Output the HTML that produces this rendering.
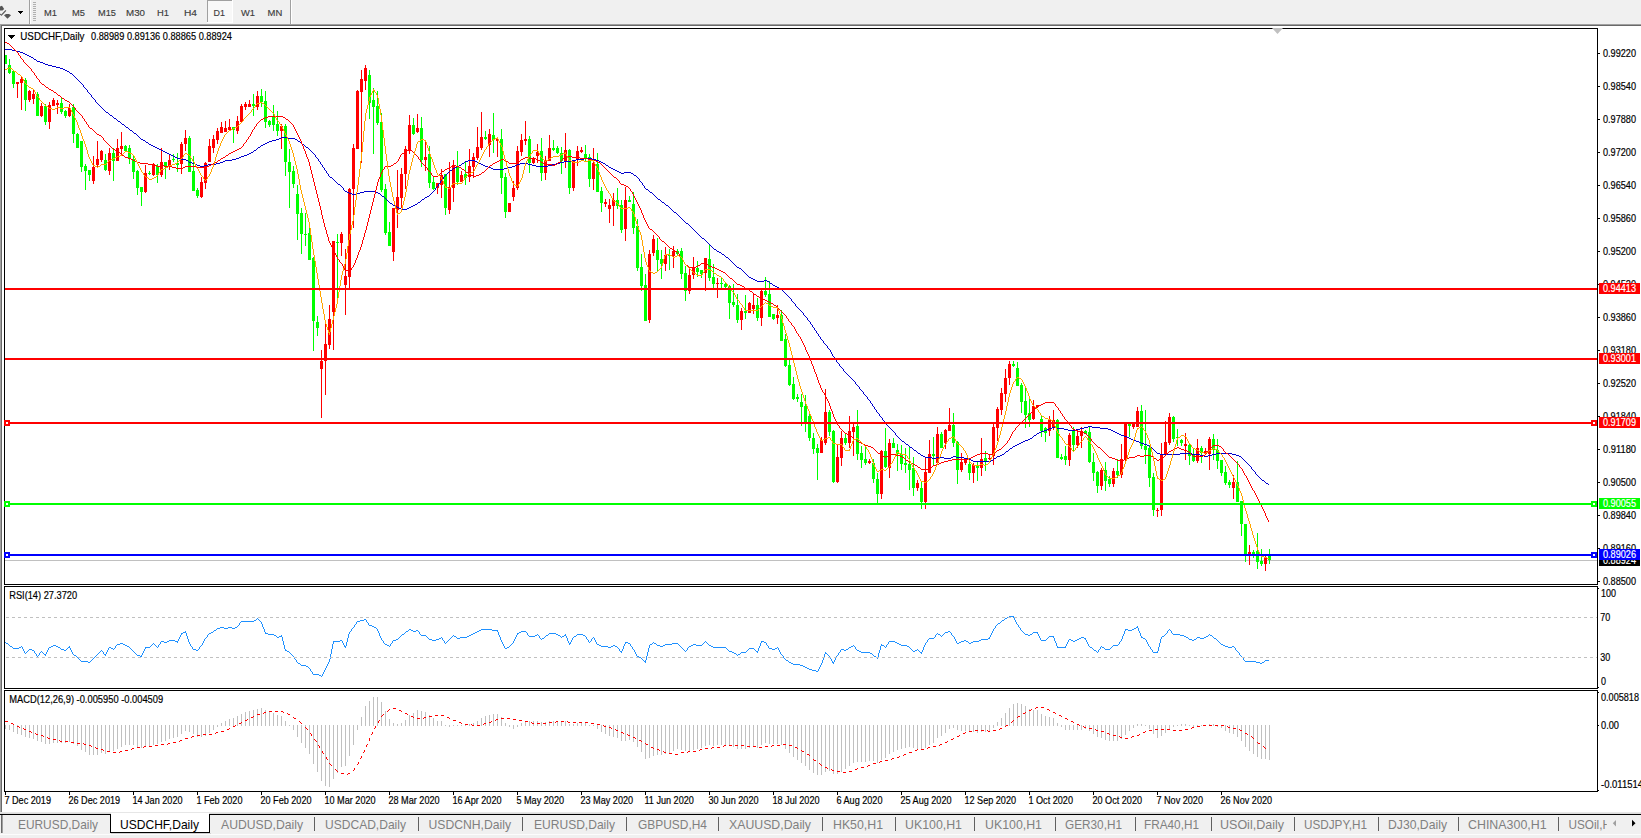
<!DOCTYPE html>
<html><head><meta charset="utf-8"><title>USDCHF,Daily</title>
<style>
html,body{margin:0;padding:0;background:#fff;}
body{width:1641px;height:838px;overflow:hidden;position:relative;font-family:"Liberation Sans", Arial, sans-serif;}
#chart{position:absolute;left:0;top:0;width:1641px;height:838px;}
svg text{font-family:"Liberation Sans", Arial, sans-serif;}
</style></head><body>
<svg id="chart" width="1641" height="838" viewBox="0 0 1641 838" shape-rendering="crispEdges">
<rect x="0" y="0" width="1641" height="838" fill="#ffffff"/>
<rect x="0" y="0" width="1641" height="24" fill="#f0f0f0"/>
<rect x="0" y="24" width="1641" height="1" fill="#a0a0a0"/>
<rect x="0" y="25" width="1641" height="1" fill="#696969"/>
<rect x="0" y="25" width="1" height="788" fill="#a0a0a0"/>
<rect x="1" y="26" width="1" height="787" fill="#696969"/>
<g id="toolbar">
<path d="M0 6.5 L2 5.8 L4.2 9 L2.5 10.6 L0 10.6 Z" fill="#555" shape-rendering="auto"/>
<path d="M5.9 10.3 L1.2 15.4" stroke="#555" stroke-width="1.2" fill="none" shape-rendering="auto"/>
<path d="M0 13.6 L1.2 15.4" stroke="#555" stroke-width="1" fill="none" shape-rendering="auto"/>
<path d="M4 15.3 L6 14 L9 14 L11 15.3 L7.5 18.8 Z" fill="#555" shape-rendering="auto"/>
<rect x="18" y="11" width="5" height="1" fill="#000"/>
<rect x="19" y="12" width="3" height="1" fill="#000"/>
<rect x="20" y="13" width="1" height="1" fill="#000"/>
<rect x="29" y="0" width="1" height="24" fill="#a0a0a0"/>
<rect x="30" y="0" width="1" height="24" fill="#ffffff"/>
<rect x="33" y="2" width="3" height="1" fill="#b0b0b0"/>
<rect x="33" y="4" width="3" height="1" fill="#b0b0b0"/>
<rect x="33" y="6" width="3" height="1" fill="#b0b0b0"/>
<rect x="33" y="8" width="3" height="1" fill="#b0b0b0"/>
<rect x="33" y="10" width="3" height="1" fill="#b0b0b0"/>
<rect x="33" y="12" width="3" height="1" fill="#b0b0b0"/>
<rect x="33" y="14" width="3" height="1" fill="#b0b0b0"/>
<rect x="33" y="16" width="3" height="1" fill="#b0b0b0"/>
<rect x="33" y="18" width="3" height="1" fill="#b0b0b0"/>
<rect x="33" y="20" width="3" height="1" fill="#b0b0b0"/>
<rect x="207" y="0" width="25" height="22" fill="#f8f8f8"/>
<rect x="207" y="0" width="1" height="22" fill="#a0a0a0"/>
<rect x="207" y="0" width="25" height="1" fill="#a0a0a0"/>
<rect x="232" y="0" width="1" height="23" fill="#ffffff"/>
<rect x="207" y="22" width="26" height="1" fill="#ffffff"/>
<text x="44" y="16" font-size="9.8" fill="#3c3c3c" stroke="#3c3c3c" stroke-width="0.15" textLength="13" lengthAdjust="spacingAndGlyphs" shape-rendering="auto">M1</text>
<text x="72" y="16" font-size="9.8" fill="#3c3c3c" stroke="#3c3c3c" stroke-width="0.15" textLength="13" lengthAdjust="spacingAndGlyphs" shape-rendering="auto">M5</text>
<text x="98" y="16" font-size="9.8" fill="#3c3c3c" stroke="#3c3c3c" stroke-width="0.15" textLength="18" lengthAdjust="spacingAndGlyphs" shape-rendering="auto">M15</text>
<text x="126" y="16" font-size="9.8" fill="#3c3c3c" stroke="#3c3c3c" stroke-width="0.15" textLength="19" lengthAdjust="spacingAndGlyphs" shape-rendering="auto">M30</text>
<text x="157" y="16" font-size="9.8" fill="#3c3c3c" stroke="#3c3c3c" stroke-width="0.15" textLength="12" lengthAdjust="spacingAndGlyphs" shape-rendering="auto">H1</text>
<text x="184" y="16" font-size="9.8" fill="#3c3c3c" stroke="#3c3c3c" stroke-width="0.15" textLength="13" lengthAdjust="spacingAndGlyphs" shape-rendering="auto">H4</text>
<text x="213.6" y="16" font-size="9.8" fill="#3c3c3c" stroke="#3c3c3c" stroke-width="0.15" textLength="11.4" lengthAdjust="spacingAndGlyphs" shape-rendering="auto">D1</text>
<text x="241" y="16" font-size="9.8" fill="#3c3c3c" stroke="#3c3c3c" stroke-width="0.15" textLength="14" lengthAdjust="spacingAndGlyphs" shape-rendering="auto">W1</text>
<text x="267.6" y="16" font-size="9.8" fill="#3c3c3c" stroke="#3c3c3c" stroke-width="0.15" textLength="14.7" lengthAdjust="spacingAndGlyphs" shape-rendering="auto">MN</text>
<rect x="290" y="0" width="1" height="24" fill="#a0a0a0"/>
<rect x="291" y="0" width="1" height="24" fill="#ffffff"/>
</g>
<rect x="4" y="28" width="1594" height="1" fill="#000"/>
<rect x="4" y="584" width="1594" height="1" fill="#000"/>
<rect x="4" y="28" width="1" height="557" fill="#000"/>
<rect x="1597" y="28" width="1" height="557" fill="#000"/>
<rect x="4" y="586" width="1594" height="1" fill="#000"/>
<rect x="4" y="688" width="1594" height="1" fill="#000"/>
<rect x="4" y="586" width="1" height="103" fill="#000"/>
<rect x="1597" y="586" width="1" height="103" fill="#000"/>
<rect x="4" y="690" width="1594" height="1" fill="#000"/>
<rect x="4" y="791" width="1594" height="1" fill="#000"/>
<rect x="4" y="690" width="1" height="102" fill="#000"/>
<rect x="1597" y="690" width="1" height="102" fill="#000"/>
<rect x="1598" y="53" width="2" height="1" fill="#000"/>
<text x="1603" y="57" font-size="10.2" fill="#000" textLength="33" lengthAdjust="spacingAndGlyphs" stroke="#000" stroke-width="0.18" text-anchor="start" shape-rendering="auto">0.99220</text>
<rect x="1598" y="86" width="2" height="1" fill="#000"/>
<text x="1603" y="90" font-size="10.2" fill="#000" textLength="33" lengthAdjust="spacingAndGlyphs" stroke="#000" stroke-width="0.18" text-anchor="start" shape-rendering="auto">0.98540</text>
<rect x="1598" y="119" width="2" height="1" fill="#000"/>
<text x="1603" y="123" font-size="10.2" fill="#000" textLength="33" lengthAdjust="spacingAndGlyphs" stroke="#000" stroke-width="0.18" text-anchor="start" shape-rendering="auto">0.97880</text>
<rect x="1598" y="152" width="2" height="1" fill="#000"/>
<text x="1603" y="156" font-size="10.2" fill="#000" textLength="33" lengthAdjust="spacingAndGlyphs" stroke="#000" stroke-width="0.18" text-anchor="start" shape-rendering="auto">0.97200</text>
<rect x="1598" y="185" width="2" height="1" fill="#000"/>
<text x="1603" y="189" font-size="10.2" fill="#000" textLength="33" lengthAdjust="spacingAndGlyphs" stroke="#000" stroke-width="0.18" text-anchor="start" shape-rendering="auto">0.96540</text>
<rect x="1598" y="218" width="2" height="1" fill="#000"/>
<text x="1603" y="222" font-size="10.2" fill="#000" textLength="33" lengthAdjust="spacingAndGlyphs" stroke="#000" stroke-width="0.18" text-anchor="start" shape-rendering="auto">0.95860</text>
<rect x="1598" y="251" width="2" height="1" fill="#000"/>
<text x="1603" y="255" font-size="10.2" fill="#000" textLength="33" lengthAdjust="spacingAndGlyphs" stroke="#000" stroke-width="0.18" text-anchor="start" shape-rendering="auto">0.95200</text>
<rect x="1598" y="284" width="2" height="1" fill="#000"/>
<text x="1603" y="288" font-size="10.2" fill="#000" textLength="33" lengthAdjust="spacingAndGlyphs" stroke="#000" stroke-width="0.18" text-anchor="start" shape-rendering="auto">0.94520</text>
<rect x="1598" y="317" width="2" height="1" fill="#000"/>
<text x="1603" y="321" font-size="10.2" fill="#000" textLength="33" lengthAdjust="spacingAndGlyphs" stroke="#000" stroke-width="0.18" text-anchor="start" shape-rendering="auto">0.93860</text>
<rect x="1598" y="350" width="2" height="1" fill="#000"/>
<text x="1603" y="354" font-size="10.2" fill="#000" textLength="33" lengthAdjust="spacingAndGlyphs" stroke="#000" stroke-width="0.18" text-anchor="start" shape-rendering="auto">0.93180</text>
<rect x="1598" y="383" width="2" height="1" fill="#000"/>
<text x="1603" y="387" font-size="10.2" fill="#000" textLength="33" lengthAdjust="spacingAndGlyphs" stroke="#000" stroke-width="0.18" text-anchor="start" shape-rendering="auto">0.92520</text>
<rect x="1598" y="416" width="2" height="1" fill="#000"/>
<text x="1603" y="420" font-size="10.2" fill="#000" textLength="33" lengthAdjust="spacingAndGlyphs" stroke="#000" stroke-width="0.18" text-anchor="start" shape-rendering="auto">0.91840</text>
<rect x="1598" y="449" width="2" height="1" fill="#000"/>
<text x="1603" y="453" font-size="10.2" fill="#000" textLength="33" lengthAdjust="spacingAndGlyphs" stroke="#000" stroke-width="0.18" text-anchor="start" shape-rendering="auto">0.91180</text>
<rect x="1598" y="482" width="2" height="1" fill="#000"/>
<text x="1603" y="486" font-size="10.2" fill="#000" textLength="33" lengthAdjust="spacingAndGlyphs" stroke="#000" stroke-width="0.18" text-anchor="start" shape-rendering="auto">0.90500</text>
<rect x="1598" y="515" width="2" height="1" fill="#000"/>
<text x="1603" y="519" font-size="10.2" fill="#000" textLength="33" lengthAdjust="spacingAndGlyphs" stroke="#000" stroke-width="0.18" text-anchor="start" shape-rendering="auto">0.89840</text>
<rect x="1598" y="548" width="2" height="1" fill="#000"/>
<text x="1603" y="552" font-size="10.2" fill="#000" textLength="33" lengthAdjust="spacingAndGlyphs" stroke="#000" stroke-width="0.18" text-anchor="start" shape-rendering="auto">0.89160</text>
<rect x="1598" y="581" width="2" height="1" fill="#000"/>
<text x="1603" y="585" font-size="10.2" fill="#000" textLength="33" lengthAdjust="spacingAndGlyphs" stroke="#000" stroke-width="0.18" text-anchor="start" shape-rendering="auto">0.88500</text>
<rect x="5" y="560" width="1592" height="1" fill="#c0c0c0"/>
<g id="candles">
<rect x="5" y="55" width="1" height="9" fill="#00ff00"/>
<rect x="5" y="55" width="2" height="9" fill="#00ff00"/>
<rect x="9" y="59" width="1" height="15" fill="#00ff00"/>
<rect x="8" y="65" width="3" height="8" fill="#00ff00"/>
<rect x="13" y="71" width="1" height="17" fill="#00ff00"/>
<rect x="12" y="71" width="3" height="13" fill="#00ff00"/>
<rect x="17" y="82" width="1" height="16" fill="#ff0000"/>
<rect x="16" y="82" width="3" height="2" fill="#ff0000"/>
<rect x="21" y="77" width="1" height="33" fill="#ff0000"/>
<rect x="20" y="79" width="3" height="4" fill="#ff0000"/>
<rect x="25" y="78" width="1" height="33" fill="#00ff00"/>
<rect x="24" y="80" width="3" height="20" fill="#00ff00"/>
<rect x="29" y="90" width="1" height="12" fill="#ff0000"/>
<rect x="28" y="91" width="3" height="9" fill="#ff0000"/>
<rect x="33" y="90" width="1" height="14" fill="#ff0000"/>
<rect x="32" y="94" width="3" height="5" fill="#ff0000"/>
<rect x="37" y="92" width="1" height="24" fill="#00ff00"/>
<rect x="36" y="94" width="3" height="22" fill="#00ff00"/>
<rect x="41" y="103" width="1" height="14" fill="#ff0000"/>
<rect x="40" y="106" width="3" height="10" fill="#ff0000"/>
<rect x="45" y="104" width="1" height="21" fill="#00ff00"/>
<rect x="44" y="106" width="3" height="16" fill="#00ff00"/>
<rect x="49" y="102" width="1" height="27" fill="#ff0000"/>
<rect x="48" y="105" width="3" height="17" fill="#ff0000"/>
<rect x="53" y="98" width="1" height="8" fill="#ff0000"/>
<rect x="52" y="100" width="3" height="6" fill="#ff0000"/>
<rect x="57" y="100" width="1" height="14" fill="#ff0000"/>
<rect x="56" y="103" width="3" height="2" fill="#ff0000"/>
<rect x="61" y="98" width="1" height="16" fill="#00ff00"/>
<rect x="60" y="103" width="3" height="9" fill="#00ff00"/>
<rect x="65" y="110" width="1" height="8" fill="#00ff00"/>
<rect x="64" y="111" width="3" height="5" fill="#00ff00"/>
<rect x="69" y="104" width="1" height="13" fill="#ff0000"/>
<rect x="68" y="108" width="3" height="8" fill="#ff0000"/>
<rect x="73" y="104" width="1" height="39" fill="#00ff00"/>
<rect x="72" y="107" width="3" height="27" fill="#00ff00"/>
<rect x="77" y="133" width="1" height="15" fill="#00ff00"/>
<rect x="76" y="134" width="3" height="14" fill="#00ff00"/>
<rect x="81" y="141" width="1" height="31" fill="#00ff00"/>
<rect x="80" y="141" width="3" height="26" fill="#00ff00"/>
<rect x="85" y="164" width="1" height="26" fill="#00ff00"/>
<rect x="84" y="166" width="3" height="5" fill="#00ff00"/>
<rect x="89" y="170" width="1" height="11" fill="#00ff00"/>
<rect x="88" y="170" width="3" height="5" fill="#00ff00"/>
<rect x="93" y="156" width="1" height="28" fill="#ff0000"/>
<rect x="92" y="167" width="3" height="14" fill="#ff0000"/>
<rect x="97" y="141" width="1" height="27" fill="#ff0000"/>
<rect x="96" y="159" width="3" height="6" fill="#ff0000"/>
<rect x="101" y="150" width="1" height="12" fill="#ff0000"/>
<rect x="100" y="151" width="3" height="9" fill="#ff0000"/>
<rect x="105" y="154" width="1" height="17" fill="#00ff00"/>
<rect x="104" y="160" width="3" height="10" fill="#00ff00"/>
<rect x="109" y="148" width="1" height="27" fill="#ff0000"/>
<rect x="108" y="153" width="3" height="18" fill="#ff0000"/>
<rect x="113" y="148" width="1" height="33" fill="#00ff00"/>
<rect x="112" y="153" width="3" height="8" fill="#00ff00"/>
<rect x="117" y="139" width="1" height="22" fill="#ff0000"/>
<rect x="116" y="148" width="3" height="13" fill="#ff0000"/>
<rect x="121" y="132" width="1" height="22" fill="#ff0000"/>
<rect x="120" y="146" width="3" height="3" fill="#ff0000"/>
<rect x="125" y="145" width="1" height="6" fill="#00ff00"/>
<rect x="124" y="146" width="3" height="5" fill="#00ff00"/>
<rect x="129" y="145" width="1" height="19" fill="#00ff00"/>
<rect x="128" y="148" width="3" height="11" fill="#00ff00"/>
<rect x="133" y="155" width="1" height="24" fill="#00ff00"/>
<rect x="132" y="159" width="3" height="13" fill="#00ff00"/>
<rect x="137" y="170" width="1" height="25" fill="#00ff00"/>
<rect x="136" y="171" width="3" height="17" fill="#00ff00"/>
<rect x="141" y="187" width="1" height="19" fill="#00ff00"/>
<rect x="140" y="187" width="3" height="5" fill="#00ff00"/>
<rect x="145" y="165" width="1" height="28" fill="#ff0000"/>
<rect x="144" y="173" width="3" height="19" fill="#ff0000"/>
<rect x="149" y="171" width="1" height="4" fill="#00ff00"/>
<rect x="148" y="173" width="3" height="1" fill="#00ff00"/>
<rect x="153" y="163" width="1" height="13" fill="#ff0000"/>
<rect x="152" y="164" width="3" height="11" fill="#ff0000"/>
<rect x="157" y="164" width="1" height="19" fill="#00ff00"/>
<rect x="156" y="166" width="3" height="9" fill="#00ff00"/>
<rect x="161" y="148" width="1" height="29" fill="#ff0000"/>
<rect x="160" y="162" width="3" height="13" fill="#ff0000"/>
<rect x="165" y="162" width="1" height="17" fill="#00ff00"/>
<rect x="164" y="162" width="3" height="4" fill="#00ff00"/>
<rect x="169" y="155" width="1" height="15" fill="#ff0000"/>
<rect x="168" y="160" width="3" height="7" fill="#ff0000"/>
<rect x="173" y="154" width="1" height="8" fill="#00ff00"/>
<rect x="172" y="159" width="3" height="1" fill="#00ff00"/>
<rect x="177" y="153" width="1" height="19" fill="#00ff00"/>
<rect x="176" y="163" width="3" height="2" fill="#00ff00"/>
<rect x="181" y="142" width="1" height="32" fill="#ff0000"/>
<rect x="180" y="144" width="3" height="20" fill="#ff0000"/>
<rect x="185" y="130" width="1" height="21" fill="#ff0000"/>
<rect x="184" y="138" width="3" height="6" fill="#ff0000"/>
<rect x="189" y="136" width="1" height="36" fill="#00ff00"/>
<rect x="188" y="138" width="3" height="34" fill="#00ff00"/>
<rect x="193" y="156" width="1" height="35" fill="#00ff00"/>
<rect x="192" y="171" width="3" height="20" fill="#00ff00"/>
<rect x="197" y="188" width="1" height="10" fill="#00ff00"/>
<rect x="196" y="190" width="3" height="6" fill="#00ff00"/>
<rect x="201" y="177" width="1" height="21" fill="#ff0000"/>
<rect x="200" y="182" width="3" height="15" fill="#ff0000"/>
<rect x="205" y="162" width="1" height="27" fill="#ff0000"/>
<rect x="204" y="163" width="3" height="20" fill="#ff0000"/>
<rect x="209" y="139" width="1" height="23" fill="#ff0000"/>
<rect x="208" y="146" width="3" height="16" fill="#ff0000"/>
<rect x="213" y="135" width="1" height="18" fill="#ff0000"/>
<rect x="212" y="139" width="3" height="9" fill="#ff0000"/>
<rect x="217" y="128" width="1" height="16" fill="#ff0000"/>
<rect x="216" y="131" width="3" height="9" fill="#ff0000"/>
<rect x="221" y="122" width="1" height="11" fill="#ff0000"/>
<rect x="220" y="127" width="3" height="6" fill="#ff0000"/>
<rect x="225" y="121" width="1" height="11" fill="#ff0000"/>
<rect x="224" y="128" width="3" height="4" fill="#ff0000"/>
<rect x="229" y="119" width="1" height="11" fill="#ff0000"/>
<rect x="228" y="127" width="3" height="3" fill="#ff0000"/>
<rect x="233" y="127" width="1" height="16" fill="#00ff00"/>
<rect x="232" y="127" width="3" height="3" fill="#00ff00"/>
<rect x="237" y="116" width="1" height="18" fill="#ff0000"/>
<rect x="236" y="121" width="3" height="10" fill="#ff0000"/>
<rect x="241" y="104" width="1" height="18" fill="#ff0000"/>
<rect x="240" y="106" width="3" height="16" fill="#ff0000"/>
<rect x="245" y="102" width="1" height="8" fill="#ff0000"/>
<rect x="244" y="104" width="3" height="3" fill="#ff0000"/>
<rect x="249" y="100" width="1" height="7" fill="#ff0000"/>
<rect x="248" y="104" width="3" height="3" fill="#ff0000"/>
<rect x="253" y="94" width="1" height="22" fill="#00ff00"/>
<rect x="252" y="104" width="3" height="2" fill="#00ff00"/>
<rect x="257" y="91" width="1" height="19" fill="#ff0000"/>
<rect x="256" y="96" width="3" height="11" fill="#ff0000"/>
<rect x="261" y="89" width="1" height="18" fill="#00ff00"/>
<rect x="260" y="96" width="3" height="6" fill="#00ff00"/>
<rect x="265" y="91" width="1" height="37" fill="#00ff00"/>
<rect x="264" y="101" width="3" height="21" fill="#00ff00"/>
<rect x="269" y="120" width="1" height="7" fill="#00ff00"/>
<rect x="268" y="121" width="3" height="4" fill="#00ff00"/>
<rect x="273" y="105" width="1" height="26" fill="#00ff00"/>
<rect x="272" y="116" width="3" height="9" fill="#00ff00"/>
<rect x="277" y="111" width="1" height="25" fill="#00ff00"/>
<rect x="276" y="124" width="3" height="7" fill="#00ff00"/>
<rect x="281" y="124" width="1" height="25" fill="#ff0000"/>
<rect x="280" y="126" width="3" height="5" fill="#ff0000"/>
<rect x="285" y="124" width="1" height="52" fill="#00ff00"/>
<rect x="284" y="126" width="3" height="36" fill="#00ff00"/>
<rect x="289" y="149" width="1" height="59" fill="#00ff00"/>
<rect x="288" y="162" width="3" height="10" fill="#00ff00"/>
<rect x="293" y="166" width="1" height="22" fill="#00ff00"/>
<rect x="292" y="171" width="3" height="13" fill="#00ff00"/>
<rect x="297" y="185" width="1" height="55" fill="#00ff00"/>
<rect x="296" y="194" width="3" height="20" fill="#00ff00"/>
<rect x="301" y="208" width="1" height="46" fill="#00ff00"/>
<rect x="300" y="213" width="3" height="21" fill="#00ff00"/>
<rect x="305" y="213" width="1" height="33" fill="#00ff00"/>
<rect x="304" y="234" width="3" height="1" fill="#00ff00"/>
<rect x="309" y="222" width="1" height="38" fill="#00ff00"/>
<rect x="308" y="233" width="3" height="27" fill="#00ff00"/>
<rect x="313" y="257" width="1" height="94" fill="#00ff00"/>
<rect x="312" y="258" width="3" height="63" fill="#00ff00"/>
<rect x="317" y="316" width="1" height="20" fill="#00ff00"/>
<rect x="316" y="322" width="3" height="6" fill="#00ff00"/>
<rect x="321" y="350" width="1" height="68" fill="#ff0000"/>
<rect x="320" y="361" width="3" height="8" fill="#ff0000"/>
<rect x="325" y="324" width="1" height="71" fill="#ff0000"/>
<rect x="324" y="344" width="3" height="17" fill="#ff0000"/>
<rect x="329" y="305" width="1" height="44" fill="#ff0000"/>
<rect x="328" y="319" width="3" height="26" fill="#ff0000"/>
<rect x="333" y="241" width="1" height="109" fill="#ff0000"/>
<rect x="332" y="241" width="3" height="71" fill="#ff0000"/>
<rect x="337" y="234" width="1" height="65" fill="#00ff00"/>
<rect x="336" y="242" width="3" height="1" fill="#00ff00"/>
<rect x="341" y="232" width="1" height="24" fill="#ff0000"/>
<rect x="340" y="234" width="3" height="9" fill="#ff0000"/>
<rect x="345" y="249" width="1" height="66" fill="#ff0000"/>
<rect x="344" y="276" width="3" height="9" fill="#ff0000"/>
<rect x="349" y="188" width="1" height="100" fill="#ff0000"/>
<rect x="348" y="189" width="3" height="88" fill="#ff0000"/>
<rect x="353" y="144" width="1" height="84" fill="#ff0000"/>
<rect x="352" y="148" width="3" height="41" fill="#ff0000"/>
<rect x="357" y="90" width="1" height="59" fill="#ff0000"/>
<rect x="356" y="91" width="3" height="58" fill="#ff0000"/>
<rect x="361" y="70" width="1" height="93" fill="#ff0000"/>
<rect x="360" y="79" width="3" height="13" fill="#ff0000"/>
<rect x="365" y="65" width="1" height="25" fill="#ff0000"/>
<rect x="364" y="68" width="3" height="13" fill="#ff0000"/>
<rect x="369" y="70" width="1" height="49" fill="#00ff00"/>
<rect x="368" y="75" width="3" height="28" fill="#00ff00"/>
<rect x="373" y="88" width="1" height="66" fill="#00ff00"/>
<rect x="372" y="100" width="3" height="7" fill="#00ff00"/>
<rect x="377" y="91" width="1" height="34" fill="#00ff00"/>
<rect x="376" y="106" width="3" height="17" fill="#00ff00"/>
<rect x="381" y="113" width="1" height="79" fill="#00ff00"/>
<rect x="380" y="122" width="3" height="68" fill="#00ff00"/>
<rect x="385" y="184" width="1" height="51" fill="#00ff00"/>
<rect x="384" y="189" width="3" height="44" fill="#00ff00"/>
<rect x="389" y="222" width="1" height="24" fill="#00ff00"/>
<rect x="388" y="232" width="3" height="14" fill="#00ff00"/>
<rect x="393" y="208" width="1" height="53" fill="#ff0000"/>
<rect x="392" y="208" width="3" height="44" fill="#ff0000"/>
<rect x="397" y="170" width="1" height="58" fill="#ff0000"/>
<rect x="396" y="197" width="3" height="13" fill="#ff0000"/>
<rect x="401" y="168" width="1" height="40" fill="#ff0000"/>
<rect x="400" y="174" width="3" height="24" fill="#ff0000"/>
<rect x="405" y="146" width="1" height="43" fill="#ff0000"/>
<rect x="404" y="149" width="3" height="25" fill="#ff0000"/>
<rect x="409" y="115" width="1" height="39" fill="#ff0000"/>
<rect x="408" y="125" width="3" height="25" fill="#ff0000"/>
<rect x="413" y="118" width="1" height="17" fill="#00ff00"/>
<rect x="412" y="125" width="3" height="9" fill="#00ff00"/>
<rect x="417" y="114" width="1" height="19" fill="#ff0000"/>
<rect x="416" y="128" width="3" height="4" fill="#ff0000"/>
<rect x="421" y="117" width="1" height="50" fill="#00ff00"/>
<rect x="420" y="128" width="3" height="32" fill="#00ff00"/>
<rect x="425" y="142" width="1" height="29" fill="#ff0000"/>
<rect x="424" y="157" width="3" height="3" fill="#ff0000"/>
<rect x="429" y="146" width="1" height="42" fill="#00ff00"/>
<rect x="428" y="154" width="3" height="29" fill="#00ff00"/>
<rect x="433" y="177" width="1" height="13" fill="#00ff00"/>
<rect x="432" y="182" width="3" height="7" fill="#00ff00"/>
<rect x="437" y="183" width="1" height="11" fill="#ff0000"/>
<rect x="436" y="183" width="3" height="5" fill="#ff0000"/>
<rect x="441" y="169" width="1" height="29" fill="#ff0000"/>
<rect x="440" y="175" width="3" height="10" fill="#ff0000"/>
<rect x="445" y="174" width="1" height="41" fill="#00ff00"/>
<rect x="444" y="174" width="3" height="34" fill="#00ff00"/>
<rect x="449" y="162" width="1" height="52" fill="#ff0000"/>
<rect x="448" y="187" width="3" height="23" fill="#ff0000"/>
<rect x="453" y="160" width="1" height="42" fill="#ff0000"/>
<rect x="452" y="165" width="3" height="23" fill="#ff0000"/>
<rect x="457" y="151" width="1" height="34" fill="#00ff00"/>
<rect x="456" y="166" width="3" height="16" fill="#00ff00"/>
<rect x="461" y="171" width="1" height="11" fill="#ff0000"/>
<rect x="460" y="175" width="3" height="7" fill="#ff0000"/>
<rect x="465" y="162" width="1" height="23" fill="#00ff00"/>
<rect x="464" y="174" width="3" height="4" fill="#00ff00"/>
<rect x="469" y="149" width="1" height="33" fill="#ff0000"/>
<rect x="468" y="166" width="3" height="11" fill="#ff0000"/>
<rect x="473" y="153" width="1" height="25" fill="#ff0000"/>
<rect x="472" y="157" width="3" height="10" fill="#ff0000"/>
<rect x="477" y="127" width="1" height="33" fill="#ff0000"/>
<rect x="476" y="147" width="3" height="11" fill="#ff0000"/>
<rect x="481" y="112" width="1" height="38" fill="#ff0000"/>
<rect x="480" y="137" width="3" height="11" fill="#ff0000"/>
<rect x="485" y="131" width="1" height="9" fill="#00ff00"/>
<rect x="484" y="137" width="3" height="2" fill="#00ff00"/>
<rect x="489" y="129" width="1" height="28" fill="#ff0000"/>
<rect x="488" y="134" width="3" height="11" fill="#ff0000"/>
<rect x="493" y="113" width="1" height="40" fill="#00ff00"/>
<rect x="492" y="135" width="3" height="5" fill="#00ff00"/>
<rect x="497" y="137" width="1" height="20" fill="#ff0000"/>
<rect x="496" y="139" width="3" height="2" fill="#ff0000"/>
<rect x="501" y="129" width="1" height="65" fill="#00ff00"/>
<rect x="500" y="139" width="3" height="39" fill="#00ff00"/>
<rect x="505" y="173" width="1" height="45" fill="#00ff00"/>
<rect x="504" y="177" width="3" height="35" fill="#00ff00"/>
<rect x="509" y="203" width="1" height="9" fill="#ff0000"/>
<rect x="508" y="203" width="3" height="9" fill="#ff0000"/>
<rect x="513" y="181" width="1" height="20" fill="#ff0000"/>
<rect x="512" y="188" width="3" height="9" fill="#ff0000"/>
<rect x="517" y="146" width="1" height="44" fill="#ff0000"/>
<rect x="516" y="151" width="3" height="37" fill="#ff0000"/>
<rect x="521" y="134" width="1" height="22" fill="#ff0000"/>
<rect x="520" y="140" width="3" height="12" fill="#ff0000"/>
<rect x="525" y="121" width="1" height="24" fill="#ff0000"/>
<rect x="524" y="139" width="3" height="2" fill="#ff0000"/>
<rect x="529" y="136" width="1" height="37" fill="#00ff00"/>
<rect x="528" y="139" width="3" height="24" fill="#00ff00"/>
<rect x="533" y="157" width="1" height="7" fill="#ff0000"/>
<rect x="532" y="159" width="3" height="4" fill="#ff0000"/>
<rect x="537" y="144" width="1" height="19" fill="#ff0000"/>
<rect x="536" y="152" width="3" height="4" fill="#ff0000"/>
<rect x="541" y="138" width="1" height="43" fill="#00ff00"/>
<rect x="540" y="151" width="3" height="22" fill="#00ff00"/>
<rect x="545" y="156" width="1" height="24" fill="#ff0000"/>
<rect x="544" y="161" width="3" height="12" fill="#ff0000"/>
<rect x="549" y="135" width="1" height="26" fill="#ff0000"/>
<rect x="548" y="148" width="3" height="13" fill="#ff0000"/>
<rect x="553" y="140" width="1" height="11" fill="#00ff00"/>
<rect x="552" y="148" width="3" height="2" fill="#00ff00"/>
<rect x="557" y="146" width="1" height="8" fill="#00ff00"/>
<rect x="556" y="148" width="3" height="5" fill="#00ff00"/>
<rect x="561" y="147" width="1" height="27" fill="#00ff00"/>
<rect x="560" y="153" width="3" height="8" fill="#00ff00"/>
<rect x="565" y="133" width="1" height="35" fill="#ff0000"/>
<rect x="564" y="150" width="3" height="11" fill="#ff0000"/>
<rect x="569" y="149" width="1" height="45" fill="#00ff00"/>
<rect x="568" y="150" width="3" height="38" fill="#00ff00"/>
<rect x="573" y="160" width="1" height="31" fill="#ff0000"/>
<rect x="572" y="161" width="3" height="27" fill="#ff0000"/>
<rect x="577" y="146" width="1" height="20" fill="#ff0000"/>
<rect x="576" y="151" width="3" height="9" fill="#ff0000"/>
<rect x="581" y="147" width="1" height="6" fill="#ff0000"/>
<rect x="580" y="150" width="3" height="2" fill="#ff0000"/>
<rect x="585" y="145" width="1" height="16" fill="#00ff00"/>
<rect x="584" y="154" width="3" height="5" fill="#00ff00"/>
<rect x="589" y="154" width="1" height="33" fill="#00ff00"/>
<rect x="588" y="157" width="3" height="22" fill="#00ff00"/>
<rect x="593" y="148" width="1" height="42" fill="#ff0000"/>
<rect x="592" y="163" width="3" height="16" fill="#ff0000"/>
<rect x="597" y="153" width="1" height="39" fill="#00ff00"/>
<rect x="596" y="164" width="3" height="28" fill="#00ff00"/>
<rect x="601" y="187" width="1" height="25" fill="#00ff00"/>
<rect x="600" y="191" width="3" height="12" fill="#00ff00"/>
<rect x="605" y="199" width="1" height="8" fill="#ff0000"/>
<rect x="604" y="202" width="3" height="2" fill="#ff0000"/>
<rect x="609" y="199" width="1" height="24" fill="#ff0000"/>
<rect x="608" y="205" width="3" height="4" fill="#ff0000"/>
<rect x="613" y="193" width="1" height="33" fill="#ff0000"/>
<rect x="612" y="200" width="3" height="6" fill="#ff0000"/>
<rect x="617" y="188" width="1" height="21" fill="#00ff00"/>
<rect x="616" y="200" width="3" height="6" fill="#00ff00"/>
<rect x="621" y="200" width="1" height="33" fill="#00ff00"/>
<rect x="620" y="205" width="3" height="25" fill="#00ff00"/>
<rect x="625" y="187" width="1" height="54" fill="#ff0000"/>
<rect x="624" y="200" width="3" height="29" fill="#ff0000"/>
<rect x="629" y="196" width="1" height="6" fill="#00ff00"/>
<rect x="628" y="200" width="3" height="2" fill="#00ff00"/>
<rect x="633" y="192" width="1" height="42" fill="#00ff00"/>
<rect x="632" y="204" width="3" height="24" fill="#00ff00"/>
<rect x="637" y="219" width="1" height="52" fill="#00ff00"/>
<rect x="636" y="226" width="3" height="42" fill="#00ff00"/>
<rect x="641" y="254" width="1" height="37" fill="#00ff00"/>
<rect x="640" y="267" width="3" height="19" fill="#00ff00"/>
<rect x="645" y="274" width="1" height="47" fill="#00ff00"/>
<rect x="644" y="285" width="3" height="36" fill="#00ff00"/>
<rect x="649" y="250" width="1" height="73" fill="#ff0000"/>
<rect x="648" y="254" width="3" height="66" fill="#ff0000"/>
<rect x="653" y="235" width="1" height="21" fill="#ff0000"/>
<rect x="652" y="239" width="3" height="14" fill="#ff0000"/>
<rect x="657" y="238" width="1" height="33" fill="#00ff00"/>
<rect x="656" y="250" width="3" height="10" fill="#00ff00"/>
<rect x="661" y="250" width="1" height="29" fill="#00ff00"/>
<rect x="660" y="259" width="3" height="5" fill="#00ff00"/>
<rect x="665" y="247" width="1" height="24" fill="#ff0000"/>
<rect x="664" y="255" width="3" height="9" fill="#ff0000"/>
<rect x="669" y="249" width="1" height="21" fill="#00ff00"/>
<rect x="668" y="255" width="3" height="1" fill="#00ff00"/>
<rect x="673" y="246" width="1" height="22" fill="#ff0000"/>
<rect x="672" y="251" width="3" height="5" fill="#ff0000"/>
<rect x="677" y="249" width="1" height="6" fill="#00ff00"/>
<rect x="676" y="251" width="3" height="3" fill="#00ff00"/>
<rect x="681" y="248" width="1" height="31" fill="#00ff00"/>
<rect x="680" y="251" width="3" height="23" fill="#00ff00"/>
<rect x="685" y="266" width="1" height="35" fill="#00ff00"/>
<rect x="684" y="273" width="3" height="18" fill="#00ff00"/>
<rect x="689" y="269" width="1" height="25" fill="#ff0000"/>
<rect x="688" y="275" width="3" height="16" fill="#ff0000"/>
<rect x="693" y="257" width="1" height="22" fill="#ff0000"/>
<rect x="692" y="267" width="3" height="8" fill="#ff0000"/>
<rect x="697" y="261" width="1" height="16" fill="#00ff00"/>
<rect x="696" y="268" width="3" height="4" fill="#00ff00"/>
<rect x="701" y="270" width="1" height="8" fill="#00ff00"/>
<rect x="700" y="270" width="3" height="4" fill="#00ff00"/>
<rect x="705" y="258" width="1" height="33" fill="#ff0000"/>
<rect x="704" y="258" width="3" height="15" fill="#ff0000"/>
<rect x="709" y="245" width="1" height="36" fill="#00ff00"/>
<rect x="708" y="259" width="3" height="19" fill="#00ff00"/>
<rect x="713" y="264" width="1" height="24" fill="#00ff00"/>
<rect x="712" y="277" width="3" height="7" fill="#00ff00"/>
<rect x="717" y="278" width="1" height="20" fill="#ff0000"/>
<rect x="716" y="283" width="3" height="1" fill="#ff0000"/>
<rect x="721" y="277" width="1" height="11" fill="#00ff00"/>
<rect x="720" y="283" width="3" height="1" fill="#00ff00"/>
<rect x="725" y="282" width="1" height="6" fill="#00ff00"/>
<rect x="724" y="284" width="3" height="3" fill="#00ff00"/>
<rect x="729" y="285" width="1" height="34" fill="#00ff00"/>
<rect x="728" y="286" width="3" height="17" fill="#00ff00"/>
<rect x="733" y="284" width="1" height="23" fill="#00ff00"/>
<rect x="732" y="302" width="3" height="3" fill="#00ff00"/>
<rect x="737" y="294" width="1" height="29" fill="#00ff00"/>
<rect x="736" y="305" width="3" height="15" fill="#00ff00"/>
<rect x="741" y="308" width="1" height="22" fill="#ff0000"/>
<rect x="740" y="311" width="3" height="9" fill="#ff0000"/>
<rect x="745" y="295" width="1" height="24" fill="#00ff00"/>
<rect x="744" y="311" width="3" height="2" fill="#00ff00"/>
<rect x="749" y="302" width="1" height="11" fill="#ff0000"/>
<rect x="748" y="303" width="3" height="10" fill="#ff0000"/>
<rect x="753" y="293" width="1" height="21" fill="#ff0000"/>
<rect x="752" y="305" width="3" height="4" fill="#ff0000"/>
<rect x="757" y="298" width="1" height="23" fill="#00ff00"/>
<rect x="756" y="305" width="3" height="13" fill="#00ff00"/>
<rect x="761" y="290" width="1" height="36" fill="#ff0000"/>
<rect x="760" y="291" width="3" height="27" fill="#ff0000"/>
<rect x="765" y="277" width="1" height="20" fill="#00ff00"/>
<rect x="764" y="291" width="3" height="4" fill="#00ff00"/>
<rect x="769" y="281" width="1" height="36" fill="#00ff00"/>
<rect x="768" y="294" width="3" height="23" fill="#00ff00"/>
<rect x="773" y="314" width="1" height="6" fill="#00ff00"/>
<rect x="772" y="314" width="3" height="5" fill="#00ff00"/>
<rect x="777" y="305" width="1" height="19" fill="#ff0000"/>
<rect x="776" y="315" width="3" height="3" fill="#ff0000"/>
<rect x="781" y="310" width="1" height="31" fill="#00ff00"/>
<rect x="780" y="315" width="3" height="26" fill="#00ff00"/>
<rect x="785" y="334" width="1" height="33" fill="#00ff00"/>
<rect x="784" y="339" width="3" height="27" fill="#00ff00"/>
<rect x="789" y="359" width="1" height="27" fill="#00ff00"/>
<rect x="788" y="365" width="3" height="20" fill="#00ff00"/>
<rect x="793" y="377" width="1" height="23" fill="#00ff00"/>
<rect x="792" y="384" width="3" height="15" fill="#00ff00"/>
<rect x="797" y="394" width="1" height="8" fill="#00ff00"/>
<rect x="796" y="397" width="3" height="2" fill="#00ff00"/>
<rect x="801" y="394" width="1" height="32" fill="#00ff00"/>
<rect x="800" y="402" width="3" height="5" fill="#00ff00"/>
<rect x="805" y="395" width="1" height="37" fill="#00ff00"/>
<rect x="804" y="406" width="3" height="18" fill="#00ff00"/>
<rect x="809" y="414" width="1" height="27" fill="#00ff00"/>
<rect x="808" y="416" width="3" height="22" fill="#00ff00"/>
<rect x="813" y="433" width="1" height="21" fill="#00ff00"/>
<rect x="812" y="438" width="3" height="11" fill="#00ff00"/>
<rect x="817" y="444" width="1" height="36" fill="#00ff00"/>
<rect x="816" y="448" width="3" height="5" fill="#00ff00"/>
<rect x="821" y="437" width="1" height="16" fill="#ff0000"/>
<rect x="820" y="440" width="3" height="13" fill="#ff0000"/>
<rect x="825" y="389" width="1" height="56" fill="#ff0000"/>
<rect x="824" y="412" width="3" height="31" fill="#ff0000"/>
<rect x="829" y="410" width="1" height="26" fill="#00ff00"/>
<rect x="828" y="412" width="3" height="20" fill="#00ff00"/>
<rect x="833" y="430" width="1" height="53" fill="#00ff00"/>
<rect x="832" y="431" width="3" height="51" fill="#00ff00"/>
<rect x="837" y="444" width="1" height="39" fill="#ff0000"/>
<rect x="836" y="457" width="3" height="25" fill="#ff0000"/>
<rect x="841" y="431" width="1" height="35" fill="#ff0000"/>
<rect x="840" y="438" width="3" height="20" fill="#ff0000"/>
<rect x="845" y="434" width="1" height="11" fill="#00ff00"/>
<rect x="844" y="438" width="3" height="5" fill="#00ff00"/>
<rect x="849" y="416" width="1" height="32" fill="#ff0000"/>
<rect x="848" y="431" width="3" height="12" fill="#ff0000"/>
<rect x="853" y="424" width="1" height="32" fill="#ff0000"/>
<rect x="852" y="427" width="3" height="5" fill="#ff0000"/>
<rect x="857" y="410" width="1" height="50" fill="#00ff00"/>
<rect x="856" y="426" width="3" height="28" fill="#00ff00"/>
<rect x="861" y="446" width="1" height="22" fill="#00ff00"/>
<rect x="860" y="453" width="3" height="7" fill="#00ff00"/>
<rect x="865" y="447" width="1" height="18" fill="#00ff00"/>
<rect x="864" y="459" width="3" height="4" fill="#00ff00"/>
<rect x="869" y="459" width="1" height="5" fill="#ff0000"/>
<rect x="868" y="461" width="3" height="2" fill="#ff0000"/>
<rect x="873" y="459" width="1" height="24" fill="#00ff00"/>
<rect x="872" y="463" width="3" height="16" fill="#00ff00"/>
<rect x="877" y="473" width="1" height="30" fill="#00ff00"/>
<rect x="876" y="479" width="3" height="15" fill="#00ff00"/>
<rect x="881" y="450" width="1" height="49" fill="#ff0000"/>
<rect x="880" y="451" width="3" height="43" fill="#ff0000"/>
<rect x="885" y="428" width="1" height="40" fill="#00ff00"/>
<rect x="884" y="451" width="3" height="16" fill="#00ff00"/>
<rect x="889" y="439" width="1" height="39" fill="#ff0000"/>
<rect x="888" y="443" width="3" height="25" fill="#ff0000"/>
<rect x="893" y="438" width="1" height="10" fill="#00ff00"/>
<rect x="892" y="443" width="3" height="5" fill="#00ff00"/>
<rect x="897" y="444" width="1" height="27" fill="#00ff00"/>
<rect x="896" y="450" width="3" height="4" fill="#00ff00"/>
<rect x="901" y="445" width="1" height="25" fill="#00ff00"/>
<rect x="900" y="454" width="3" height="10" fill="#00ff00"/>
<rect x="905" y="448" width="1" height="25" fill="#00ff00"/>
<rect x="904" y="463" width="3" height="2" fill="#00ff00"/>
<rect x="909" y="447" width="1" height="43" fill="#00ff00"/>
<rect x="908" y="464" width="3" height="6" fill="#00ff00"/>
<rect x="913" y="457" width="1" height="39" fill="#00ff00"/>
<rect x="912" y="468" width="3" height="20" fill="#00ff00"/>
<rect x="917" y="480" width="1" height="11" fill="#ff0000"/>
<rect x="916" y="483" width="3" height="5" fill="#ff0000"/>
<rect x="921" y="482" width="1" height="27" fill="#00ff00"/>
<rect x="920" y="488" width="3" height="14" fill="#00ff00"/>
<rect x="925" y="458" width="1" height="51" fill="#ff0000"/>
<rect x="924" y="472" width="3" height="30" fill="#ff0000"/>
<rect x="929" y="440" width="1" height="33" fill="#ff0000"/>
<rect x="928" y="454" width="3" height="19" fill="#ff0000"/>
<rect x="933" y="437" width="1" height="28" fill="#00ff00"/>
<rect x="932" y="454" width="3" height="2" fill="#00ff00"/>
<rect x="937" y="427" width="1" height="36" fill="#ff0000"/>
<rect x="936" y="434" width="3" height="29" fill="#ff0000"/>
<rect x="941" y="432" width="1" height="16" fill="#00ff00"/>
<rect x="940" y="434" width="3" height="14" fill="#00ff00"/>
<rect x="945" y="429" width="1" height="20" fill="#ff0000"/>
<rect x="944" y="430" width="3" height="13" fill="#ff0000"/>
<rect x="949" y="408" width="1" height="23" fill="#ff0000"/>
<rect x="948" y="425" width="3" height="6" fill="#ff0000"/>
<rect x="953" y="413" width="1" height="34" fill="#00ff00"/>
<rect x="952" y="425" width="3" height="18" fill="#00ff00"/>
<rect x="957" y="441" width="1" height="43" fill="#00ff00"/>
<rect x="956" y="442" width="3" height="28" fill="#00ff00"/>
<rect x="961" y="453" width="1" height="19" fill="#ff0000"/>
<rect x="960" y="462" width="3" height="8" fill="#ff0000"/>
<rect x="965" y="458" width="1" height="7" fill="#ff0000"/>
<rect x="964" y="459" width="3" height="4" fill="#ff0000"/>
<rect x="969" y="462" width="1" height="18" fill="#00ff00"/>
<rect x="968" y="464" width="3" height="9" fill="#00ff00"/>
<rect x="973" y="463" width="1" height="20" fill="#ff0000"/>
<rect x="972" y="465" width="3" height="8" fill="#ff0000"/>
<rect x="977" y="462" width="1" height="19" fill="#00ff00"/>
<rect x="976" y="466" width="3" height="2" fill="#00ff00"/>
<rect x="981" y="438" width="1" height="38" fill="#ff0000"/>
<rect x="980" y="459" width="3" height="9" fill="#ff0000"/>
<rect x="985" y="451" width="1" height="20" fill="#00ff00"/>
<rect x="984" y="458" width="3" height="3" fill="#00ff00"/>
<rect x="989" y="455" width="1" height="5" fill="#ff0000"/>
<rect x="988" y="458" width="3" height="1" fill="#ff0000"/>
<rect x="993" y="424" width="1" height="41" fill="#ff0000"/>
<rect x="992" y="427" width="3" height="29" fill="#ff0000"/>
<rect x="997" y="407" width="1" height="34" fill="#ff0000"/>
<rect x="996" y="409" width="3" height="19" fill="#ff0000"/>
<rect x="1001" y="388" width="1" height="27" fill="#ff0000"/>
<rect x="1000" y="393" width="3" height="17" fill="#ff0000"/>
<rect x="1005" y="369" width="1" height="33" fill="#ff0000"/>
<rect x="1004" y="378" width="3" height="16" fill="#ff0000"/>
<rect x="1009" y="361" width="1" height="24" fill="#ff0000"/>
<rect x="1008" y="364" width="3" height="14" fill="#ff0000"/>
<rect x="1013" y="361" width="1" height="6" fill="#00ff00"/>
<rect x="1012" y="364" width="3" height="2" fill="#00ff00"/>
<rect x="1017" y="362" width="1" height="24" fill="#00ff00"/>
<rect x="1016" y="368" width="3" height="18" fill="#00ff00"/>
<rect x="1021" y="383" width="1" height="30" fill="#00ff00"/>
<rect x="1020" y="385" width="3" height="17" fill="#00ff00"/>
<rect x="1025" y="388" width="1" height="40" fill="#00ff00"/>
<rect x="1024" y="401" width="3" height="14" fill="#00ff00"/>
<rect x="1029" y="399" width="1" height="28" fill="#00ff00"/>
<rect x="1028" y="413" width="3" height="7" fill="#00ff00"/>
<rect x="1033" y="400" width="1" height="20" fill="#ff0000"/>
<rect x="1032" y="406" width="3" height="13" fill="#ff0000"/>
<rect x="1037" y="405" width="1" height="3" fill="#ff0000"/>
<rect x="1036" y="405" width="3" height="2" fill="#ff0000"/>
<rect x="1041" y="415" width="1" height="22" fill="#00ff00"/>
<rect x="1040" y="419" width="3" height="12" fill="#00ff00"/>
<rect x="1045" y="427" width="1" height="15" fill="#00ff00"/>
<rect x="1044" y="428" width="3" height="5" fill="#00ff00"/>
<rect x="1049" y="416" width="1" height="20" fill="#ff0000"/>
<rect x="1048" y="420" width="3" height="11" fill="#ff0000"/>
<rect x="1053" y="410" width="1" height="20" fill="#ff0000"/>
<rect x="1052" y="420" width="3" height="7" fill="#ff0000"/>
<rect x="1057" y="419" width="1" height="39" fill="#00ff00"/>
<rect x="1056" y="420" width="3" height="38" fill="#00ff00"/>
<rect x="1061" y="454" width="1" height="6" fill="#00ff00"/>
<rect x="1060" y="457" width="3" height="2" fill="#00ff00"/>
<rect x="1065" y="446" width="1" height="19" fill="#00ff00"/>
<rect x="1064" y="456" width="3" height="4" fill="#00ff00"/>
<rect x="1069" y="433" width="1" height="33" fill="#ff0000"/>
<rect x="1068" y="435" width="3" height="25" fill="#ff0000"/>
<rect x="1073" y="427" width="1" height="24" fill="#00ff00"/>
<rect x="1072" y="431" width="3" height="14" fill="#00ff00"/>
<rect x="1077" y="430" width="1" height="18" fill="#ff0000"/>
<rect x="1076" y="436" width="3" height="9" fill="#ff0000"/>
<rect x="1081" y="427" width="1" height="21" fill="#ff0000"/>
<rect x="1080" y="431" width="3" height="5" fill="#ff0000"/>
<rect x="1085" y="430" width="1" height="4" fill="#00ff00"/>
<rect x="1084" y="431" width="3" height="3" fill="#00ff00"/>
<rect x="1089" y="426" width="1" height="37" fill="#00ff00"/>
<rect x="1088" y="432" width="3" height="30" fill="#00ff00"/>
<rect x="1093" y="453" width="1" height="28" fill="#00ff00"/>
<rect x="1092" y="462" width="3" height="11" fill="#00ff00"/>
<rect x="1097" y="471" width="1" height="22" fill="#00ff00"/>
<rect x="1096" y="472" width="3" height="14" fill="#00ff00"/>
<rect x="1101" y="468" width="1" height="22" fill="#ff0000"/>
<rect x="1100" y="470" width="3" height="16" fill="#ff0000"/>
<rect x="1105" y="462" width="1" height="29" fill="#00ff00"/>
<rect x="1104" y="470" width="3" height="11" fill="#00ff00"/>
<rect x="1109" y="476" width="1" height="11" fill="#00ff00"/>
<rect x="1108" y="479" width="3" height="5" fill="#00ff00"/>
<rect x="1113" y="468" width="1" height="19" fill="#ff0000"/>
<rect x="1112" y="471" width="3" height="13" fill="#ff0000"/>
<rect x="1117" y="459" width="1" height="19" fill="#00ff00"/>
<rect x="1116" y="471" width="3" height="4" fill="#00ff00"/>
<rect x="1121" y="444" width="1" height="34" fill="#ff0000"/>
<rect x="1120" y="459" width="3" height="16" fill="#ff0000"/>
<rect x="1125" y="423" width="1" height="38" fill="#ff0000"/>
<rect x="1124" y="423" width="3" height="37" fill="#ff0000"/>
<rect x="1129" y="423" width="1" height="14" fill="#00ff00"/>
<rect x="1128" y="424" width="3" height="2" fill="#00ff00"/>
<rect x="1133" y="423" width="1" height="6" fill="#ff0000"/>
<rect x="1132" y="424" width="3" height="3" fill="#ff0000"/>
<rect x="1137" y="407" width="1" height="20" fill="#ff0000"/>
<rect x="1136" y="411" width="3" height="16" fill="#ff0000"/>
<rect x="1141" y="405" width="1" height="44" fill="#00ff00"/>
<rect x="1140" y="411" width="3" height="35" fill="#00ff00"/>
<rect x="1145" y="410" width="1" height="54" fill="#00ff00"/>
<rect x="1144" y="446" width="3" height="4" fill="#00ff00"/>
<rect x="1149" y="445" width="1" height="42" fill="#00ff00"/>
<rect x="1148" y="448" width="3" height="30" fill="#00ff00"/>
<rect x="1153" y="473" width="1" height="43" fill="#00ff00"/>
<rect x="1152" y="477" width="3" height="33" fill="#00ff00"/>
<rect x="1157" y="508" width="1" height="9" fill="#ff0000"/>
<rect x="1156" y="510" width="3" height="1" fill="#ff0000"/>
<rect x="1161" y="443" width="1" height="73" fill="#ff0000"/>
<rect x="1160" y="454" width="3" height="56" fill="#ff0000"/>
<rect x="1165" y="421" width="1" height="33" fill="#ff0000"/>
<rect x="1164" y="442" width="3" height="12" fill="#ff0000"/>
<rect x="1169" y="413" width="1" height="32" fill="#ff0000"/>
<rect x="1168" y="417" width="3" height="26" fill="#ff0000"/>
<rect x="1173" y="416" width="1" height="26" fill="#00ff00"/>
<rect x="1172" y="417" width="3" height="22" fill="#00ff00"/>
<rect x="1177" y="429" width="1" height="17" fill="#00ff00"/>
<rect x="1176" y="437" width="3" height="1" fill="#00ff00"/>
<rect x="1181" y="439" width="1" height="7" fill="#00ff00"/>
<rect x="1180" y="440" width="3" height="3" fill="#00ff00"/>
<rect x="1185" y="433" width="1" height="27" fill="#ff0000"/>
<rect x="1184" y="444" width="3" height="2" fill="#ff0000"/>
<rect x="1189" y="444" width="1" height="21" fill="#00ff00"/>
<rect x="1188" y="445" width="3" height="11" fill="#00ff00"/>
<rect x="1193" y="448" width="1" height="14" fill="#00ff00"/>
<rect x="1192" y="455" width="3" height="6" fill="#00ff00"/>
<rect x="1197" y="439" width="1" height="24" fill="#ff0000"/>
<rect x="1196" y="448" width="3" height="13" fill="#ff0000"/>
<rect x="1201" y="446" width="1" height="17" fill="#00ff00"/>
<rect x="1200" y="448" width="3" height="5" fill="#00ff00"/>
<rect x="1205" y="448" width="1" height="6" fill="#ff0000"/>
<rect x="1204" y="451" width="3" height="2" fill="#ff0000"/>
<rect x="1209" y="437" width="1" height="33" fill="#ff0000"/>
<rect x="1208" y="439" width="3" height="15" fill="#ff0000"/>
<rect x="1213" y="434" width="1" height="26" fill="#00ff00"/>
<rect x="1212" y="439" width="3" height="11" fill="#00ff00"/>
<rect x="1217" y="439" width="1" height="30" fill="#00ff00"/>
<rect x="1216" y="450" width="3" height="11" fill="#00ff00"/>
<rect x="1221" y="460" width="1" height="16" fill="#00ff00"/>
<rect x="1220" y="460" width="3" height="13" fill="#00ff00"/>
<rect x="1225" y="466" width="1" height="19" fill="#00ff00"/>
<rect x="1224" y="472" width="3" height="11" fill="#00ff00"/>
<rect x="1229" y="480" width="1" height="8" fill="#00ff00"/>
<rect x="1228" y="482" width="3" height="3" fill="#00ff00"/>
<rect x="1233" y="475" width="1" height="24" fill="#ff0000"/>
<rect x="1232" y="482" width="3" height="6" fill="#ff0000"/>
<rect x="1237" y="461" width="1" height="41" fill="#00ff00"/>
<rect x="1236" y="482" width="3" height="20" fill="#00ff00"/>
<rect x="1241" y="501" width="1" height="35" fill="#00ff00"/>
<rect x="1240" y="501" width="3" height="23" fill="#00ff00"/>
<rect x="1245" y="524" width="1" height="38" fill="#00ff00"/>
<rect x="1244" y="524" width="3" height="30" fill="#00ff00"/>
<rect x="1249" y="545" width="1" height="20" fill="#ff0000"/>
<rect x="1248" y="552" width="3" height="2" fill="#ff0000"/>
<rect x="1253" y="550" width="1" height="8" fill="#00ff00"/>
<rect x="1252" y="552" width="3" height="2" fill="#00ff00"/>
<rect x="1257" y="533" width="1" height="36" fill="#00ff00"/>
<rect x="1256" y="551" width="3" height="11" fill="#00ff00"/>
<rect x="1261" y="549" width="1" height="17" fill="#00ff00"/>
<rect x="1260" y="561" width="3" height="3" fill="#00ff00"/>
<rect x="1265" y="556" width="1" height="15" fill="#ff0000"/>
<rect x="1264" y="558" width="3" height="6" fill="#ff0000"/>
<rect x="1269" y="549" width="1" height="15" fill="#00ff00"/>
<rect x="1268" y="556" width="3" height="4" fill="#00ff00"/>
</g>
<g id="ma" shape-rendering="crispEdges">
<path d="M5 49h7v1h-7zM12 50h4v1h-4zM16 51h4v1h-4zM20 52h3v1h-3zM23 53h2v1h-2zM25 54h2v1h-2zM27 55h2v1h-2zM29 56h2v1h-2zM31 57h2v1h-2zM33 58h1v1h-1zM34 59h2v1h-2zM36 60h1v1h-1zM37 61h3v1h-3zM40 62h3v1h-3zM43 63h2v1h-2zM45 64h3v1h-3zM48 65h4v1h-4zM52 66h4v1h-4zM56 67h4v1h-4zM60 68h3v1h-3zM63 69h2v1h-2zM65 70h2v1h-2zM67 71h2v1h-2zM69 72h1v1h-1zM70 73h2v1h-2zM72 74h1v1h-1zM73 75h1v1h-1zM74 76h1v1h-1zM75 77h1v1h-1zM76 78h1v1h-1zM77 79h1v1h-1zM78 80h1v1h-1zM79 81h1v1h-1zM80 82h1v1h-1zM81 83h1v1h-1zM82 84h1v1h-1zM83 85h1v2h-1zM84 87h1v1h-1zM85 88h1v1h-1zM86 89h1v1h-1zM87 90h1v2h-1zM88 92h1v1h-1zM89 93h1v1h-1zM90 94h1v1h-1zM91 95h1v2h-1zM92 97h1v1h-1zM93 98h1v1h-1zM94 99h1v1h-1zM95 100h1v2h-1zM96 102h1v1h-1zM97 103h1v1h-1zM98 104h1v1h-1zM99 105h1v1h-1zM100 106h1v1h-1zM101 107h1v1h-1zM102 108h1v1h-1zM103 109h1v1h-1zM104 110h1v1h-1zM105 111h1v1h-1zM106 112h2v1h-2zM108 113h1v1h-1zM109 114h1v1h-1zM110 115h2v1h-2zM112 116h1v1h-1zM113 117h1v1h-1zM114 118h2v1h-2zM116 119h1v1h-1zM117 120h1v1h-1zM118 121h2v1h-2zM120 122h1v1h-1zM121 123h1v1h-1zM122 124h2v1h-2zM124 125h1v1h-1zM125 126h1v1h-1zM126 127h2v1h-2zM128 128h1v1h-1zM129 129h1v1h-1zM130 130h2v1h-2zM132 131h1v1h-1zM133 132h1v1h-1zM134 133h2v1h-2zM136 134h1v1h-1zM137 135h1v1h-1zM138 136h1v1h-1zM139 137h1v1h-1zM140 138h1v1h-1zM141 139h2v1h-2zM143 140h2v1h-2zM145 141h1v1h-1zM146 142h2v1h-2zM148 143h1v1h-1zM149 144h2v1h-2zM151 145h2v1h-2zM153 146h2v1h-2zM155 147h2v1h-2zM157 148h2v1h-2zM159 149h2v1h-2zM161 150h2v1h-2zM163 151h2v1h-2zM165 152h2v1h-2zM167 153h2v1h-2zM169 154h2v1h-2zM171 155h2v1h-2zM173 156h2v1h-2zM175 157h2v1h-2zM177 158h3v1h-3zM180 159h6v1h-6zM186 160h2v1h-2zM188 161h1v1h-1zM189 162h3v1h-3zM192 163h3v1h-3zM195 164h2v1h-2zM197 165h3v1h-3zM200 166h4v1h-4zM204 165h4v1h-4zM208 164h8v1h-8zM216 163h4v1h-4zM220 162h3v1h-3zM223 161h2v1h-2zM225 160h7v1h-7zM232 159h4v1h-4zM236 158h3v1h-3zM239 157h2v1h-2zM241 156h3v1h-3zM244 155h3v1h-3zM247 154h2v1h-2zM249 153h2v1h-2zM251 152h2v1h-2zM253 151h1v1h-1zM254 150h2v1h-2zM256 149h1v1h-1zM257 148h1v1h-1zM258 147h2v1h-2zM260 146h1v1h-1zM261 145h2v1h-2zM263 144h2v1h-2zM265 143h2v1h-2zM267 142h2v1h-2zM269 141h3v1h-3zM272 140h4v1h-4zM276 139h3v1h-3zM279 138h2v1h-2zM281 137h7v1h-7zM288 138h7v1h-7zM295 139h2v1h-2zM297 140h1v1h-1zM298 141h2v1h-2zM300 142h1v1h-1zM301 143h1v1h-1zM302 144h2v1h-2zM304 145h1v1h-1zM305 146h1v1h-1zM306 147h2v1h-2zM308 148h1v1h-1zM309 149h1v1h-1zM310 150h1v1h-1zM311 151h1v1h-1zM312 152h1v1h-1zM313 153h1v1h-1zM314 154h1v1h-1zM315 155h1v2h-1zM316 157h1v1h-1zM317 158h1v1h-1zM318 159h1v2h-1zM319 161h1v1h-1zM320 162h1v2h-1zM321 164h1v1h-1zM322 165h1v2h-1zM323 167h1v1h-1zM324 168h1v2h-1zM325 170h1v1h-1zM326 171h1v2h-1zM327 173h1v1h-1zM328 174h1v2h-1zM329 176h1v1h-1zM330 177h2v1h-2zM332 178h1v1h-1zM333 179h1v1h-1zM334 180h1v1h-1zM335 181h1v1h-1zM336 182h1v1h-1zM337 183h1v1h-1zM338 184h2v1h-2zM340 185h1v1h-1zM341 186h1v1h-1zM342 187h1v1h-1zM343 188h1v2h-1zM344 190h1v1h-1zM345 191h2v1h-2zM347 192h2v1h-2zM349 193h3v1h-3zM352 194h4v1h-4zM356 193h4v1h-4zM360 192h4v1h-4zM364 191h12v1h-12zM376 192h2v1h-2zM378 193h2v1h-2zM380 194h1v1h-1zM381 195h1v1h-1zM382 196h2v1h-2zM384 197h1v1h-1zM385 198h1v1h-1zM386 199h1v1h-1zM387 200h1v1h-1zM388 201h1v1h-1zM389 202h1v1h-1zM390 203h2v1h-2zM392 204h1v1h-1zM393 205h2v1h-2zM395 206h2v1h-2zM397 207h2v1h-2zM399 208h2v1h-2zM401 209h6v1h-6zM407 208h2v1h-2zM409 207h2v1h-2zM411 206h2v1h-2zM413 205h2v1h-2zM415 204h2v1h-2zM417 203h1v1h-1zM418 202h2v1h-2zM420 201h1v1h-1zM421 200h1v1h-1zM422 199h2v1h-2zM424 198h1v1h-1zM425 197h2v1h-2zM427 196h2v1h-2zM429 195h1v1h-1zM430 194h1v1h-1zM431 193h1v1h-1zM432 192h1v1h-1zM433 191h1v1h-1zM434 190h1v1h-1zM435 188h1v2h-1zM436 187h1v1h-1zM437 186h1v1h-1zM438 184h1v2h-1zM439 183h1v1h-1zM440 181h1v2h-1zM441 180h1v1h-1zM442 179h1v1h-1zM443 177h1v2h-1zM444 176h1v1h-1zM445 175h1v1h-1zM446 174h1v1h-1zM447 173h1v1h-1zM448 172h1v1h-1zM449 171h1v1h-1zM450 170h2v1h-2zM452 169h1v1h-1zM453 168h2v1h-2zM455 167h2v1h-2zM457 166h2v1h-2zM459 165h2v1h-2zM461 164h1v1h-1zM462 163h2v1h-2zM464 162h1v1h-1zM465 161h3v1h-3zM468 160h7v1h-7zM475 161h2v1h-2zM477 162h2v1h-2zM479 163h2v1h-2zM481 164h2v1h-2zM483 165h2v1h-2zM485 166h3v1h-3zM488 167h3v1h-3zM491 168h2v1h-2zM493 169h11v1h-11zM504 168h4v1h-4zM508 167h4v1h-4zM512 166h3v1h-3zM515 165h2v1h-2zM517 164h3v1h-3zM520 163h8v1h-8zM528 164h4v1h-4zM532 165h4v1h-4zM536 166h12v1h-12zM548 165h4v1h-4zM552 164h4v1h-4zM556 163h4v1h-4zM560 162h4v1h-4zM564 161h8v1h-8zM572 160h4v1h-4zM576 159h8v1h-8zM584 158h8v1h-8zM592 159h4v1h-4zM596 160h3v1h-3zM599 161h2v1h-2zM601 162h2v1h-2zM603 163h2v1h-2zM605 164h1v1h-1zM606 165h2v1h-2zM608 166h1v1h-1zM609 167h2v1h-2zM611 168h2v1h-2zM613 169h2v1h-2zM615 170h2v1h-2zM617 171h2v1h-2zM619 172h2v1h-2zM621 173h3v1h-3zM624 172h7v1h-7zM631 173h2v1h-2zM633 174h1v1h-1zM634 175h2v1h-2zM636 176h1v1h-1zM637 177h1v1h-1zM638 178h1v1h-1zM639 179h1v2h-1zM640 181h1v1h-1zM641 182h1v1h-1zM642 183h1v2h-1zM643 185h1v1h-1zM644 186h1v2h-1zM645 188h1v1h-1zM646 189h2v1h-2zM648 190h1v1h-1zM649 191h1v1h-1zM650 192h2v1h-2zM652 193h1v1h-1zM653 194h1v1h-1zM654 195h1v1h-1zM655 196h1v1h-1zM656 197h1v1h-1zM657 198h1v1h-1zM658 199h2v1h-2zM660 200h1v1h-1zM661 201h1v1h-1zM662 202h2v1h-2zM664 203h1v1h-1zM665 204h1v1h-1zM666 205h2v1h-2zM668 206h1v1h-1zM669 207h1v1h-1zM670 208h1v1h-1zM671 209h1v1h-1zM672 210h1v1h-1zM673 211h1v1h-1zM674 212h2v1h-2zM676 213h1v1h-1zM677 214h1v1h-1zM678 215h1v1h-1zM679 216h1v1h-1zM680 217h1v1h-1zM681 218h1v1h-1zM682 219h1v1h-1zM683 220h1v1h-1zM684 221h1v1h-1zM685 222h1v1h-1zM686 223h2v1h-2zM688 224h1v1h-1zM689 225h1v1h-1zM690 226h1v1h-1zM691 227h1v1h-1zM692 228h1v1h-1zM693 229h1v1h-1zM694 230h1v1h-1zM695 231h1v1h-1zM696 232h1v1h-1zM697 233h1v1h-1zM698 234h1v1h-1zM699 235h1v1h-1zM700 236h1v1h-1zM701 237h1v1h-1zM702 238h2v1h-2zM704 239h1v1h-1zM705 240h1v1h-1zM706 241h1v1h-1zM707 242h1v1h-1zM708 243h1v1h-1zM709 244h1v1h-1zM710 245h1v1h-1zM711 246h1v1h-1zM712 247h1v1h-1zM713 248h1v1h-1zM714 249h2v1h-2zM716 250h1v1h-1zM717 251h2v1h-2zM719 252h2v1h-2zM721 253h1v1h-1zM722 254h2v1h-2zM724 255h1v1h-1zM725 256h1v1h-1zM726 257h2v1h-2zM728 258h1v1h-1zM729 259h1v1h-1zM730 260h1v1h-1zM731 261h1v1h-1zM732 262h1v1h-1zM733 263h1v1h-1zM734 264h1v1h-1zM735 265h1v1h-1zM736 266h1v1h-1zM737 267h2v1h-2zM739 268h2v1h-2zM741 269h1v1h-1zM742 270h1v1h-1zM743 271h1v1h-1zM744 272h1v1h-1zM745 273h1v1h-1zM746 274h1v1h-1zM747 275h1v1h-1zM748 276h1v1h-1zM749 277h2v1h-2zM751 278h2v1h-2zM753 279h2v1h-2zM755 280h2v1h-2zM757 281h7v1h-7zM764 280h3v1h-3zM767 281h2v1h-2zM769 282h1v1h-1zM770 283h2v1h-2zM772 284h1v1h-1zM773 285h2v1h-2zM775 286h2v1h-2zM777 287h2v1h-2zM779 288h2v1h-2zM781 289h1v1h-1zM782 290h1v1h-1zM783 291h1v1h-1zM784 292h1v1h-1zM785 293h1v1h-1zM786 294h1v1h-1zM787 295h1v1h-1zM788 296h1v1h-1zM789 297h1v1h-1zM790 298h1v1h-1zM791 299h1v2h-1zM792 301h1v1h-1zM793 302h1v1h-1zM794 303h1v1h-1zM795 304h1v2h-1zM796 306h1v1h-1zM797 307h1v1h-1zM798 308h1v1h-1zM799 309h1v1h-1zM800 310h1v1h-1zM801 311h1v1h-1zM802 312h1v1h-1zM803 313h1v2h-1zM804 315h1v1h-1zM805 316h1v1h-1zM806 317h1v1h-1zM807 318h1v2h-1zM808 320h1v1h-1zM809 321h1v1h-1zM810 322h1v2h-1zM811 324h1v1h-1zM812 325h1v2h-1zM813 327h1v1h-1zM814 328h1v2h-1zM815 330h1v1h-1zM816 331h1v2h-1zM817 333h1v1h-1zM818 334h1v2h-1zM819 336h1v1h-1zM820 337h1v2h-1zM821 339h1v1h-1zM822 340h1v1h-1zM823 341h1v2h-1zM824 343h1v1h-1zM825 344h1v1h-1zM826 345h1v1h-1zM827 346h1v2h-1zM828 348h1v1h-1zM829 349h1v1h-1zM830 350h1v2h-1zM831 352h1v2h-1zM832 354h1v2h-1zM833 356h1v1h-1zM834 357h1v2h-1zM835 359h1v1h-1zM836 360h1v2h-1zM837 362h1v1h-1zM838 363h1v1h-1zM839 364h1v2h-1zM840 366h1v1h-1zM841 367h1v1h-1zM842 368h1v1h-1zM843 369h1v2h-1zM844 371h1v1h-1zM845 372h1v1h-1zM846 373h1v1h-1zM847 374h1v1h-1zM848 375h1v1h-1zM849 376h1v1h-1zM850 377h1v1h-1zM851 378h1v1h-1zM852 379h1v1h-1zM853 380h1v1h-1zM854 381h1v1h-1zM855 382h1v2h-1zM856 384h1v1h-1zM857 385h1v1h-1zM858 386h1v1h-1zM859 387h1v2h-1zM860 389h1v1h-1zM861 390h1v1h-1zM862 391h1v1h-1zM863 392h1v2h-1zM864 394h1v1h-1zM865 395h1v1h-1zM866 396h1v1h-1zM867 397h1v2h-1zM868 399h1v1h-1zM869 400h1v1h-1zM870 401h1v2h-1zM871 403h1v1h-1zM872 404h1v2h-1zM873 406h1v1h-1zM874 407h1v2h-1zM875 409h1v1h-1zM876 410h1v2h-1zM877 412h1v1h-1zM878 413h1v1h-1zM879 414h1v2h-1zM880 416h1v1h-1zM881 417h1v1h-1zM882 418h1v2h-1zM883 420h1v1h-1zM884 421h1v2h-1zM885 423h1v1h-1zM886 424h1v1h-1zM887 425h1v1h-1zM888 426h1v1h-1zM889 427h1v1h-1zM890 428h1v1h-1zM891 429h1v1h-1zM892 430h1v1h-1zM893 431h1v1h-1zM894 432h1v1h-1zM895 433h1v2h-1zM896 435h1v1h-1zM897 436h1v1h-1zM898 437h1v1h-1zM899 438h1v1h-1zM900 439h1v1h-1zM901 440h1v1h-1zM902 441h2v1h-2zM904 442h1v1h-1zM905 443h1v1h-1zM906 444h2v1h-2zM908 445h1v1h-1zM909 446h1v1h-1zM910 447h2v1h-2zM912 448h1v1h-1zM913 449h1v1h-1zM914 450h2v1h-2zM916 451h1v1h-1zM917 452h1v1h-1zM918 453h2v1h-2zM920 454h1v1h-1zM921 455h2v1h-2zM923 456h2v1h-2zM925 457h7v1h-7zM932 458h4v1h-4zM936 457h8v1h-8zM944 458h7v1h-7zM951 457h2v1h-2zM953 456h3v1h-3zM956 457h8v1h-8zM964 458h4v1h-4zM968 459h3v1h-3zM971 460h2v1h-2zM973 461h18v1h-18zM991 460h2v1h-2zM993 459h1v1h-1zM994 458h2v1h-2zM996 457h1v1h-1zM997 456h3v1h-3zM1000 455h2v1h-2zM1002 454h2v1h-2zM1004 453h1v1h-1zM1005 452h1v1h-1zM1006 451h2v1h-2zM1008 450h1v1h-1zM1009 449h1v1h-1zM1010 448h2v1h-2zM1012 447h1v1h-1zM1013 446h2v1h-2zM1015 445h2v1h-2zM1017 444h2v1h-2zM1019 443h2v1h-2zM1021 442h2v1h-2zM1023 441h2v1h-2zM1025 440h3v1h-3zM1028 439h2v1h-2zM1030 438h2v1h-2zM1032 437h1v1h-1zM1033 436h1v1h-1zM1034 435h2v1h-2zM1036 434h1v1h-1zM1037 433h2v1h-2zM1039 432h2v1h-2zM1041 431h3v1h-3zM1044 430h3v1h-3zM1047 429h2v1h-2zM1049 428h3v1h-3zM1052 427h4v1h-4zM1056 428h8v1h-8zM1064 429h4v1h-4zM1068 430h8v1h-8zM1076 429h4v1h-4zM1080 428h4v1h-4zM1084 427h4v1h-4zM1088 426h4v1h-4zM1092 427h8v1h-8zM1100 428h8v1h-8zM1108 429h3v1h-3zM1111 430h2v1h-2zM1113 431h2v1h-2zM1115 432h2v1h-2zM1117 433h2v1h-2zM1119 434h2v1h-2zM1121 435h3v1h-3zM1124 436h3v1h-3zM1127 437h2v1h-2zM1129 438h2v1h-2zM1131 439h2v1h-2zM1133 440h3v1h-3zM1136 441h3v1h-3zM1139 442h2v1h-2zM1141 443h3v1h-3zM1144 444h3v1h-3zM1147 445h2v1h-2zM1149 446h1v1h-1zM1150 447h2v1h-2zM1152 448h1v1h-1zM1153 449h1v1h-1zM1154 450h1v1h-1zM1155 451h1v1h-1zM1156 452h1v1h-1zM1157 453h3v1h-3zM1160 454h20v1h-20zM1180 453h12v1h-12zM1192 454h8v1h-8zM1200 455h4v1h-4zM1204 456h4v1h-4zM1208 455h4v1h-4zM1212 454h4v1h-4zM1216 453h16v1h-16zM1232 454h4v1h-4zM1236 455h3v1h-3zM1239 456h2v1h-2zM1241 457h1v1h-1zM1242 458h1v1h-1zM1243 459h1v1h-1zM1244 460h1v1h-1zM1245 461h1v1h-1zM1246 462h1v1h-1zM1247 463h1v1h-1zM1248 464h1v1h-1zM1249 465h1v1h-1zM1250 466h1v1h-1zM1251 467h1v2h-1zM1252 469h1v1h-1zM1253 470h1v1h-1zM1254 471h1v1h-1zM1255 472h1v2h-1zM1256 474h1v1h-1zM1257 475h1v1h-1zM1258 476h1v1h-1zM1259 477h1v1h-1zM1260 478h1v1h-1zM1261 479h1v1h-1zM1262 480h2v1h-2zM1264 481h1v1h-1zM1265 482h1v1h-1zM1266 483h2v1h-2zM1268 484h1v1h-1z" fill="#0000cd"/>
<path d="M5 42h2v1h-2zM7 43h2v1h-2zM9 44h1v1h-1zM10 45h1v1h-1zM11 46h1v1h-1zM12 47h1v1h-1zM13 48h1v1h-1zM14 49h1v1h-1zM15 50h1v1h-1zM16 51h1v1h-1zM17 52h1v1h-1zM18 53h1v2h-1zM19 55h1v1h-1zM20 56h1v2h-1zM21 58h1v1h-1zM22 59h1v1h-1zM23 60h1v2h-1zM24 62h1v1h-1zM25 63h1v1h-1zM26 64h1v1h-1zM27 65h1v1h-1zM28 66h1v1h-1zM29 67h1v1h-1zM30 68h1v1h-1zM31 69h1v2h-1zM32 71h1v1h-1zM33 72h1v1h-1zM34 73h1v2h-1zM35 75h1v1h-1zM36 76h1v2h-1zM37 78h1v1h-1zM38 79h1v1h-1zM39 80h1v2h-1zM40 82h1v1h-1zM41 83h1v1h-1zM42 84h2v1h-2zM44 85h1v1h-1zM45 86h1v1h-1zM46 87h2v1h-2zM48 88h1v1h-1zM49 89h2v1h-2zM51 90h2v1h-2zM53 91h1v1h-1zM54 92h2v1h-2zM56 93h1v1h-1zM57 94h1v1h-1zM58 95h2v1h-2zM60 96h1v1h-1zM61 97h1v1h-1zM62 98h2v1h-2zM64 99h1v1h-1zM65 100h2v1h-2zM67 101h2v1h-2zM69 102h1v1h-1zM70 103h1v1h-1zM71 104h1v1h-1zM72 105h1v1h-1zM73 106h1v1h-1zM74 107h1v1h-1zM75 108h1v2h-1zM76 110h1v1h-1zM77 111h1v1h-1zM78 112h1v1h-1zM79 113h1v1h-1zM80 114h1v1h-1zM81 115h1v1h-1zM82 116h1v2h-1zM83 118h1v1h-1zM84 119h1v2h-1zM85 121h1v1h-1zM86 122h1v2h-1zM87 124h1v1h-1zM88 125h1v2h-1zM89 127h1v1h-1zM90 128h2v1h-2zM92 129h1v1h-1zM93 130h1v1h-1zM94 131h1v1h-1zM95 132h1v1h-1zM96 133h1v1h-1zM97 134h2v1h-2zM99 135h2v1h-2zM101 136h1v1h-1zM102 137h1v1h-1zM103 138h1v2h-1zM104 140h1v1h-1zM105 141h1v1h-1zM106 142h1v1h-1zM107 143h1v1h-1zM108 144h1v1h-1zM109 145h1v1h-1zM110 146h1v1h-1zM111 147h1v1h-1zM112 148h1v1h-1zM113 149h2v1h-2zM115 150h2v1h-2zM117 151h1v1h-1zM118 152h2v1h-2zM120 153h1v1h-1zM121 154h1v1h-1zM122 155h2v1h-2zM124 156h1v1h-1zM125 157h3v1h-3zM128 158h3v1h-3zM131 159h2v1h-2zM133 160h2v1h-2zM135 161h2v1h-2zM137 162h3v1h-3zM140 163h8v1h-8zM148 164h7v1h-7zM155 165h2v1h-2zM157 166h3v1h-3zM160 165h4v1h-4zM164 166h8v1h-8zM172 167h4v1h-4zM176 168h7v1h-7zM183 167h2v1h-2zM185 166h11v1h-11zM196 167h11v1h-11zM207 166h2v1h-2zM209 165h2v1h-2zM211 164h2v1h-2zM213 163h2v1h-2zM215 162h2v1h-2zM217 161h1v1h-1zM218 160h2v1h-2zM220 159h1v1h-1zM221 158h2v1h-2zM223 157h2v1h-2zM225 156h1v1h-1zM226 155h2v1h-2zM228 154h1v1h-1zM229 153h2v1h-2zM231 152h2v1h-2zM233 151h2v1h-2zM235 150h2v1h-2zM237 149h2v1h-2zM239 148h2v1h-2zM241 147h1v1h-1zM242 146h1v1h-1zM243 144h1v2h-1zM244 143h1v1h-1zM245 142h1v1h-1zM246 140h1v2h-1zM247 139h1v1h-1zM248 137h1v2h-1zM249 136h1v1h-1zM250 134h1v2h-1zM251 132h1v2h-1zM252 130h1v2h-1zM253 129h1v1h-1zM254 127h1v2h-1zM255 126h1v1h-1zM256 124h1v2h-1zM257 123h1v1h-1zM258 122h1v1h-1zM259 121h1v1h-1zM260 120h1v1h-1zM261 119h2v1h-2zM263 118h2v1h-2zM265 117h3v1h-3zM268 116h15v1h-15zM283 117h2v1h-2zM285 118h1v1h-1zM286 119h2v1h-2zM288 120h1v1h-1zM289 121h1v1h-1zM290 122h1v1h-1zM291 123h1v1h-1zM292 124h1v1h-1zM293 125h1v2h-1zM294 127h1v2h-1zM295 129h1v2h-1zM296 131h1v2h-1zM297 133h1v2h-1zM298 135h1v2h-1zM299 137h1v2h-1zM300 139h1v2h-1zM301 141h1v3h-1zM302 144h1v2h-1zM303 146h1v3h-1zM304 149h1v2h-1zM305 151h1v3h-1zM306 154h1v3h-1zM307 157h1v2h-1zM308 159h1v3h-1zM309 162h1v4h-1zM310 166h1v4h-1zM311 170h1v4h-1zM312 174h1v4h-1zM313 178h1v4h-1zM314 182h1v4h-1zM315 186h1v4h-1zM316 190h1v4h-1zM317 194h1v4h-1zM318 198h1v4h-1zM319 202h1v4h-1zM320 206h1v4h-1zM321 210h1v5h-1zM322 215h1v4h-1zM323 219h1v4h-1zM324 223h1v4h-1zM325 227h1v3h-1zM326 230h1v4h-1zM327 234h1v3h-1zM328 237h1v4h-1zM329 241h1v2h-1zM330 243h1v2h-1zM331 245h1v2h-1zM332 247h1v2h-1zM333 249h1v2h-1zM334 251h1v2h-1zM335 253h1v2h-1zM336 255h1v2h-1zM337 257h1v2h-1zM338 259h1v1h-1zM339 260h1v2h-1zM340 262h1v1h-1zM341 263h1v1h-1zM342 264h1v2h-1zM343 266h1v2h-1zM344 268h1v2h-1zM345 270h3v1h-3zM348 271h2v1h-2zM350 270h1v1h-1zM351 268h1v2h-1zM352 267h1v1h-1zM353 265h1v2h-1zM354 263h1v2h-1zM355 260h1v3h-1zM356 258h1v2h-1zM357 255h1v3h-1zM358 252h1v3h-1zM359 250h1v2h-1zM360 247h1v3h-1zM361 244h1v3h-1zM362 240h1v4h-1zM363 237h1v3h-1zM364 233h1v4h-1zM365 230h1v3h-1zM366 226h1v4h-1zM367 222h1v4h-1zM368 218h1v4h-1zM369 214h1v4h-1zM370 210h1v4h-1zM371 206h1v4h-1zM372 202h1v4h-1zM373 198h1v4h-1zM374 194h1v4h-1zM375 190h1v4h-1zM376 186h1v4h-1zM377 182h1v4h-1zM378 179h1v3h-1zM379 177h1v2h-1zM380 174h1v3h-1zM381 172h1v2h-1zM382 170h1v2h-1zM383 169h1v1h-1zM384 167h1v2h-1zM385 166h6v1h-6zM391 165h2v1h-2zM393 164h1v1h-1zM394 163h2v1h-2zM396 162h1v1h-1zM397 161h1v1h-1zM398 159h1v2h-1zM399 157h1v2h-1zM400 155h1v2h-1zM401 154h1v1h-1zM402 153h2v1h-2zM404 152h1v1h-1zM405 151h2v1h-2zM407 150h2v1h-2zM409 149h1v1h-1zM410 150h2v1h-2zM412 151h1v1h-1zM413 152h1v1h-1zM414 153h1v1h-1zM415 154h1v1h-1zM416 155h1v1h-1zM417 156h1v1h-1zM418 157h1v2h-1zM419 159h1v1h-1zM420 160h1v2h-1zM421 162h1v1h-1zM422 163h1v1h-1zM423 164h1v1h-1zM424 165h1v1h-1zM425 166h1v1h-1zM426 167h1v1h-1zM427 168h1v2h-1zM428 170h1v1h-1zM429 171h1v1h-1zM430 172h1v1h-1zM431 173h1v2h-1zM432 175h1v1h-1zM433 176h5v1h-5zM438 175h1v1h-1zM439 174h1v1h-1zM440 173h1v1h-1zM441 172h1v1h-1zM442 171h2v1h-2zM444 170h1v1h-1zM445 169h2v1h-2zM447 168h2v1h-2zM449 167h2v1h-2zM451 166h2v1h-2zM453 165h3v1h-3zM456 166h3v1h-3zM459 167h2v1h-2zM461 168h1v1h-1zM462 169h2v1h-2zM464 170h1v1h-1zM465 171h1v1h-1zM466 172h2v1h-2zM468 173h1v1h-1zM469 174h2v1h-2zM471 175h2v1h-2zM473 176h3v1h-3zM476 175h3v1h-3zM479 174h2v1h-2zM481 173h1v1h-1zM482 172h2v1h-2zM484 171h1v1h-1zM485 170h1v1h-1zM486 169h1v1h-1zM487 168h1v1h-1zM488 167h1v1h-1zM489 166h1v1h-1zM490 165h2v1h-2zM492 164h1v1h-1zM493 163h2v1h-2zM495 162h2v1h-2zM497 161h2v1h-2zM499 160h2v1h-2zM501 159h3v1h-3zM504 160h2v1h-2zM506 161h2v1h-2zM508 162h1v1h-1zM509 163h7v1h-7zM516 162h2v1h-2zM518 161h2v1h-2zM520 160h1v1h-1zM521 159h2v1h-2zM523 158h2v1h-2zM525 157h3v1h-3zM528 158h8v1h-8zM536 159h2v1h-2zM538 160h2v1h-2zM540 161h1v1h-1zM541 162h2v1h-2zM543 163h2v1h-2zM545 164h7v1h-7zM552 165h3v1h-3zM555 164h2v1h-2zM557 163h1v1h-1zM558 162h2v1h-2zM560 161h1v1h-1zM561 160h1v1h-1zM562 159h1v1h-1zM563 158h1v1h-1zM564 157h1v1h-1zM565 156h7v1h-7zM572 157h8v1h-8zM580 158h8v1h-8zM588 159h4v1h-4zM592 160h4v1h-4zM596 161h2v1h-2zM598 162h2v1h-2zM600 163h1v1h-1zM601 164h1v1h-1zM602 165h1v1h-1zM603 166h1v1h-1zM604 167h1v1h-1zM605 168h1v1h-1zM606 169h1v1h-1zM607 170h1v1h-1zM608 171h1v1h-1zM609 172h1v1h-1zM610 173h1v1h-1zM611 174h1v1h-1zM612 175h1v1h-1zM613 176h1v1h-1zM614 177h2v1h-2zM616 178h1v1h-1zM617 179h1v1h-1zM618 180h1v1h-1zM619 181h1v2h-1zM620 183h1v1h-1zM621 184h3v1h-3zM624 185h2v1h-2zM626 186h2v1h-2zM628 187h1v1h-1zM629 188h1v1h-1zM630 189h1v2h-1zM631 191h1v1h-1zM632 192h1v2h-1zM633 194h1v2h-1zM634 196h1v2h-1zM635 198h1v2h-1zM636 200h1v2h-1zM637 202h1v2h-1zM638 204h1v2h-1zM639 206h1v2h-1zM640 208h1v2h-1zM641 210h1v3h-1zM642 213h1v2h-1zM643 215h1v3h-1zM644 218h1v2h-1zM645 220h1v2h-1zM646 222h1v2h-1zM647 224h1v2h-1zM648 226h1v2h-1zM649 228h1v1h-1zM650 229h2v1h-2zM652 230h1v1h-1zM653 231h1v1h-1zM654 232h1v1h-1zM655 233h1v1h-1zM656 234h1v1h-1zM657 235h1v1h-1zM658 236h1v1h-1zM659 237h1v2h-1zM660 239h1v1h-1zM661 240h1v1h-1zM662 241h2v1h-2zM664 242h1v1h-1zM665 243h1v1h-1zM666 244h1v1h-1zM667 245h1v1h-1zM668 246h1v1h-1zM669 247h1v1h-1zM670 248h2v1h-2zM672 249h1v1h-1zM673 250h2v1h-2zM675 251h2v1h-2zM677 252h1v1h-1zM678 253h1v1h-1zM679 254h1v2h-1zM680 256h1v1h-1zM681 257h1v1h-1zM682 258h1v2h-1zM683 260h1v2h-1zM684 262h1v2h-1zM685 264h1v1h-1zM686 265h2v1h-2zM688 266h1v1h-1zM689 267h7v1h-7zM696 266h2v1h-2zM698 265h2v1h-2zM700 264h1v1h-1zM701 263h5v1h-5zM706 264h2v1h-2zM708 265h1v1h-1zM709 266h3v1h-3zM712 267h3v1h-3zM715 268h2v1h-2zM717 269h2v1h-2zM719 270h2v1h-2zM721 271h2v1h-2zM723 272h2v1h-2zM725 273h1v1h-1zM726 274h1v1h-1zM727 275h1v1h-1zM728 276h1v1h-1zM729 277h1v1h-1zM730 278h2v1h-2zM732 279h1v1h-1zM733 280h1v1h-1zM734 281h1v1h-1zM735 282h1v1h-1zM736 283h1v1h-1zM737 284h3v1h-3zM740 285h2v1h-2zM742 286h2v1h-2zM744 287h1v1h-1zM745 288h2v1h-2zM747 289h2v1h-2zM749 290h1v1h-1zM750 291h2v1h-2zM752 292h1v1h-1zM753 293h1v1h-1zM754 294h2v1h-2zM756 295h1v1h-1zM757 296h2v1h-2zM759 297h2v1h-2zM761 298h2v1h-2zM763 299h2v1h-2zM765 300h2v1h-2zM767 301h2v1h-2zM769 302h2v1h-2zM771 303h2v1h-2zM773 304h1v1h-1zM774 305h2v1h-2zM776 306h1v1h-1zM777 307h1v1h-1zM778 308h1v1h-1zM779 309h1v1h-1zM780 310h1v1h-1zM781 311h1v1h-1zM782 312h1v1h-1zM783 313h1v1h-1zM784 314h1v1h-1zM785 315h1v1h-1zM786 316h1v2h-1zM787 318h1v1h-1zM788 319h1v2h-1zM789 321h1v1h-1zM790 322h1v1h-1zM791 323h1v2h-1zM792 325h1v1h-1zM793 326h1v1h-1zM794 327h1v2h-1zM795 329h1v2h-1zM796 331h1v2h-1zM797 333h1v1h-1zM798 334h1v2h-1zM799 336h1v1h-1zM800 337h1v2h-1zM801 339h1v2h-1zM802 341h1v2h-1zM803 343h1v2h-1zM804 345h1v2h-1zM805 347h1v3h-1zM806 350h1v2h-1zM807 352h1v2h-1zM808 354h1v2h-1zM809 356h1v3h-1zM810 359h1v2h-1zM811 361h1v3h-1zM812 364h1v2h-1zM813 366h1v3h-1zM814 369h1v3h-1zM815 372h1v2h-1zM816 374h1v3h-1zM817 377h1v3h-1zM818 380h1v3h-1zM819 383h1v2h-1zM820 385h1v3h-1zM821 388h1v2h-1zM822 390h1v2h-1zM823 392h1v1h-1zM824 393h1v2h-1zM825 395h1v2h-1zM826 397h1v2h-1zM827 399h1v2h-1zM828 401h1v2h-1zM829 403h1v3h-1zM830 406h1v3h-1zM831 409h1v2h-1zM832 411h1v3h-1zM833 414h1v3h-1zM834 417h1v2h-1zM835 419h1v2h-1zM836 421h1v2h-1zM837 423h1v2h-1zM838 425h1v1h-1zM839 426h1v2h-1zM840 428h1v1h-1zM841 429h1v1h-1zM842 430h1v1h-1zM843 431h1v1h-1zM844 432h1v1h-1zM845 433h2v1h-2zM847 434h2v1h-2zM849 435h1v1h-1zM850 436h2v1h-2zM852 437h1v1h-1zM853 438h1v1h-1zM854 439h2v1h-2zM856 440h1v1h-1zM857 441h2v1h-2zM859 442h2v1h-2zM861 443h2v1h-2zM863 444h2v1h-2zM865 445h3v1h-3zM868 446h3v1h-3zM871 447h2v1h-2zM873 448h1v1h-1zM874 449h1v1h-1zM875 450h1v1h-1zM876 451h1v1h-1zM877 452h1v1h-1zM878 453h2v1h-2zM880 454h1v1h-1zM881 455h2v1h-2zM883 456h2v1h-2zM885 457h1v1h-1zM886 456h2v1h-2zM888 455h1v1h-1zM889 454h7v1h-7zM896 455h4v1h-4zM900 456h2v1h-2zM902 457h2v1h-2zM904 458h1v1h-1zM905 459h1v1h-1zM906 460h2v1h-2zM908 461h1v1h-1zM909 462h2v1h-2zM911 463h2v1h-2zM913 464h2v1h-2zM915 465h2v1h-2zM917 466h1v1h-1zM918 467h2v1h-2zM920 468h1v1h-1zM921 469h7v1h-7zM928 468h2v1h-2zM930 467h2v1h-2zM932 466h1v1h-1zM933 465h3v1h-3zM936 464h3v1h-3zM939 463h2v1h-2zM941 462h3v1h-3zM944 461h4v1h-4zM948 460h4v1h-4zM952 459h16v1h-16zM968 458h3v1h-3zM971 457h2v1h-2zM973 456h2v1h-2zM975 455h2v1h-2zM977 454h3v1h-3zM980 453h8v1h-8zM988 454h4v1h-4zM992 453h2v1h-2zM994 452h2v1h-2zM996 451h1v1h-1zM997 450h2v1h-2zM999 449h2v1h-2zM1001 448h1v1h-1zM1002 447h1v1h-1zM1003 446h1v1h-1zM1004 445h1v1h-1zM1005 444h1v1h-1zM1006 443h1v1h-1zM1007 441h1v2h-1zM1008 440h1v1h-1zM1009 438h1v2h-1zM1010 436h1v2h-1zM1011 434h1v2h-1zM1012 432h1v2h-1zM1013 431h1v1h-1zM1014 430h1v1h-1zM1015 428h1v2h-1zM1016 427h1v1h-1zM1017 426h1v1h-1zM1018 425h1v1h-1zM1019 424h1v1h-1zM1020 423h1v1h-1zM1021 422h1v1h-1zM1022 421h1v1h-1zM1023 420h1v1h-1zM1024 419h1v1h-1zM1025 418h1v1h-1zM1026 417h1v1h-1zM1027 416h1v1h-1zM1028 415h1v1h-1zM1029 414h1v1h-1zM1030 413h1v1h-1zM1031 412h1v1h-1zM1032 411h1v1h-1zM1033 410h1v1h-1zM1034 409h1v1h-1zM1035 408h1v1h-1zM1036 407h1v1h-1zM1037 406h2v1h-2zM1039 405h2v1h-2zM1041 404h2v1h-2zM1043 403h2v1h-2zM1045 402h9v1h-9zM1054 403h1v1h-1zM1055 404h1v2h-1zM1056 406h1v1h-1zM1057 407h1v1h-1zM1058 408h1v2h-1zM1059 410h1v1h-1zM1060 411h1v2h-1zM1061 413h1v1h-1zM1062 414h1v2h-1zM1063 416h1v1h-1zM1064 417h1v2h-1zM1065 419h1v1h-1zM1066 420h1v1h-1zM1067 421h1v2h-1zM1068 423h1v1h-1zM1069 424h1v1h-1zM1070 425h1v1h-1zM1071 426h1v2h-1zM1072 428h1v1h-1zM1073 429h2v1h-2zM1075 430h2v1h-2zM1077 431h3v1h-3zM1080 432h4v1h-4zM1084 433h2v1h-2zM1086 434h1v1h-1zM1087 435h1v1h-1zM1088 436h1v1h-1zM1089 437h1v1h-1zM1090 438h1v1h-1zM1091 439h1v2h-1zM1092 441h1v1h-1zM1093 442h1v1h-1zM1094 443h1v1h-1zM1095 444h1v1h-1zM1096 445h1v1h-1zM1097 446h1v1h-1zM1098 447h2v1h-2zM1100 448h1v1h-1zM1101 449h1v1h-1zM1102 450h1v1h-1zM1103 451h1v1h-1zM1104 452h1v1h-1zM1105 453h1v1h-1zM1106 454h1v1h-1zM1107 455h1v1h-1zM1108 456h1v1h-1zM1109 457h3v1h-3zM1112 458h3v1h-3zM1115 459h2v1h-2zM1117 460h7v1h-7zM1124 459h3v1h-3zM1127 458h2v1h-2zM1129 457h6v1h-6zM1135 456h2v1h-2zM1137 455h3v1h-3zM1140 456h4v1h-4zM1144 455h7v1h-7zM1151 456h2v1h-2zM1153 457h1v1h-1zM1154 458h2v1h-2zM1156 459h1v1h-1zM1157 460h2v1h-2zM1159 459h2v1h-2zM1161 458h1v1h-1zM1162 457h2v1h-2zM1164 456h1v1h-1zM1165 455h1v1h-1zM1166 454h1v1h-1zM1167 453h1v1h-1zM1168 452h1v1h-1zM1169 451h2v1h-2zM1171 450h2v1h-2zM1173 449h2v1h-2zM1175 448h2v1h-2zM1177 447h2v1h-2zM1179 448h2v1h-2zM1181 449h3v1h-3zM1184 450h3v1h-3zM1187 451h2v1h-2zM1189 452h1v1h-1zM1190 453h1v1h-1zM1191 454h1v1h-1zM1192 455h1v1h-1zM1193 456h10v1h-10zM1203 455h2v1h-2zM1205 454h1v1h-1zM1206 453h1v1h-1zM1207 451h1v2h-1zM1208 450h1v1h-1zM1209 449h1v1h-1zM1210 448h1v1h-1zM1211 447h1v1h-1zM1212 446h1v1h-1zM1213 445h6v1h-6zM1219 446h2v1h-2zM1221 447h1v1h-1zM1222 448h1v1h-1zM1223 449h1v2h-1zM1224 451h1v1h-1zM1225 452h1v1h-1zM1226 453h2v1h-2zM1228 454h1v1h-1zM1229 455h1v1h-1zM1230 456h1v1h-1zM1231 457h1v1h-1zM1232 458h1v1h-1zM1233 459h1v1h-1zM1234 460h1v1h-1zM1235 461h1v1h-1zM1236 462h1v1h-1zM1237 463h1v1h-1zM1238 464h1v1h-1zM1239 465h1v2h-1zM1240 467h1v1h-1zM1241 468h1v1h-1zM1242 469h1v2h-1zM1243 471h1v2h-1zM1244 473h1v2h-1zM1245 475h1v1h-1zM1246 476h1v2h-1zM1247 478h1v2h-1zM1248 480h1v2h-1zM1249 482h1v2h-1zM1250 484h1v2h-1zM1251 486h1v2h-1zM1252 488h1v2h-1zM1253 490h1v1h-1zM1254 491h1v2h-1zM1255 493h1v2h-1zM1256 495h1v2h-1zM1257 497h1v2h-1zM1258 499h1v2h-1zM1259 501h1v2h-1zM1260 503h1v2h-1zM1261 505h1v2h-1zM1262 507h1v2h-1zM1263 509h1v2h-1zM1264 511h1v2h-1zM1265 513h1v3h-1zM1266 516h1v2h-1zM1267 518h1v2h-1zM1268 520h1v2h-1z" fill="#ff0000"/>
<path d="M5 69h2v1h-2zM7 68h2v1h-2zM9 67h1v1h-1zM10 68h2v1h-2zM12 69h1v1h-1zM13 70h1v1h-1zM14 71h2v1h-2zM16 72h1v1h-1zM17 73h1v1h-1zM18 74h2v1h-2zM20 75h1v1h-1zM21 76h1v1h-1zM22 77h1v2h-1zM23 79h1v2h-1zM24 81h1v2h-1zM25 83h1v1h-1zM26 84h1v1h-1zM27 85h1v1h-1zM28 86h1v1h-1zM29 87h2v1h-2zM31 88h2v1h-2zM33 89h1v1h-1zM34 90h1v2h-1zM35 92h1v2h-1zM36 94h1v2h-1zM37 96h1v1h-1zM38 97h1v1h-1zM39 98h1v2h-1zM40 100h1v1h-1zM41 101h1v1h-1zM42 102h1v1h-1zM43 103h1v1h-1zM44 104h1v1h-1zM45 105h1v1h-1zM46 106h2v1h-2zM48 107h1v1h-1zM49 108h3v1h-3zM52 109h3v1h-3zM55 108h2v1h-2zM57 107h3v1h-3zM60 108h4v1h-4zM64 107h6v1h-6zM70 108h1v2h-1zM71 110h1v2h-1zM72 112h1v2h-1zM73 114h1v2h-1zM74 116h1v2h-1zM75 118h1v2h-1zM76 120h1v2h-1zM77 122h1v3h-1zM78 125h1v3h-1zM79 128h1v2h-1zM80 130h1v3h-1zM81 133h1v3h-1zM82 136h1v3h-1zM83 139h1v2h-1zM84 141h1v3h-1zM85 144h1v3h-1zM86 147h1v3h-1zM87 150h1v4h-1zM88 154h1v3h-1zM89 157h1v2h-1zM90 159h1v2h-1zM91 161h1v2h-1zM92 163h1v2h-1zM93 165h2v1h-2zM95 166h2v1h-2zM97 167h1v1h-1zM98 166h2v1h-2zM100 165h1v1h-1zM101 164h5v1h-5zM106 163h1v1h-1zM107 162h1v1h-1zM108 161h1v1h-1zM109 160h2v1h-2zM111 159h2v1h-2zM113 158h2v1h-2zM115 157h2v1h-2zM117 156h3v1h-3zM120 155h2v1h-2zM122 154h1v1h-1zM123 153h1v1h-1zM124 152h1v1h-1zM125 151h3v1h-3zM128 152h2v1h-2zM130 153h2v1h-2zM132 154h1v1h-1zM133 155h1v1h-1zM134 156h1v2h-1zM135 158h1v2h-1zM136 160h1v2h-1zM137 162h1v2h-1zM138 164h1v2h-1zM139 166h1v2h-1zM140 168h1v2h-1zM141 170h1v2h-1zM142 172h1v1h-1zM143 173h1v2h-1zM144 175h1v1h-1zM145 176h1v1h-1zM146 177h2v1h-2zM148 178h1v1h-1zM149 179h3v1h-3zM152 178h2v1h-2zM154 177h2v1h-2zM156 176h1v1h-1zM157 175h1v1h-1zM158 173h1v2h-1zM159 172h1v1h-1zM160 170h1v2h-1zM161 169h3v1h-3zM164 168h2v1h-2zM166 167h2v1h-2zM168 166h1v1h-1zM169 165h3v1h-3zM172 164h3v1h-3zM175 163h2v1h-2zM177 162h1v1h-1zM178 161h1v1h-1zM179 160h1v1h-1zM180 159h1v1h-1zM181 158h1v1h-1zM182 157h1v1h-1zM183 155h1v2h-1zM184 154h1v1h-1zM185 153h2v1h-2zM187 154h2v1h-2zM189 155h1v1h-1zM190 156h1v2h-1zM191 158h1v1h-1zM192 159h1v2h-1zM193 161h1v1h-1zM194 162h1v2h-1zM195 164h1v2h-1zM196 166h1v2h-1zM197 168h1v1h-1zM198 169h1v2h-1zM199 171h1v2h-1zM200 173h1v2h-1zM201 175h1v1h-1zM202 176h1v1h-1zM203 177h1v2h-1zM204 179h1v1h-1zM205 180h1v1h-1zM206 179h1v1h-1zM207 177h1v2h-1zM208 176h1v1h-1zM209 174h1v2h-1zM210 172h1v2h-1zM211 169h1v3h-1zM212 167h1v2h-1zM213 164h1v3h-1zM214 161h1v3h-1zM215 157h1v4h-1zM216 154h1v3h-1zM217 151h1v3h-1zM218 148h1v3h-1zM219 146h1v2h-1zM220 143h1v3h-1zM221 141h1v2h-1zM222 139h1v2h-1zM223 137h1v2h-1zM224 135h1v2h-1zM225 134h1v1h-1zM226 133h1v1h-1zM227 132h1v1h-1zM228 131h1v1h-1zM229 130h2v1h-2zM231 129h2v1h-2zM233 128h2v1h-2zM235 127h2v1h-2zM237 126h1v1h-1zM238 125h1v1h-1zM239 124h1v1h-1zM240 123h1v1h-1zM241 122h1v1h-1zM242 121h1v1h-1zM243 119h1v2h-1zM244 118h1v1h-1zM245 117h1v1h-1zM246 116h1v1h-1zM247 115h1v1h-1zM248 114h1v1h-1zM249 113h1v1h-1zM250 112h1v1h-1zM251 110h1v2h-1zM252 109h1v1h-1zM253 108h1v1h-1zM254 107h1v1h-1zM255 105h1v2h-1zM256 104h1v1h-1zM257 103h3v1h-3zM260 102h2v1h-2zM262 103h2v1h-2zM264 104h1v1h-1zM265 105h1v1h-1zM266 106h1v1h-1zM267 107h1v1h-1zM268 108h1v1h-1zM269 109h1v1h-1zM270 110h1v1h-1zM271 111h1v1h-1zM272 112h1v1h-1zM273 113h1v1h-1zM274 114h1v2h-1zM275 116h1v2h-1zM276 118h1v2h-1zM277 120h1v1h-1zM278 121h1v1h-1zM279 122h1v2h-1zM280 124h1v1h-1zM281 125h1v2h-1zM282 127h1v2h-1zM283 129h1v2h-1zM284 131h1v2h-1zM285 133h1v2h-1zM286 135h1v2h-1zM287 137h1v2h-1zM288 139h1v2h-1zM289 141h1v3h-1zM290 144h1v3h-1zM291 147h1v3h-1zM292 150h1v3h-1zM293 153h1v4h-1zM294 157h1v4h-1zM295 161h1v4h-1zM296 165h1v4h-1zM297 169h1v5h-1zM298 174h1v5h-1zM299 179h1v6h-1zM300 185h1v5h-1zM301 190h1v4h-1zM302 194h1v4h-1zM303 198h1v4h-1zM304 202h1v4h-1zM305 206h1v4h-1zM306 210h1v4h-1zM307 214h1v4h-1zM308 218h1v4h-1zM309 222h1v6h-1zM310 228h1v7h-1zM311 235h1v7h-1zM312 242h1v7h-1zM313 249h1v6h-1zM314 255h1v6h-1zM315 261h1v6h-1zM316 267h1v6h-1zM317 273h1v6h-1zM318 279h1v6h-1zM319 285h1v6h-1zM320 291h1v6h-1zM321 297h1v6h-1zM322 303h1v6h-1zM323 309h1v5h-1zM324 314h1v6h-1zM325 320h1v4h-1zM326 324h1v3h-1zM327 327h1v3h-1zM328 330h1v3h-1zM329 332h1v3h-1zM330 328h1v4h-1zM331 324h1v4h-1zM332 320h1v4h-1zM333 316h1v4h-1zM334 312h1v4h-1zM335 308h1v4h-1zM336 304h1v4h-1zM337 298h1v6h-1zM338 292h1v6h-1zM339 286h1v6h-1zM340 280h1v6h-1zM341 275h1v5h-1zM342 271h1v4h-1zM343 268h1v3h-1zM344 264h1v4h-1zM345 259h1v5h-1zM346 253h1v6h-1zM347 246h1v7h-1zM348 240h1v6h-1zM349 234h1v6h-1zM350 230h1v4h-1zM351 225h1v5h-1zM352 221h1v4h-1zM353 215h1v6h-1zM354 207h1v8h-1zM355 200h1v7h-1zM356 192h1v8h-1zM357 185h1v7h-1zM358 177h1v8h-1zM359 169h1v8h-1zM360 161h1v8h-1zM361 152h1v9h-1zM362 142h1v10h-1zM363 131h1v11h-1zM364 121h1v10h-1zM365 113h1v8h-1zM366 109h1v4h-1zM367 105h1v4h-1zM368 101h1v4h-1zM369 97h1v4h-1zM370 95h1v2h-1zM371 93h1v2h-1zM372 91h1v2h-1zM373 89h1v2h-1zM374 90h1v2h-1zM375 92h1v1h-1zM376 93h1v2h-1zM377 95h1v3h-1zM378 98h1v6h-1zM379 104h1v5h-1zM380 109h1v6h-1zM381 115h1v7h-1zM382 122h1v8h-1zM383 130h1v8h-1zM384 138h1v8h-1zM385 146h1v8h-1zM386 154h1v7h-1zM387 161h1v8h-1zM388 169h1v7h-1zM389 176h1v6h-1zM390 182h1v5h-1zM391 187h1v5h-1zM392 192h1v5h-1zM393 197h1v4h-1zM394 201h1v4h-1zM395 205h1v4h-1zM396 209h1v4h-1zM397 213h3v1h-3zM397 214h1v1h-1zM400 212h1v1h-1zM401 209h1v3h-1zM402 205h1v4h-1zM403 201h1v4h-1zM404 197h1v4h-1zM405 192h1v5h-1zM406 186h1v6h-1zM407 180h1v6h-1zM408 174h1v6h-1zM409 170h1v4h-1zM410 166h1v4h-1zM411 162h1v4h-1zM412 158h1v4h-1zM413 155h1v3h-1zM414 151h1v4h-1zM415 148h1v3h-1zM416 144h1v4h-1zM417 142h1v2h-1zM418 141h2v1h-2zM420 140h1v1h-1zM421 139h3v1h-3zM424 140h2v1h-2zM425 141h1v1h-1zM426 142h1v3h-1zM427 145h1v3h-1zM428 148h1v3h-1zM429 151h1v3h-1zM430 154h1v3h-1zM431 157h1v2h-1zM432 159h1v3h-1zM433 162h1v3h-1zM434 165h1v3h-1zM435 168h1v2h-1zM436 170h1v3h-1zM437 173h1v2h-1zM438 175h2v1h-2zM440 176h1v1h-1zM441 177h1v2h-1zM442 179h1v2h-1zM443 181h1v3h-1zM444 184h1v2h-1zM445 186h1v2h-1zM446 187h2v1h-2zM448 188h2v1h-2zM450 187h1v1h-1zM451 185h1v2h-1zM452 184h1v1h-1zM453 183h9v1h-9zM462 181h1v2h-1zM463 180h1v1h-1zM464 178h1v2h-1zM465 177h1v1h-1zM466 176h1v1h-1zM467 175h1v1h-1zM468 174h1v1h-1zM469 173h2v1h-2zM471 172h2v1h-2zM473 171h1v1h-1zM474 169h1v2h-1zM475 167h1v2h-1zM476 165h1v2h-1zM477 164h1v1h-1zM478 162h1v2h-1zM479 160h1v2h-1zM480 158h1v2h-1zM481 156h1v2h-1zM482 154h1v2h-1zM483 152h1v2h-1zM484 150h1v2h-1zM485 149h1v1h-1zM486 147h1v2h-1zM487 146h1v1h-1zM488 144h1v2h-1zM489 143h1v1h-1zM490 142h1v1h-1zM491 141h1v1h-1zM492 140h1v1h-1zM493 139h2v1h-2zM495 138h3v1h-3zM497 137h1v1h-1zM498 139h1v2h-1zM499 141h1v2h-1zM500 143h1v2h-1zM501 145h1v2h-1zM502 147h1v4h-1zM503 151h1v4h-1zM504 155h1v4h-1zM505 159h1v3h-1zM506 162h1v4h-1zM507 166h1v3h-1zM508 169h1v4h-1zM509 173h1v3h-1zM510 176h1v2h-1zM511 178h1v3h-1zM512 181h1v2h-1zM513 183h1v2h-1zM514 184h1v1h-1zM515 185h2v1h-2zM517 186h1v1h-1zM518 184h1v2h-1zM519 182h1v2h-1zM520 180h1v2h-1zM521 178h1v2h-1zM522 174h1v4h-1zM523 170h1v4h-1zM524 166h1v4h-1zM525 163h1v3h-1zM526 161h1v2h-1zM527 159h1v2h-1zM528 157h1v2h-1zM529 156h1v1h-1zM530 154h1v2h-1zM531 153h1v1h-1zM532 151h1v2h-1zM533 150h5v1h-5zM538 151h1v2h-1zM539 153h1v2h-1zM540 155h1v2h-1zM541 157h1v1h-1zM542 158h1v1h-1zM543 159h1v1h-1zM544 160h1v1h-1zM545 161h1v1h-1zM546 160h2v1h-2zM548 159h1v1h-1zM549 158h2v1h-2zM551 157h2v1h-2zM553 156h6v1h-6zM559 155h2v1h-2zM561 154h2v1h-2zM563 153h3v1h-3zM565 152h1v1h-1zM566 154h1v2h-1zM567 156h1v2h-1zM568 158h1v2h-1zM569 160h2v1h-2zM571 161h2v1h-2zM573 162h6v1h-6zM579 161h2v1h-2zM581 160h3v1h-3zM584 161h4v1h-4zM588 160h6v1h-6zM593 161h1v1h-1zM594 162h1v2h-1zM595 164h1v2h-1zM596 166h1v2h-1zM597 168h1v2h-1zM598 170h1v2h-1zM599 172h1v3h-1zM600 175h1v2h-1zM601 177h1v3h-1zM602 180h1v2h-1zM603 182h1v2h-1zM604 184h1v2h-1zM605 186h1v2h-1zM606 188h1v2h-1zM607 190h1v1h-1zM608 191h1v2h-1zM609 193h1v1h-1zM610 194h1v2h-1zM611 196h1v2h-1zM612 198h1v2h-1zM613 200h1v1h-1zM614 201h2v1h-2zM616 202h1v1h-1zM617 203h1v1h-1zM618 204h1v1h-1zM619 205h1v2h-1zM620 207h1v1h-1zM621 208h7v1h-7zM628 207h2v1h-2zM630 208h1v1h-1zM631 209h1v2h-1zM632 211h1v1h-1zM633 212h1v2h-1zM634 214h1v3h-1zM635 217h1v4h-1zM636 221h1v3h-1zM637 224h1v3h-1zM638 227h1v3h-1zM639 230h1v2h-1zM640 232h1v3h-1zM641 235h1v5h-1zM642 240h1v6h-1zM643 246h1v6h-1zM644 252h1v6h-1zM645 258h1v4h-1zM646 262h1v3h-1zM647 265h1v2h-1zM648 267h1v3h-1zM649 270h1v2h-1zM650 271h1v1h-1zM651 272h2v1h-2zM653 273h2v1h-2zM655 272h2v1h-2zM657 271h1v1h-1zM658 270h1v1h-1zM659 269h1v1h-1zM660 268h1v1h-1zM661 266h1v2h-1zM662 263h1v3h-1zM663 259h1v4h-1zM664 256h1v3h-1zM665 254h5v1h-5zM665 255h1v1h-1zM670 255h2v1h-2zM672 256h1v1h-1zM673 257h2v1h-2zM675 256h2v1h-2zM677 255h2v1h-2zM679 256h2v1h-2zM681 257h1v1h-1zM682 258h1v2h-1zM683 260h1v2h-1zM684 262h1v2h-1zM685 264h1v1h-1zM686 265h1v1h-1zM687 266h1v1h-1zM688 267h1v1h-1zM689 268h1v1h-1zM690 269h1v1h-1zM691 270h1v1h-1zM692 271h1v1h-1zM693 272h1v1h-1zM694 273h2v1h-2zM696 274h1v1h-1zM697 275h5v1h-5zM702 273h1v2h-1zM703 272h1v1h-1zM704 270h1v2h-1zM705 269h5v1h-5zM710 270h2v1h-2zM712 271h1v1h-1zM713 272h1v1h-1zM714 273h2v1h-2zM716 274h1v1h-1zM717 275h2v1h-2zM719 276h2v1h-2zM721 277h1v1h-1zM722 278h1v1h-1zM723 279h1v2h-1zM724 281h1v1h-1zM725 282h1v1h-1zM726 283h1v1h-1zM727 284h1v2h-1zM728 286h1v1h-1zM729 287h1v1h-1zM730 288h1v1h-1zM731 289h1v2h-1zM732 291h1v1h-1zM733 292h1v1h-1zM734 293h1v2h-1zM735 295h1v2h-1zM736 297h1v2h-1zM737 299h1v1h-1zM738 300h1v1h-1zM739 301h1v2h-1zM740 303h1v1h-1zM741 304h1v1h-1zM742 305h1v2h-1zM743 307h1v1h-1zM744 308h1v2h-1zM745 310h13v1h-13zM758 309h1v1h-1zM759 308h1v1h-1zM760 307h1v1h-1zM761 306h1v1h-1zM762 305h1v1h-1zM763 304h1v1h-1zM764 303h1v1h-1zM765 302h1v1h-1zM766 303h2v1h-2zM768 304h1v1h-1zM769 305h2v1h-2zM771 306h2v1h-2zM773 307h5v1h-5zM777 308h1v1h-1zM778 309h1v2h-1zM779 311h1v3h-1zM780 314h1v2h-1zM781 316h1v3h-1zM782 319h1v4h-1zM783 323h1v3h-1zM784 326h1v4h-1zM785 330h1v3h-1zM786 333h1v3h-1zM787 336h1v4h-1zM788 340h1v3h-1zM789 343h1v4h-1zM790 347h1v4h-1zM791 351h1v4h-1zM792 355h1v4h-1zM793 359h1v4h-1zM794 363h1v4h-1zM795 367h1v4h-1zM796 371h1v4h-1zM797 375h1v4h-1zM798 379h1v3h-1zM799 382h1v4h-1zM800 386h1v3h-1zM801 389h1v3h-1zM802 392h1v3h-1zM803 395h1v3h-1zM804 398h1v3h-1zM805 401h1v3h-1zM806 404h1v2h-1zM807 406h1v3h-1zM808 409h1v2h-1zM809 411h1v3h-1zM810 414h1v2h-1zM811 416h1v3h-1zM812 419h1v2h-1zM813 421h1v3h-1zM814 424h1v3h-1zM815 427h1v2h-1zM816 429h1v3h-1zM817 432h1v2h-1zM818 434h1v2h-1zM819 436h1v2h-1zM820 438h1v2h-1zM821 440h2v1h-2zM823 439h2v1h-2zM825 438h3v1h-3zM828 437h2v1h-2zM830 438h1v2h-1zM831 440h1v1h-1zM832 441h1v2h-1zM833 443h3v1h-3zM836 444h6v1h-6zM842 445h1v2h-1zM843 447h1v1h-1zM844 448h1v2h-1zM845 450h5v1h-5zM849 449h1v1h-1zM850 446h1v3h-1zM851 444h1v2h-1zM852 441h1v3h-1zM853 439h3v1h-3zM853 440h1v1h-1zM856 438h2v1h-2zM858 439h1v1h-1zM859 440h1v1h-1zM860 441h1v1h-1zM861 442h1v1h-1zM862 443h1v1h-1zM863 444h1v1h-1zM864 445h1v1h-1zM865 446h1v1h-1zM866 447h1v2h-1zM867 449h1v1h-1zM868 450h1v2h-1zM869 452h1v2h-1zM870 454h1v3h-1zM871 457h1v2h-1zM872 459h1v3h-1zM873 462h1v3h-1zM874 465h1v2h-1zM875 467h1v2h-1zM876 469h1v2h-1zM877 471h2v1h-2zM879 470h2v1h-2zM881 469h3v1h-3zM884 470h2v1h-2zM886 469h1v1h-1zM887 468h1v1h-1zM888 467h1v1h-1zM889 466h1v1h-1zM890 464h1v2h-1zM891 463h1v1h-1zM892 461h1v2h-1zM893 459h1v2h-1zM894 457h1v2h-1zM895 455h1v2h-1zM896 453h1v2h-1zM897 452h2v1h-2zM899 453h2v1h-2zM901 454h5v1h-5zM906 455h1v1h-1zM907 456h1v2h-1zM908 458h1v1h-1zM909 459h1v2h-1zM910 461h1v2h-1zM911 463h1v2h-1zM912 465h1v2h-1zM913 467h1v1h-1zM914 468h1v2h-1zM915 470h1v1h-1zM916 471h1v2h-1zM917 473h1v2h-1zM918 475h1v2h-1zM919 477h1v2h-1zM920 479h1v2h-1zM921 481h3v1h-3zM924 482h2v1h-2zM926 481h2v1h-2zM928 480h1v1h-1zM929 479h1v1h-1zM930 477h1v2h-1zM931 476h1v1h-1zM932 474h1v2h-1zM933 472h1v2h-1zM934 470h1v2h-1zM935 467h1v3h-1zM936 465h1v2h-1zM937 462h1v3h-1zM938 459h1v3h-1zM939 457h1v2h-1zM940 454h1v3h-1zM941 451h1v3h-1zM942 449h1v2h-1zM943 447h1v2h-1zM944 445h1v2h-1zM945 444h1v1h-1zM946 442h1v2h-1zM947 441h1v1h-1zM948 439h1v2h-1zM949 438h2v1h-2zM951 437h2v1h-2zM953 436h1v1h-1zM954 437h1v2h-1zM955 439h1v2h-1zM956 441h1v2h-1zM957 443h1v1h-1zM958 444h2v1h-2zM960 445h1v1h-1zM961 446h1v1h-1zM962 447h1v1h-1zM963 448h1v2h-1zM964 450h1v1h-1zM965 451h1v2h-1zM966 453h1v2h-1zM967 455h1v3h-1zM968 458h1v2h-1zM969 460h1v2h-1zM970 462h1v1h-1zM971 463h1v1h-1zM972 464h1v1h-1zM973 465h7v1h-7zM980 464h4v1h-4zM984 465h2v1h-2zM986 464h2v1h-2zM988 463h1v1h-1zM989 461h1v2h-1zM990 459h1v2h-1zM991 457h1v2h-1zM992 455h1v2h-1zM993 453h1v2h-1zM994 450h1v3h-1zM995 448h1v2h-1zM996 445h1v3h-1zM997 442h1v3h-1zM998 438h1v4h-1zM999 435h1v3h-1zM1000 431h1v4h-1zM1001 427h1v4h-1zM1002 423h1v4h-1zM1003 419h1v4h-1zM1004 415h1v4h-1zM1005 411h1v4h-1zM1006 406h1v5h-1zM1007 402h1v4h-1zM1008 397h1v5h-1zM1009 393h1v4h-1zM1010 390h1v3h-1zM1011 387h1v3h-1zM1012 384h1v3h-1zM1013 382h1v2h-1zM1014 381h1v1h-1zM1015 379h1v2h-1zM1016 378h1v1h-1zM1017 377h2v1h-2zM1019 378h2v1h-2zM1021 379h1v1h-1zM1022 380h1v2h-1zM1023 382h1v2h-1zM1024 384h1v2h-1zM1025 386h1v2h-1zM1026 388h1v3h-1zM1027 391h1v2h-1zM1028 393h1v3h-1zM1029 396h1v3h-1zM1030 399h1v2h-1zM1031 401h1v2h-1zM1032 403h1v2h-1zM1033 405h1v1h-1zM1034 406h1v1h-1zM1035 407h1v1h-1zM1036 408h1v1h-1zM1037 409h1v1h-1zM1038 410h1v2h-1zM1039 412h1v1h-1zM1040 413h1v2h-1zM1041 415h1v1h-1zM1042 416h2v1h-2zM1044 417h1v1h-1zM1045 418h3v1h-3zM1048 419h3v1h-3zM1051 420h2v1h-2zM1053 421h1v2h-1zM1054 423h1v3h-1zM1055 426h1v2h-1zM1056 428h1v3h-1zM1057 431h1v2h-1zM1058 433h1v1h-1zM1059 434h1v2h-1zM1060 436h1v1h-1zM1061 437h1v1h-1zM1062 438h1v2h-1zM1063 440h1v1h-1zM1064 441h1v2h-1zM1065 443h1v1h-1zM1066 444h2v1h-2zM1068 445h1v1h-1zM1069 446h1v1h-1zM1070 447h1v1h-1zM1071 448h1v2h-1zM1072 450h1v1h-1zM1073 451h1v1h-1zM1074 450h1v1h-1zM1075 448h1v2h-1zM1076 447h1v1h-1zM1077 446h1v1h-1zM1078 445h1v1h-1zM1079 443h1v2h-1zM1080 442h1v1h-1zM1081 441h1v1h-1zM1082 440h1v1h-1zM1083 438h1v2h-1zM1084 437h1v1h-1zM1085 436h1v1h-1zM1086 437h1v1h-1zM1087 438h1v2h-1zM1088 440h1v1h-1zM1089 441h1v1h-1zM1090 442h1v2h-1zM1091 444h1v1h-1zM1092 445h1v2h-1zM1093 447h1v2h-1zM1094 449h1v2h-1zM1095 451h1v2h-1zM1096 453h1v2h-1zM1097 455h1v3h-1zM1098 458h1v2h-1zM1099 460h1v2h-1zM1100 462h1v2h-1zM1101 464h1v2h-1zM1102 466h1v2h-1zM1103 468h1v3h-1zM1104 471h1v2h-1zM1105 473h1v2h-1zM1106 475h1v1h-1zM1107 476h1v1h-1zM1108 477h1v1h-1zM1109 478h6v1h-6zM1115 477h2v1h-2zM1117 476h1v1h-1zM1118 475h2v1h-2zM1120 474h1v1h-1zM1121 472h1v2h-1zM1122 469h1v3h-1zM1123 467h1v2h-1zM1124 464h1v3h-1zM1125 461h1v3h-1zM1126 458h1v3h-1zM1127 455h1v3h-1zM1128 452h1v3h-1zM1129 449h1v3h-1zM1130 447h1v2h-1zM1131 445h1v2h-1zM1132 443h1v2h-1zM1133 440h1v3h-1zM1134 437h1v3h-1zM1135 433h1v4h-1zM1136 430h1v3h-1zM1137 428h2v1h-2zM1137 429h1v1h-1zM1139 427h2v1h-2zM1141 426h1v1h-1zM1142 427h1v1h-1zM1143 428h1v2h-1zM1144 430h1v1h-1zM1145 431h1v2h-1zM1146 433h1v2h-1zM1147 435h1v3h-1zM1148 438h1v2h-1zM1149 440h1v4h-1zM1150 444h1v4h-1zM1151 448h1v4h-1zM1152 452h1v4h-1zM1153 456h1v5h-1zM1154 461h1v5h-1zM1155 466h1v5h-1zM1156 471h1v5h-1zM1157 476h1v3h-1zM1158 478h1v1h-1zM1159 479h2v1h-2zM1161 480h2v1h-2zM1163 479h2v1h-2zM1165 477h1v2h-1zM1166 474h1v3h-1zM1167 471h1v3h-1zM1168 468h1v3h-1zM1169 465h1v3h-1zM1170 461h1v4h-1zM1171 458h1v3h-1zM1172 454h1v4h-1zM1173 451h1v3h-1zM1174 447h1v4h-1zM1175 444h1v3h-1zM1176 440h1v4h-1zM1177 438h1v2h-1zM1178 437h2v1h-2zM1180 436h1v1h-1zM1181 435h3v1h-3zM1184 436h2v1h-2zM1186 437h1v2h-1zM1187 439h1v2h-1zM1188 441h1v2h-1zM1189 443h1v1h-1zM1190 444h1v1h-1zM1191 445h1v2h-1zM1192 447h1v1h-1zM1193 448h2v1h-2zM1195 449h2v1h-2zM1197 450h2v1h-2zM1199 451h2v1h-2zM1201 452h3v1h-3zM1204 453h2v1h-2zM1206 452h2v1h-2zM1208 451h1v1h-1zM1209 450h2v1h-2zM1211 449h2v1h-2zM1213 448h2v1h-2zM1215 449h2v1h-2zM1217 450h1v1h-1zM1218 451h1v1h-1zM1219 452h1v1h-1zM1220 453h1v1h-1zM1221 454h1v1h-1zM1222 455h1v2h-1zM1223 457h1v1h-1zM1224 458h1v2h-1zM1225 460h1v2h-1zM1226 462h1v2h-1zM1227 464h1v2h-1zM1228 466h1v2h-1zM1229 468h1v2h-1zM1230 470h1v2h-1zM1231 472h1v2h-1zM1232 474h1v2h-1zM1233 476h1v2h-1zM1234 478h1v2h-1zM1235 480h1v2h-1zM1236 482h1v2h-1zM1237 484h1v2h-1zM1238 486h1v2h-1zM1239 488h1v3h-1zM1240 491h1v2h-1zM1241 493h1v3h-1zM1242 496h1v4h-1zM1243 500h1v4h-1zM1244 504h1v4h-1zM1245 508h1v3h-1zM1246 511h1v3h-1zM1247 514h1v4h-1zM1248 518h1v3h-1zM1249 521h1v3h-1zM1250 524h1v4h-1zM1251 528h1v3h-1zM1252 531h1v4h-1zM1253 535h1v3h-1zM1254 538h1v3h-1zM1255 541h1v3h-1zM1256 544h1v3h-1zM1257 547h1v3h-1zM1258 550h1v2h-1zM1259 552h1v2h-1zM1260 554h1v2h-1zM1261 556h3v1h-3zM1264 557h3v1h-3zM1267 558h2v1h-2z" fill="#ffa500"/>
</g>
<g shape-rendering="crispEdges">
<path d="M5 642h1v1h-1zM6 643h2v1h-2zM8 644h1v1h-1zM9 645h1v1h-1zM10 646h2v1h-2zM12 647h1v1h-1zM13 648h6v1h-6zM19 647h2v1h-2zM21 646h1v1h-1zM22 647h1v2h-1zM23 649h1v2h-1zM24 651h1v2h-1zM25 653h1v1h-1zM26 652h1v1h-1zM27 651h1v1h-1zM28 650h1v1h-1zM29 649h3v1h-3zM32 650h2v1h-2zM34 651h1v2h-1zM35 653h1v1h-1zM36 654h1v2h-1zM37 656h1v1h-1zM38 655h1v1h-1zM39 653h1v2h-1zM40 652h1v1h-1zM41 651h1v1h-1zM42 652h1v1h-1zM43 653h1v1h-1zM44 654h2v1h-2zM45 655h1v1h-1zM46 652h1v2h-1zM47 650h1v2h-1zM48 648h1v2h-1zM49 647h2v1h-2zM51 646h2v1h-2zM53 645h3v1h-3zM56 646h2v1h-2zM58 647h2v1h-2zM60 648h1v1h-1zM61 649h3v1h-3zM64 650h2v1h-2zM66 649h1v1h-1zM67 648h1v1h-1zM68 647h2v1h-2zM69 646h1v1h-1zM70 648h1v2h-1zM71 650h1v2h-1zM72 652h1v2h-1zM73 654h1v1h-1zM74 655h2v1h-2zM76 656h1v1h-1zM77 657h1v1h-1zM78 658h1v1h-1zM79 659h1v1h-1zM80 660h1v1h-1zM81 661h7v1h-7zM88 662h2v1h-2zM90 661h1v1h-1zM91 660h1v1h-1zM92 659h1v1h-1zM93 658h1v1h-1zM94 657h1v1h-1zM95 656h1v1h-1zM96 655h1v1h-1zM97 654h1v1h-1zM98 653h1v1h-1zM99 652h1v1h-1zM100 651h1v1h-1zM101 650h1v1h-1zM102 651h1v1h-1zM103 652h1v2h-1zM104 654h2v1h-2zM105 655h1v1h-1zM106 652h1v2h-1zM107 650h1v2h-1zM108 648h1v2h-1zM109 647h2v1h-2zM111 648h2v1h-2zM113 649h1v1h-1zM114 648h1v1h-1zM115 646h1v2h-1zM116 645h1v1h-1zM117 644h3v1h-3zM120 643h3v1h-3zM123 644h2v1h-2zM125 645h2v1h-2zM127 646h2v1h-2zM129 647h1v1h-1zM130 648h1v1h-1zM131 649h1v1h-1zM132 650h1v1h-1zM133 651h1v1h-1zM134 652h1v1h-1zM135 653h1v1h-1zM136 654h1v1h-1zM137 655h3v1h-3zM140 656h2v1h-2zM141 655h1v1h-1zM142 653h1v2h-1zM143 651h1v2h-1zM144 649h1v2h-1zM145 647h5v1h-5zM145 648h1v1h-1zM150 646h1v1h-1zM151 645h1v1h-1zM152 644h1v1h-1zM153 643h1v1h-1zM154 644h1v1h-1zM155 645h1v1h-1zM156 646h1v1h-1zM157 647h1v1h-1zM158 645h1v2h-1zM159 644h1v1h-1zM160 642h1v2h-1zM161 641h3v1h-3zM164 642h3v1h-3zM167 641h2v1h-2zM169 640h6v1h-6zM175 641h3v1h-3zM177 642h1v1h-1zM178 639h1v2h-1zM179 637h1v2h-1zM180 635h1v2h-1zM181 633h2v1h-2zM181 634h1v1h-1zM183 632h3v1h-3zM185 631h1v1h-1zM186 633h1v3h-1zM187 636h1v3h-1zM188 639h1v3h-1zM189 642h1v2h-1zM190 644h1v2h-1zM191 646h1v1h-1zM192 647h1v2h-1zM193 649h3v1h-3zM196 650h2v1h-2zM198 649h1v1h-1zM199 647h1v2h-1zM200 646h1v1h-1zM201 645h1v1h-1zM202 643h1v2h-1zM203 641h1v2h-1zM204 639h1v2h-1zM205 638h1v1h-1zM206 637h1v1h-1zM207 635h1v2h-1zM208 634h1v1h-1zM209 633h2v1h-2zM211 632h2v1h-2zM213 631h1v1h-1zM214 630h2v1h-2zM216 629h1v1h-1zM217 628h3v1h-3zM220 627h4v1h-4zM224 628h4v1h-4zM228 627h4v1h-4zM232 628h3v1h-3zM235 627h2v1h-2zM237 626h1v1h-1zM238 625h1v1h-1zM239 623h1v2h-1zM240 622h1v1h-1zM241 621h13v1h-13zM254 620h2v1h-2zM256 619h1v1h-1zM257 618h1v1h-1zM258 619h1v1h-1zM259 620h1v1h-1zM260 621h1v1h-1zM261 622h1v2h-1zM262 624h1v3h-1zM263 627h1v2h-1zM264 629h1v3h-1zM265 632h1v2h-1zM266 633h2v1h-2zM268 634h6v1h-6zM274 635h2v1h-2zM276 636h1v1h-1zM277 637h2v1h-2zM279 636h3v1h-3zM281 635h1v1h-1zM282 637h1v4h-1zM283 641h1v4h-1zM284 645h1v4h-1zM285 649h1v2h-1zM286 650h1v1h-1zM287 651h2v1h-2zM289 652h1v1h-1zM290 653h1v1h-1zM291 654h1v1h-1zM292 655h1v1h-1zM293 656h1v1h-1zM294 657h1v2h-1zM295 659h1v1h-1zM296 660h1v2h-1zM297 662h1v1h-1zM298 663h2v1h-2zM300 664h1v1h-1zM301 665h5v1h-5zM306 666h2v1h-2zM308 667h1v1h-1zM309 668h1v1h-1zM310 669h1v2h-1zM311 671h1v1h-1zM312 672h1v2h-1zM313 674h6v1h-6zM319 675h2v1h-2zM321 676h1v1h-1zM322 674h1v2h-1zM323 672h1v2h-1zM324 670h1v2h-1zM325 668h1v2h-1zM326 666h1v2h-1zM327 664h1v2h-1zM328 662h1v2h-1zM329 659h1v3h-1zM330 654h1v5h-1zM331 649h1v5h-1zM332 644h1v5h-1zM333 641h7v1h-7zM333 642h1v2h-1zM340 640h2v1h-2zM342 641h1v2h-1zM343 643h1v2h-1zM344 645h1v2h-1zM345 646h1v2h-1zM346 642h1v4h-1zM347 638h1v4h-1zM348 634h1v4h-1zM349 632h1v2h-1zM350 631h1v1h-1zM351 629h1v2h-1zM352 628h1v1h-1zM353 627h1v1h-1zM354 625h1v2h-1zM355 624h1v1h-1zM356 622h1v2h-1zM357 621h3v1h-3zM360 620h4v1h-4zM364 619h2v1h-2zM366 620h1v2h-1zM367 622h1v1h-1zM368 623h1v2h-1zM369 625h3v1h-3zM372 626h2v1h-2zM374 627h2v1h-2zM376 628h1v1h-1zM377 629h1v2h-1zM378 631h1v2h-1zM379 633h1v3h-1zM380 636h1v2h-1zM381 638h1v2h-1zM382 640h1v1h-1zM383 641h1v2h-1zM384 643h1v1h-1zM385 644h2v1h-2zM387 645h2v1h-2zM389 646h1v1h-1zM390 644h1v2h-1zM391 643h1v1h-1zM392 641h1v2h-1zM393 640h3v1h-3zM396 639h2v1h-2zM398 638h1v1h-1zM399 637h1v1h-1zM400 636h1v1h-1zM401 635h1v1h-1zM402 634h2v1h-2zM404 633h1v1h-1zM405 632h1v1h-1zM406 631h2v1h-2zM408 630h1v1h-1zM409 629h2v1h-2zM411 630h2v1h-2zM413 631h3v1h-3zM416 630h2v1h-2zM418 631h1v1h-1zM419 632h1v2h-1zM420 634h1v1h-1zM421 635h5v1h-5zM426 636h1v1h-1zM427 637h1v1h-1zM428 638h1v1h-1zM429 639h3v1h-3zM432 640h4v1h-4zM436 639h3v1h-3zM439 638h2v1h-2zM441 637h1v1h-1zM442 638h1v2h-1zM443 640h1v1h-1zM444 641h1v2h-1zM445 643h1v1h-1zM446 642h1v1h-1zM447 641h1v1h-1zM448 640h1v1h-1zM449 639h1v1h-1zM450 638h1v1h-1zM451 637h1v1h-1zM452 636h1v1h-1zM453 635h1v1h-1zM454 636h2v1h-2zM456 637h1v1h-1zM457 638h3v1h-3zM460 637h7v1h-7zM467 636h2v1h-2zM469 635h2v1h-2zM471 634h2v1h-2zM473 633h2v1h-2zM475 632h2v1h-2zM477 631h2v1h-2zM479 630h2v1h-2zM481 629h11v1h-11zM492 630h6v1h-6zM497 631h1v1h-1zM498 632h1v3h-1zM499 635h1v2h-1zM500 637h1v3h-1zM501 640h1v2h-1zM502 642h1v2h-1zM503 644h1v2h-1zM504 646h1v2h-1zM505 648h2v1h-2zM507 647h2v1h-2zM509 646h1v1h-1zM510 645h1v1h-1zM511 644h1v1h-1zM512 643h1v1h-1zM513 641h1v2h-1zM514 639h1v2h-1zM515 637h1v2h-1zM516 635h1v2h-1zM517 633h2v1h-2zM517 634h1v1h-1zM519 632h2v1h-2zM521 631h5v1h-5zM526 632h1v1h-1zM527 633h1v2h-1zM528 635h1v1h-1zM529 636h6v1h-6zM535 635h2v1h-2zM537 634h1v1h-1zM538 635h1v1h-1zM539 636h1v2h-1zM540 638h1v1h-1zM541 639h1v1h-1zM542 638h2v1h-2zM544 637h1v1h-1zM545 636h1v1h-1zM546 635h2v1h-2zM548 634h1v1h-1zM549 633h7v1h-7zM556 634h2v1h-2zM558 635h2v1h-2zM560 636h1v1h-1zM561 637h1v1h-1zM562 636h2v1h-2zM564 635h2v1h-2zM565 634h1v1h-1zM566 636h1v2h-1zM567 638h1v3h-1zM568 641h1v2h-1zM569 643h2v1h-2zM569 644h1v1h-1zM570 642h1v1h-1zM571 640h1v2h-1zM572 638h1v2h-1zM573 637h1v1h-1zM574 636h2v1h-2zM576 635h1v1h-1zM577 634h6v1h-6zM583 635h2v1h-2zM585 636h1v1h-1zM586 637h1v2h-1zM587 639h1v1h-1zM588 640h1v2h-1zM589 642h1v1h-1zM590 641h1v1h-1zM591 639h1v2h-1zM592 638h1v1h-1zM593 637h1v1h-1zM594 638h1v2h-1zM595 640h1v2h-1zM596 642h1v2h-1zM597 644h2v1h-2zM599 645h2v1h-2zM601 646h7v1h-7zM608 647h3v1h-3zM611 646h2v1h-2zM613 645h2v1h-2zM615 646h2v1h-2zM617 647h1v1h-1zM618 648h1v1h-1zM619 649h1v2h-1zM620 651h2v1h-2zM621 652h1v1h-1zM622 649h1v2h-1zM623 646h1v3h-1zM624 644h1v2h-1zM625 642h3v1h-3zM625 643h1v1h-1zM628 643h2v1h-2zM630 644h1v2h-1zM631 646h1v1h-1zM632 647h1v2h-1zM633 649h1v1h-1zM634 650h1v2h-1zM635 652h1v2h-1zM636 654h1v2h-1zM637 656h2v1h-2zM639 657h2v1h-2zM641 658h1v1h-1zM642 659h1v1h-1zM643 660h1v1h-1zM644 661h2v1h-2zM645 660h1v1h-1zM645 662h1v1h-1zM646 656h1v4h-1zM647 652h1v4h-1zM648 648h1v4h-1zM649 645h1v3h-1zM650 644h2v1h-2zM652 643h1v1h-1zM653 642h1v1h-1zM654 643h2v1h-2zM656 644h1v1h-1zM657 645h3v1h-3zM660 646h3v1h-3zM663 645h2v1h-2zM665 644h7v1h-7zM672 643h6v1h-6zM678 644h1v1h-1zM679 645h1v1h-1zM680 646h1v1h-1zM681 647h1v1h-1zM682 648h1v1h-1zM683 649h1v1h-1zM684 650h1v1h-1zM685 651h1v1h-1zM686 650h1v1h-1zM687 648h1v2h-1zM688 647h1v1h-1zM689 646h2v1h-2zM691 645h2v1h-2zM693 644h3v1h-3zM696 645h6v1h-6zM702 644h1v1h-1zM703 643h1v1h-1zM704 642h1v1h-1zM705 641h1v1h-1zM706 642h1v1h-1zM707 643h1v1h-1zM708 644h1v1h-1zM709 645h2v1h-2zM711 646h2v1h-2zM713 647h13v1h-13zM726 648h1v1h-1zM727 649h1v1h-1zM728 650h1v1h-1zM729 651h3v1h-3zM732 652h2v1h-2zM734 653h2v1h-2zM736 654h1v1h-1zM737 655h1v1h-1zM738 654h2v1h-2zM740 653h1v1h-1zM741 652h5v1h-5zM746 651h1v1h-1zM747 650h1v1h-1zM748 649h1v1h-1zM749 648h5v1h-5zM754 649h1v1h-1zM755 650h1v1h-1zM756 651h2v1h-2zM757 652h1v1h-1zM758 648h1v3h-1zM759 646h1v2h-1zM760 643h1v3h-1zM761 641h3v1h-3zM761 642h1v1h-1zM764 642h2v1h-2zM766 643h1v2h-1zM767 645h1v1h-1zM768 646h1v2h-1zM769 648h3v1h-3zM772 649h3v1h-3zM775 648h2v1h-2zM777 647h1v1h-1zM778 648h1v2h-1zM779 650h1v2h-1zM780 652h1v2h-1zM781 654h1v1h-1zM782 655h1v1h-1zM783 656h1v2h-1zM784 658h1v1h-1zM785 659h1v1h-1zM786 660h2v1h-2zM788 661h1v1h-1zM789 662h2v1h-2zM791 663h2v1h-2zM793 664h7v1h-7zM800 665h3v1h-3zM803 666h2v1h-2zM805 667h2v1h-2zM807 668h2v1h-2zM809 669h3v1h-3zM812 670h4v1h-4zM816 671h2v1h-2zM818 669h1v2h-1zM819 667h1v2h-1zM820 665h1v2h-1zM821 663h1v2h-1zM822 660h1v3h-1zM823 657h1v3h-1zM824 654h1v3h-1zM825 652h1v2h-1zM826 653h1v1h-1zM827 654h1v1h-1zM828 655h1v1h-1zM829 656h1v1h-1zM830 657h1v2h-1zM831 659h1v2h-1zM832 661h1v2h-1zM833 662h1v2h-1zM834 660h1v2h-1zM835 658h1v2h-1zM836 656h1v2h-1zM837 655h1v1h-1zM838 653h1v2h-1zM839 652h1v1h-1zM840 650h1v2h-1zM841 649h3v1h-3zM844 650h2v1h-2zM846 649h2v1h-2zM848 648h1v1h-1zM849 647h2v1h-2zM851 646h2v1h-2zM853 645h1v1h-1zM854 646h1v1h-1zM855 647h1v2h-1zM856 649h1v1h-1zM857 650h2v1h-2zM859 651h2v1h-2zM861 652h9v1h-9zM870 653h2v1h-2zM872 654h1v1h-1zM873 655h1v1h-1zM874 656h2v1h-2zM876 657h2v1h-2zM877 658h1v1h-1zM878 653h1v4h-1zM879 650h1v3h-1zM880 646h1v4h-1zM881 644h1v2h-1zM882 645h2v1h-2zM884 646h1v1h-1zM885 647h1v1h-1zM886 645h1v2h-1zM887 644h1v1h-1zM888 642h1v2h-1zM889 641h6v1h-6zM895 642h2v1h-2zM897 643h2v1h-2zM899 644h2v1h-2zM901 645h6v1h-6zM907 646h2v1h-2zM909 647h1v1h-1zM910 648h1v1h-1zM911 649h1v1h-1zM912 650h1v1h-1zM913 651h2v1h-2zM915 650h2v1h-2zM917 649h1v1h-1zM918 650h1v1h-1zM919 651h1v1h-1zM920 652h2v1h-2zM921 653h1v1h-1zM922 650h1v2h-1zM923 647h1v3h-1zM924 645h1v2h-1zM925 643h1v2h-1zM926 642h1v1h-1zM927 640h1v2h-1zM928 639h1v1h-1zM929 638h5v1h-5zM934 637h1v1h-1zM935 635h1v2h-1zM936 634h1v1h-1zM937 633h1v1h-1zM938 634h2v1h-2zM940 635h1v1h-1zM941 636h1v1h-1zM942 635h1v1h-1zM943 634h1v1h-1zM944 633h1v1h-1zM945 632h3v1h-3zM948 631h2v1h-2zM950 632h1v1h-1zM951 633h1v2h-1zM952 635h1v1h-1zM953 636h1v1h-1zM954 637h1v2h-1zM955 639h1v2h-1zM956 641h1v2h-1zM957 643h2v1h-2zM959 642h2v1h-2zM961 641h3v1h-3zM964 640h2v1h-2zM966 641h2v1h-2zM968 642h1v1h-1zM969 643h2v1h-2zM971 642h2v1h-2zM973 641h6v1h-6zM979 640h2v1h-2zM981 639h7v1h-7zM988 638h2v1h-2zM989 637h1v1h-1zM990 635h1v2h-1zM991 633h1v2h-1zM992 631h1v2h-1zM993 629h1v2h-1zM994 628h1v1h-1zM995 626h1v2h-1zM996 625h1v1h-1zM997 624h1v1h-1zM998 623h2v1h-2zM1000 622h1v1h-1zM1001 621h1v1h-1zM1002 620h2v1h-2zM1004 619h1v1h-1zM1005 618h2v1h-2zM1007 617h2v1h-2zM1009 616h5v1h-5zM1013 617h1v1h-1zM1014 618h1v2h-1zM1015 620h1v2h-1zM1016 622h1v2h-1zM1017 624h1v1h-1zM1018 625h1v2h-1zM1019 627h1v1h-1zM1020 628h1v2h-1zM1021 630h1v1h-1zM1022 631h1v1h-1zM1023 632h1v1h-1zM1024 633h1v1h-1zM1025 634h3v1h-3zM1028 635h2v1h-2zM1030 634h2v1h-2zM1032 633h1v1h-1zM1033 632h5v1h-5zM1037 633h1v1h-1zM1038 634h1v2h-1zM1039 636h1v2h-1zM1040 638h1v2h-1zM1041 640h5v1h-5zM1046 639h1v1h-1zM1047 638h1v1h-1zM1048 637h1v1h-1zM1049 636h5v1h-5zM1053 637h1v1h-1zM1054 638h1v3h-1zM1055 641h1v2h-1zM1056 643h1v3h-1zM1057 646h1v2h-1zM1058 647h8v1h-8zM1065 646h1v1h-1zM1066 644h1v2h-1zM1067 642h1v2h-1zM1068 640h1v2h-1zM1069 639h2v1h-2zM1071 640h2v1h-2zM1073 641h2v1h-2zM1075 640h2v1h-2zM1077 639h2v1h-2zM1079 638h2v1h-2zM1081 637h3v1h-3zM1084 638h2v1h-2zM1085 639h1v1h-1zM1086 640h1v2h-1zM1087 642h1v2h-1zM1088 644h1v2h-1zM1089 646h1v1h-1zM1090 647h2v1h-2zM1092 648h1v1h-1zM1093 649h1v1h-1zM1094 650h2v1h-2zM1096 651h1v1h-1zM1097 652h1v1h-1zM1098 650h1v2h-1zM1099 649h1v1h-1zM1100 647h1v2h-1zM1101 646h1v1h-1zM1102 647h2v1h-2zM1104 648h1v1h-1zM1105 649h5v1h-5zM1110 648h1v1h-1zM1111 647h1v1h-1zM1112 646h1v1h-1zM1113 645h5v1h-5zM1118 644h1v1h-1zM1119 642h1v2h-1zM1120 641h1v1h-1zM1121 639h1v2h-1zM1122 636h1v3h-1zM1123 634h1v2h-1zM1124 631h1v3h-1zM1125 629h3v1h-3zM1125 630h1v1h-1zM1128 630h4v1h-4zM1132 629h2v1h-2zM1134 628h2v1h-2zM1136 627h2v1h-2zM1137 626h1v1h-1zM1138 628h1v3h-1zM1139 631h1v2h-1zM1140 633h1v3h-1zM1141 636h1v2h-1zM1142 637h1v1h-1zM1143 638h2v1h-2zM1145 639h1v1h-1zM1146 640h1v2h-1zM1147 642h1v2h-1zM1148 644h1v2h-1zM1149 646h1v1h-1zM1150 647h1v2h-1zM1151 649h1v1h-1zM1152 650h1v2h-1zM1153 652h5v1h-5zM1157 651h1v1h-1zM1158 647h1v4h-1zM1159 643h1v4h-1zM1160 639h1v4h-1zM1161 637h1v2h-1zM1162 636h2v1h-2zM1164 635h1v1h-1zM1165 634h1v1h-1zM1166 633h1v1h-1zM1167 631h1v2h-1zM1168 630h1v1h-1zM1169 629h1v1h-1zM1170 630h1v1h-1zM1171 631h1v2h-1zM1172 633h1v1h-1zM1173 634h7v1h-7zM1180 635h4v1h-4zM1184 636h2v1h-2zM1186 637h2v1h-2zM1188 638h1v1h-1zM1189 639h3v1h-3zM1192 640h2v1h-2zM1194 639h2v1h-2zM1196 638h1v1h-1zM1197 637h3v1h-3zM1200 638h4v1h-4zM1204 637h2v1h-2zM1206 636h2v1h-2zM1208 635h1v1h-1zM1209 634h1v1h-1zM1210 635h2v1h-2zM1212 636h1v1h-1zM1213 637h1v1h-1zM1214 638h2v1h-2zM1216 639h1v1h-1zM1217 640h1v1h-1zM1218 641h1v1h-1zM1219 642h1v1h-1zM1220 643h1v1h-1zM1221 644h2v1h-2zM1223 645h2v1h-2zM1225 646h3v1h-3zM1228 647h4v1h-4zM1232 646h2v1h-2zM1234 647h1v1h-1zM1235 648h1v2h-1zM1236 650h1v1h-1zM1237 651h1v1h-1zM1238 652h1v1h-1zM1239 653h1v2h-1zM1240 655h1v1h-1zM1241 656h1v1h-1zM1242 657h1v1h-1zM1243 658h1v2h-1zM1244 660h1v1h-1zM1245 661h11v1h-11zM1256 662h4v1h-4zM1260 663h2v1h-2zM1262 662h2v1h-2zM1264 661h1v1h-1zM1265 660h4v1h-4z" fill="#1e90ff"/>
</g>
<g id="macd" shape-rendering="crispEdges">
<rect x="5" y="725" width="1" height="4" fill="#c0c0c0"/>
<rect x="9" y="725" width="1" height="5" fill="#c0c0c0"/>
<rect x="13" y="725" width="1" height="7" fill="#c0c0c0"/>
<rect x="17" y="725" width="1" height="9" fill="#c0c0c0"/>
<rect x="21" y="725" width="1" height="10" fill="#c0c0c0"/>
<rect x="25" y="725" width="1" height="12" fill="#c0c0c0"/>
<rect x="29" y="725" width="1" height="13" fill="#c0c0c0"/>
<rect x="33" y="725" width="1" height="14" fill="#c0c0c0"/>
<rect x="37" y="725" width="1" height="16" fill="#c0c0c0"/>
<rect x="41" y="725" width="1" height="17" fill="#c0c0c0"/>
<rect x="45" y="725" width="1" height="19" fill="#c0c0c0"/>
<rect x="49" y="725" width="1" height="19" fill="#c0c0c0"/>
<rect x="53" y="725" width="1" height="18" fill="#c0c0c0"/>
<rect x="57" y="725" width="1" height="18" fill="#c0c0c0"/>
<rect x="61" y="725" width="1" height="18" fill="#c0c0c0"/>
<rect x="65" y="725" width="1" height="18" fill="#c0c0c0"/>
<rect x="69" y="725" width="1" height="17" fill="#c0c0c0"/>
<rect x="73" y="725" width="1" height="19" fill="#c0c0c0"/>
<rect x="77" y="725" width="1" height="21" fill="#c0c0c0"/>
<rect x="81" y="725" width="1" height="25" fill="#c0c0c0"/>
<rect x="85" y="725" width="1" height="27" fill="#c0c0c0"/>
<rect x="89" y="725" width="1" height="30" fill="#c0c0c0"/>
<rect x="93" y="725" width="1" height="30" fill="#c0c0c0"/>
<rect x="97" y="725" width="1" height="30" fill="#c0c0c0"/>
<rect x="101" y="725" width="1" height="28" fill="#c0c0c0"/>
<rect x="105" y="725" width="1" height="29" fill="#c0c0c0"/>
<rect x="109" y="725" width="1" height="27" fill="#c0c0c0"/>
<rect x="113" y="725" width="1" height="26" fill="#c0c0c0"/>
<rect x="117" y="725" width="1" height="24" fill="#c0c0c0"/>
<rect x="121" y="725" width="1" height="22" fill="#c0c0c0"/>
<rect x="125" y="725" width="1" height="20" fill="#c0c0c0"/>
<rect x="129" y="725" width="1" height="20" fill="#c0c0c0"/>
<rect x="133" y="725" width="1" height="20" fill="#c0c0c0"/>
<rect x="137" y="725" width="1" height="22" fill="#c0c0c0"/>
<rect x="141" y="725" width="1" height="23" fill="#c0c0c0"/>
<rect x="145" y="725" width="1" height="22" fill="#c0c0c0"/>
<rect x="149" y="725" width="1" height="21" fill="#c0c0c0"/>
<rect x="153" y="725" width="1" height="20" fill="#c0c0c0"/>
<rect x="157" y="725" width="1" height="19" fill="#c0c0c0"/>
<rect x="161" y="725" width="1" height="17" fill="#c0c0c0"/>
<rect x="165" y="725" width="1" height="16" fill="#c0c0c0"/>
<rect x="169" y="725" width="1" height="14" fill="#c0c0c0"/>
<rect x="173" y="725" width="1" height="13" fill="#c0c0c0"/>
<rect x="177" y="725" width="1" height="12" fill="#c0c0c0"/>
<rect x="181" y="725" width="1" height="9" fill="#c0c0c0"/>
<rect x="185" y="725" width="1" height="6" fill="#c0c0c0"/>
<rect x="189" y="725" width="1" height="7" fill="#c0c0c0"/>
<rect x="193" y="725" width="1" height="9" fill="#c0c0c0"/>
<rect x="197" y="725" width="1" height="12" fill="#c0c0c0"/>
<rect x="201" y="725" width="1" height="12" fill="#c0c0c0"/>
<rect x="205" y="725" width="1" height="11" fill="#c0c0c0"/>
<rect x="209" y="725" width="1" height="8" fill="#c0c0c0"/>
<rect x="213" y="725" width="1" height="5" fill="#c0c0c0"/>
<rect x="217" y="725" width="1" height="2" fill="#c0c0c0"/>
<rect x="221" y="723" width="1" height="3" fill="#c0c0c0"/>
<rect x="225" y="721" width="1" height="5" fill="#c0c0c0"/>
<rect x="229" y="719" width="1" height="7" fill="#c0c0c0"/>
<rect x="233" y="718" width="1" height="8" fill="#c0c0c0"/>
<rect x="237" y="716" width="1" height="10" fill="#c0c0c0"/>
<rect x="241" y="714" width="1" height="12" fill="#c0c0c0"/>
<rect x="245" y="712" width="1" height="14" fill="#c0c0c0"/>
<rect x="249" y="711" width="1" height="15" fill="#c0c0c0"/>
<rect x="253" y="710" width="1" height="16" fill="#c0c0c0"/>
<rect x="257" y="709" width="1" height="17" fill="#c0c0c0"/>
<rect x="261" y="708" width="1" height="18" fill="#c0c0c0"/>
<rect x="265" y="710" width="1" height="16" fill="#c0c0c0"/>
<rect x="269" y="712" width="1" height="14" fill="#c0c0c0"/>
<rect x="273" y="713" width="1" height="13" fill="#c0c0c0"/>
<rect x="277" y="715" width="1" height="11" fill="#c0c0c0"/>
<rect x="281" y="716" width="1" height="10" fill="#c0c0c0"/>
<rect x="285" y="721" width="1" height="5" fill="#c0c0c0"/>
<rect x="289" y="725" width="1" height="1" fill="#c0c0c0"/>
<rect x="293" y="725" width="1" height="5" fill="#c0c0c0"/>
<rect x="297" y="725" width="1" height="12" fill="#c0c0c0"/>
<rect x="301" y="725" width="1" height="18" fill="#c0c0c0"/>
<rect x="305" y="725" width="1" height="23" fill="#c0c0c0"/>
<rect x="309" y="725" width="1" height="29" fill="#c0c0c0"/>
<rect x="313" y="725" width="1" height="39" fill="#c0c0c0"/>
<rect x="317" y="725" width="1" height="47" fill="#c0c0c0"/>
<rect x="321" y="725" width="1" height="56" fill="#c0c0c0"/>
<rect x="325" y="725" width="1" height="61" fill="#c0c0c0"/>
<rect x="329" y="725" width="1" height="62" fill="#c0c0c0"/>
<rect x="333" y="725" width="1" height="54" fill="#c0c0c0"/>
<rect x="337" y="725" width="1" height="48" fill="#c0c0c0"/>
<rect x="341" y="725" width="1" height="42" fill="#c0c0c0"/>
<rect x="345" y="725" width="1" height="41" fill="#c0c0c0"/>
<rect x="349" y="725" width="1" height="31" fill="#c0c0c0"/>
<rect x="353" y="725" width="1" height="20" fill="#c0c0c0"/>
<rect x="357" y="725" width="1" height="5" fill="#c0c0c0"/>
<rect x="361" y="717" width="1" height="9" fill="#c0c0c0"/>
<rect x="365" y="706" width="1" height="20" fill="#c0c0c0"/>
<rect x="369" y="701" width="1" height="25" fill="#c0c0c0"/>
<rect x="373" y="697" width="1" height="29" fill="#c0c0c0"/>
<rect x="377" y="697" width="1" height="29" fill="#c0c0c0"/>
<rect x="381" y="702" width="1" height="24" fill="#c0c0c0"/>
<rect x="385" y="711" width="1" height="15" fill="#c0c0c0"/>
<rect x="389" y="719" width="1" height="7" fill="#c0c0c0"/>
<rect x="393" y="723" width="1" height="3" fill="#c0c0c0"/>
<rect x="397" y="724" width="1" height="2" fill="#c0c0c0"/>
<rect x="401" y="723" width="1" height="3" fill="#c0c0c0"/>
<rect x="405" y="720" width="1" height="6" fill="#c0c0c0"/>
<rect x="409" y="715" width="1" height="11" fill="#c0c0c0"/>
<rect x="413" y="713" width="1" height="13" fill="#c0c0c0"/>
<rect x="417" y="710" width="1" height="16" fill="#c0c0c0"/>
<rect x="421" y="711" width="1" height="15" fill="#c0c0c0"/>
<rect x="425" y="712" width="1" height="14" fill="#c0c0c0"/>
<rect x="429" y="715" width="1" height="11" fill="#c0c0c0"/>
<rect x="433" y="718" width="1" height="8" fill="#c0c0c0"/>
<rect x="437" y="721" width="1" height="5" fill="#c0c0c0"/>
<rect x="441" y="721" width="1" height="5" fill="#c0c0c0"/>
<rect x="445" y="725" width="1" height="1" fill="#c0c0c0"/>
<rect x="449" y="725" width="1" height="2" fill="#c0c0c0"/>
<rect x="453" y="725" width="1" height="1" fill="#c0c0c0"/>
<rect x="457" y="725" width="1" height="1" fill="#c0c0c0"/>
<rect x="461" y="725" width="1" height="1" fill="#c0c0c0"/>
<rect x="465" y="725" width="1" height="1" fill="#c0c0c0"/>
<rect x="469" y="724" width="1" height="2" fill="#c0c0c0"/>
<rect x="473" y="723" width="1" height="3" fill="#c0c0c0"/>
<rect x="477" y="721" width="1" height="5" fill="#c0c0c0"/>
<rect x="481" y="718" width="1" height="8" fill="#c0c0c0"/>
<rect x="485" y="716" width="1" height="10" fill="#c0c0c0"/>
<rect x="489" y="715" width="1" height="11" fill="#c0c0c0"/>
<rect x="493" y="714" width="1" height="12" fill="#c0c0c0"/>
<rect x="497" y="714" width="1" height="12" fill="#c0c0c0"/>
<rect x="501" y="717" width="1" height="9" fill="#c0c0c0"/>
<rect x="505" y="723" width="1" height="3" fill="#c0c0c0"/>
<rect x="509" y="725" width="1" height="2" fill="#c0c0c0"/>
<rect x="513" y="725" width="1" height="4" fill="#c0c0c0"/>
<rect x="517" y="725" width="1" height="2" fill="#c0c0c0"/>
<rect x="521" y="723" width="1" height="3" fill="#c0c0c0"/>
<rect x="525" y="721" width="1" height="5" fill="#c0c0c0"/>
<rect x="529" y="721" width="1" height="5" fill="#c0c0c0"/>
<rect x="533" y="721" width="1" height="5" fill="#c0c0c0"/>
<rect x="537" y="721" width="1" height="5" fill="#c0c0c0"/>
<rect x="541" y="722" width="1" height="4" fill="#c0c0c0"/>
<rect x="545" y="722" width="1" height="4" fill="#c0c0c0"/>
<rect x="549" y="721" width="1" height="5" fill="#c0c0c0"/>
<rect x="553" y="721" width="1" height="5" fill="#c0c0c0"/>
<rect x="557" y="721" width="1" height="5" fill="#c0c0c0"/>
<rect x="561" y="721" width="1" height="5" fill="#c0c0c0"/>
<rect x="565" y="721" width="1" height="5" fill="#c0c0c0"/>
<rect x="569" y="724" width="1" height="2" fill="#c0c0c0"/>
<rect x="573" y="724" width="1" height="2" fill="#c0c0c0"/>
<rect x="577" y="723" width="1" height="3" fill="#c0c0c0"/>
<rect x="581" y="722" width="1" height="4" fill="#c0c0c0"/>
<rect x="585" y="723" width="1" height="3" fill="#c0c0c0"/>
<rect x="589" y="725" width="1" height="1" fill="#c0c0c0"/>
<rect x="593" y="725" width="1" height="1" fill="#c0c0c0"/>
<rect x="597" y="725" width="1" height="4" fill="#c0c0c0"/>
<rect x="601" y="725" width="1" height="7" fill="#c0c0c0"/>
<rect x="605" y="725" width="1" height="9" fill="#c0c0c0"/>
<rect x="609" y="725" width="1" height="11" fill="#c0c0c0"/>
<rect x="613" y="725" width="1" height="12" fill="#c0c0c0"/>
<rect x="617" y="725" width="1" height="13" fill="#c0c0c0"/>
<rect x="621" y="725" width="1" height="16" fill="#c0c0c0"/>
<rect x="625" y="725" width="1" height="16" fill="#c0c0c0"/>
<rect x="629" y="725" width="1" height="15" fill="#c0c0c0"/>
<rect x="633" y="725" width="1" height="17" fill="#c0c0c0"/>
<rect x="637" y="725" width="1" height="22" fill="#c0c0c0"/>
<rect x="641" y="725" width="1" height="27" fill="#c0c0c0"/>
<rect x="645" y="725" width="1" height="34" fill="#c0c0c0"/>
<rect x="649" y="725" width="1" height="33" fill="#c0c0c0"/>
<rect x="653" y="725" width="1" height="31" fill="#c0c0c0"/>
<rect x="657" y="725" width="1" height="30" fill="#c0c0c0"/>
<rect x="661" y="725" width="1" height="30" fill="#c0c0c0"/>
<rect x="665" y="725" width="1" height="29" fill="#c0c0c0"/>
<rect x="669" y="725" width="1" height="28" fill="#c0c0c0"/>
<rect x="673" y="725" width="1" height="26" fill="#c0c0c0"/>
<rect x="677" y="725" width="1" height="24" fill="#c0c0c0"/>
<rect x="681" y="725" width="1" height="25" fill="#c0c0c0"/>
<rect x="685" y="725" width="1" height="26" fill="#c0c0c0"/>
<rect x="689" y="725" width="1" height="26" fill="#c0c0c0"/>
<rect x="693" y="725" width="1" height="25" fill="#c0c0c0"/>
<rect x="697" y="725" width="1" height="24" fill="#c0c0c0"/>
<rect x="701" y="725" width="1" height="23" fill="#c0c0c0"/>
<rect x="705" y="725" width="1" height="21" fill="#c0c0c0"/>
<rect x="709" y="725" width="1" height="20" fill="#c0c0c0"/>
<rect x="713" y="725" width="1" height="21" fill="#c0c0c0"/>
<rect x="717" y="725" width="1" height="20" fill="#c0c0c0"/>
<rect x="721" y="725" width="1" height="20" fill="#c0c0c0"/>
<rect x="725" y="725" width="1" height="20" fill="#c0c0c0"/>
<rect x="729" y="725" width="1" height="21" fill="#c0c0c0"/>
<rect x="733" y="725" width="1" height="22" fill="#c0c0c0"/>
<rect x="737" y="725" width="1" height="24" fill="#c0c0c0"/>
<rect x="741" y="725" width="1" height="24" fill="#c0c0c0"/>
<rect x="745" y="725" width="1" height="24" fill="#c0c0c0"/>
<rect x="749" y="725" width="1" height="23" fill="#c0c0c0"/>
<rect x="753" y="725" width="1" height="22" fill="#c0c0c0"/>
<rect x="757" y="725" width="1" height="23" fill="#c0c0c0"/>
<rect x="761" y="725" width="1" height="20" fill="#c0c0c0"/>
<rect x="765" y="725" width="1" height="18" fill="#c0c0c0"/>
<rect x="769" y="725" width="1" height="19" fill="#c0c0c0"/>
<rect x="773" y="725" width="1" height="19" fill="#c0c0c0"/>
<rect x="777" y="725" width="1" height="19" fill="#c0c0c0"/>
<rect x="781" y="725" width="1" height="20" fill="#c0c0c0"/>
<rect x="785" y="725" width="1" height="24" fill="#c0c0c0"/>
<rect x="789" y="725" width="1" height="28" fill="#c0c0c0"/>
<rect x="793" y="725" width="1" height="32" fill="#c0c0c0"/>
<rect x="797" y="725" width="1" height="35" fill="#c0c0c0"/>
<rect x="801" y="725" width="1" height="38" fill="#c0c0c0"/>
<rect x="805" y="725" width="1" height="41" fill="#c0c0c0"/>
<rect x="809" y="725" width="1" height="45" fill="#c0c0c0"/>
<rect x="813" y="725" width="1" height="48" fill="#c0c0c0"/>
<rect x="817" y="725" width="1" height="50" fill="#c0c0c0"/>
<rect x="821" y="725" width="1" height="50" fill="#c0c0c0"/>
<rect x="825" y="725" width="1" height="47" fill="#c0c0c0"/>
<rect x="829" y="725" width="1" height="46" fill="#c0c0c0"/>
<rect x="833" y="725" width="1" height="49" fill="#c0c0c0"/>
<rect x="837" y="725" width="1" height="49" fill="#c0c0c0"/>
<rect x="841" y="725" width="1" height="47" fill="#c0c0c0"/>
<rect x="845" y="725" width="1" height="44" fill="#c0c0c0"/>
<rect x="849" y="725" width="1" height="41" fill="#c0c0c0"/>
<rect x="853" y="725" width="1" height="38" fill="#c0c0c0"/>
<rect x="857" y="725" width="1" height="37" fill="#c0c0c0"/>
<rect x="861" y="725" width="1" height="37" fill="#c0c0c0"/>
<rect x="865" y="725" width="1" height="37" fill="#c0c0c0"/>
<rect x="869" y="725" width="1" height="36" fill="#c0c0c0"/>
<rect x="873" y="725" width="1" height="36" fill="#c0c0c0"/>
<rect x="877" y="725" width="1" height="38" fill="#c0c0c0"/>
<rect x="881" y="725" width="1" height="35" fill="#c0c0c0"/>
<rect x="885" y="725" width="1" height="33" fill="#c0c0c0"/>
<rect x="889" y="725" width="1" height="29" fill="#c0c0c0"/>
<rect x="893" y="725" width="1" height="27" fill="#c0c0c0"/>
<rect x="897" y="725" width="1" height="25" fill="#c0c0c0"/>
<rect x="901" y="725" width="1" height="24" fill="#c0c0c0"/>
<rect x="905" y="725" width="1" height="23" fill="#c0c0c0"/>
<rect x="909" y="725" width="1" height="22" fill="#c0c0c0"/>
<rect x="913" y="725" width="1" height="23" fill="#c0c0c0"/>
<rect x="917" y="725" width="1" height="24" fill="#c0c0c0"/>
<rect x="921" y="725" width="1" height="25" fill="#c0c0c0"/>
<rect x="925" y="725" width="1" height="23" fill="#c0c0c0"/>
<rect x="929" y="725" width="1" height="20" fill="#c0c0c0"/>
<rect x="933" y="725" width="1" height="18" fill="#c0c0c0"/>
<rect x="937" y="725" width="1" height="13" fill="#c0c0c0"/>
<rect x="941" y="725" width="1" height="11" fill="#c0c0c0"/>
<rect x="945" y="725" width="1" height="8" fill="#c0c0c0"/>
<rect x="949" y="725" width="1" height="4" fill="#c0c0c0"/>
<rect x="953" y="725" width="1" height="3" fill="#c0c0c0"/>
<rect x="957" y="725" width="1" height="5" fill="#c0c0c0"/>
<rect x="961" y="725" width="1" height="6" fill="#c0c0c0"/>
<rect x="965" y="725" width="1" height="6" fill="#c0c0c0"/>
<rect x="969" y="725" width="1" height="7" fill="#c0c0c0"/>
<rect x="973" y="725" width="1" height="7" fill="#c0c0c0"/>
<rect x="977" y="725" width="1" height="8" fill="#c0c0c0"/>
<rect x="981" y="725" width="1" height="7" fill="#c0c0c0"/>
<rect x="985" y="725" width="1" height="7" fill="#c0c0c0"/>
<rect x="989" y="725" width="1" height="6" fill="#c0c0c0"/>
<rect x="993" y="725" width="1" height="3" fill="#c0c0c0"/>
<rect x="997" y="722" width="1" height="4" fill="#c0c0c0"/>
<rect x="1001" y="718" width="1" height="8" fill="#c0c0c0"/>
<rect x="1005" y="713" width="1" height="13" fill="#c0c0c0"/>
<rect x="1009" y="708" width="1" height="18" fill="#c0c0c0"/>
<rect x="1013" y="704" width="1" height="22" fill="#c0c0c0"/>
<rect x="1017" y="703" width="1" height="23" fill="#c0c0c0"/>
<rect x="1021" y="704" width="1" height="22" fill="#c0c0c0"/>
<rect x="1025" y="706" width="1" height="20" fill="#c0c0c0"/>
<rect x="1029" y="709" width="1" height="17" fill="#c0c0c0"/>
<rect x="1033" y="710" width="1" height="16" fill="#c0c0c0"/>
<rect x="1037" y="710" width="1" height="16" fill="#c0c0c0"/>
<rect x="1041" y="714" width="1" height="12" fill="#c0c0c0"/>
<rect x="1045" y="716" width="1" height="10" fill="#c0c0c0"/>
<rect x="1049" y="717" width="1" height="9" fill="#c0c0c0"/>
<rect x="1053" y="718" width="1" height="8" fill="#c0c0c0"/>
<rect x="1057" y="723" width="1" height="3" fill="#c0c0c0"/>
<rect x="1061" y="725" width="1" height="2" fill="#c0c0c0"/>
<rect x="1065" y="725" width="1" height="5" fill="#c0c0c0"/>
<rect x="1069" y="725" width="1" height="5" fill="#c0c0c0"/>
<rect x="1073" y="725" width="1" height="5" fill="#c0c0c0"/>
<rect x="1077" y="725" width="1" height="5" fill="#c0c0c0"/>
<rect x="1081" y="725" width="1" height="5" fill="#c0c0c0"/>
<rect x="1085" y="725" width="1" height="4" fill="#c0c0c0"/>
<rect x="1089" y="725" width="1" height="6" fill="#c0c0c0"/>
<rect x="1093" y="725" width="1" height="9" fill="#c0c0c0"/>
<rect x="1097" y="725" width="1" height="12" fill="#c0c0c0"/>
<rect x="1101" y="725" width="1" height="13" fill="#c0c0c0"/>
<rect x="1105" y="725" width="1" height="15" fill="#c0c0c0"/>
<rect x="1109" y="725" width="1" height="16" fill="#c0c0c0"/>
<rect x="1113" y="725" width="1" height="16" fill="#c0c0c0"/>
<rect x="1117" y="725" width="1" height="16" fill="#c0c0c0"/>
<rect x="1121" y="725" width="1" height="14" fill="#c0c0c0"/>
<rect x="1125" y="725" width="1" height="10" fill="#c0c0c0"/>
<rect x="1129" y="725" width="1" height="6" fill="#c0c0c0"/>
<rect x="1133" y="725" width="1" height="3" fill="#c0c0c0"/>
<rect x="1137" y="724" width="1" height="2" fill="#c0c0c0"/>
<rect x="1141" y="724" width="1" height="2" fill="#c0c0c0"/>
<rect x="1145" y="725" width="1" height="1" fill="#c0c0c0"/>
<rect x="1149" y="725" width="1" height="4" fill="#c0c0c0"/>
<rect x="1153" y="725" width="1" height="9" fill="#c0c0c0"/>
<rect x="1157" y="725" width="1" height="13" fill="#c0c0c0"/>
<rect x="1161" y="725" width="1" height="11" fill="#c0c0c0"/>
<rect x="1165" y="725" width="1" height="8" fill="#c0c0c0"/>
<rect x="1169" y="725" width="1" height="4" fill="#c0c0c0"/>
<rect x="1173" y="725" width="1" height="2" fill="#c0c0c0"/>
<rect x="1177" y="725" width="1" height="1" fill="#c0c0c0"/>
<rect x="1181" y="724" width="1" height="2" fill="#c0c0c0"/>
<rect x="1185" y="724" width="1" height="2" fill="#c0c0c0"/>
<rect x="1189" y="725" width="1" height="1" fill="#c0c0c0"/>
<rect x="1193" y="725" width="1" height="2" fill="#c0c0c0"/>
<rect x="1197" y="725" width="1" height="1" fill="#c0c0c0"/>
<rect x="1201" y="725" width="1" height="1" fill="#c0c0c0"/>
<rect x="1205" y="725" width="1" height="1" fill="#c0c0c0"/>
<rect x="1209" y="724" width="1" height="2" fill="#c0c0c0"/>
<rect x="1213" y="724" width="1" height="2" fill="#c0c0c0"/>
<rect x="1217" y="725" width="1" height="2" fill="#c0c0c0"/>
<rect x="1221" y="725" width="1" height="3" fill="#c0c0c0"/>
<rect x="1225" y="725" width="1" height="6" fill="#c0c0c0"/>
<rect x="1229" y="725" width="1" height="8" fill="#c0c0c0"/>
<rect x="1233" y="725" width="1" height="9" fill="#c0c0c0"/>
<rect x="1237" y="725" width="1" height="12" fill="#c0c0c0"/>
<rect x="1241" y="725" width="1" height="16" fill="#c0c0c0"/>
<rect x="1245" y="725" width="1" height="22" fill="#c0c0c0"/>
<rect x="1249" y="725" width="1" height="26" fill="#c0c0c0"/>
<rect x="1253" y="725" width="1" height="29" fill="#c0c0c0"/>
<rect x="1257" y="725" width="1" height="32" fill="#c0c0c0"/>
<rect x="1261" y="725" width="1" height="34" fill="#c0c0c0"/>
<rect x="1265" y="725" width="1" height="34" fill="#c0c0c0"/>
<rect x="1269" y="725" width="1" height="35" fill="#c0c0c0"/>
<path d="M5 721h3v1h-3zM11 723h2v1h-2zM13 724h1v1h-1zM17 726h2v1h-2zM19 727h1v1h-1zM23 728h1v1h-1zM24 729h2v1h-2zM29 731h2v1h-2zM31 732h1v1h-1zM35 733h1v1h-1zM36 734h2v1h-2zM41 735h2v1h-2zM43 736h1v1h-1zM47 737h1v1h-1zM48 738h2v1h-2zM53 739h3v1h-3zM59 740h1v1h-1zM60 741h2v1h-2zM65 741h3v1h-3zM71 742h3v1h-3zM77 743h3v1h-3zM83 743h1v1h-1zM84 744h2v1h-2zM89 745h2v1h-2zM91 746h1v1h-1zM95 747h1v1h-1zM96 748h2v1h-2zM101 749h2v1h-2zM103 750h1v1h-1zM107 751h3v1h-3zM113 752h3v1h-3zM119 752h1v1h-1zM120 751h2v1h-2zM125 750h3v1h-3zM131 749h1v1h-1zM132 748h2v1h-2zM137 747h3v1h-3zM143 747h1v1h-1zM144 746h2v1h-2zM149 746h3v1h-3zM155 745h3v1h-3zM161 744h3v1h-3zM167 744h1v1h-1zM168 743h2v1h-2zM173 742h3v1h-3zM179 741h1v1h-1zM180 740h2v1h-2zM185 738h3v1h-3zM191 737h1v1h-1zM192 736h2v1h-2zM197 735h3v1h-3zM203 734h3v1h-3zM209 734h3v1h-3zM215 733h1v1h-1zM216 732h2v1h-2zM221 731h3v1h-3zM227 729h2v1h-2zM229 728h1v1h-1zM233 726h2v1h-2zM235 725h1v1h-1zM239 723h2v1h-2zM241 722h1v1h-1zM245 720h2v1h-2zM247 719h1v1h-1zM251 717h2v1h-2zM253 716h1v1h-1zM257 714h3v1h-3zM263 713h1v1h-1zM264 712h2v1h-2zM269 711h3v1h-3zM275 711h3v1h-3zM281 711h2v1h-2zM283 712h1v1h-1zM287 713h1v1h-1zM288 714h2v1h-2zM293 717h1v1h-1zM294 718h2v1h-2zM299 721h1v1h-1zM300 722h1v1h-1zM301 723h1v1h-1zM305 727h1v1h-1zM306 728h1v1h-1zM307 729h1v1h-1zM310 733h1v1h-1zM311 734h1v2h-1zM314 739h1v1h-1zM315 740h1v1h-1zM316 741h1v1h-1zM318 745h1v1h-1zM319 746h1v2h-1zM322 751h1v2h-1zM323 753h1v1h-1zM326 757h1v2h-1zM327 759h1v1h-1zM329 763h1v1h-1zM330 764h1v1h-1zM331 765h1v1h-1zM335 769h1v1h-1zM336 770h1v1h-1zM337 771h1v1h-1zM341 773h3v1h-3zM347 774h1v1h-1zM348 773h2v1h-2zM353 770h1v1h-1zM354 768h1v2h-1zM357 764h1v1h-1zM358 762h1v2h-1zM360 758h1v1h-1zM361 756h1v2h-1zM363 752h1v1h-1zM364 750h1v2h-1zM366 745h1v2h-1zM367 744h1v1h-1zM369 738h1v3h-1zM371 734h1v1h-1zM372 732h1v2h-1zM374 728h1v1h-1zM375 726h1v2h-1zM378 721h1v2h-1zM379 720h1v1h-1zM381 716h1v1h-1zM382 715h1v1h-1zM383 714h1v1h-1zM387 711h1v1h-1zM388 710h1v1h-1zM389 709h1v1h-1zM393 708h3v1h-3zM399 710h2v1h-2zM401 711h1v1h-1zM405 713h2v1h-2zM407 714h1v1h-1zM411 716h2v1h-2zM413 717h1v1h-1zM417 718h3v1h-3zM423 718h1v1h-1zM424 717h2v1h-2zM429 716h3v1h-3zM435 715h3v1h-3zM441 715h3v1h-3zM447 717h2v1h-2zM449 718h1v1h-1zM453 720h3v1h-3zM459 722h2v1h-2zM461 723h1v1h-1zM465 724h3v1h-3zM471 724h1v1h-1zM472 725h2v1h-2zM477 725h3v1h-3zM483 724h1v1h-1zM484 723h2v1h-2zM489 722h2v1h-2zM491 721h1v1h-1zM495 720h1v1h-1zM496 719h2v1h-2zM501 718h3v1h-3zM507 718h3v1h-3zM513 719h3v1h-3zM519 720h3v1h-3zM525 721h3v1h-3zM531 722h1v1h-1zM532 723h2v1h-2zM537 723h3v1h-3zM543 723h3v1h-3zM549 722h3v1h-3zM555 722h1v1h-1zM556 721h2v1h-2zM561 721h3v1h-3zM567 721h1v1h-1zM568 722h2v1h-2zM573 722h3v1h-3zM579 722h3v1h-3zM585 722h3v1h-3zM591 723h3v1h-3zM597 724h3v1h-3zM603 725h1v1h-1zM604 726h2v1h-2zM609 727h2v1h-2zM611 728h1v1h-1zM615 729h1v1h-1zM616 730h2v1h-2zM621 732h2v1h-2zM623 733h1v1h-1zM627 734h1v1h-1zM628 735h2v1h-2zM633 737h2v1h-2zM635 738h1v1h-1zM639 740h2v1h-2zM641 741h1v1h-1zM645 743h1v1h-1zM646 744h2v1h-2zM651 747h2v1h-2zM653 748h1v1h-1zM657 749h2v1h-2zM659 750h1v1h-1zM663 751h1v1h-1zM664 752h2v1h-2zM669 753h3v1h-3zM675 754h3v1h-3zM681 752h3v1h-3zM687 752h1v1h-1zM688 751h2v1h-2zM693 751h3v1h-3zM699 750h1v1h-1zM700 749h2v1h-2zM705 748h3v1h-3zM711 748h1v1h-1zM712 747h2v1h-2zM717 747h3v1h-3zM723 746h1v1h-1zM724 745h2v1h-2zM729 745h3v1h-3zM735 745h3v1h-3zM741 745h3v1h-3zM747 746h3v1h-3zM753 746h3v1h-3zM759 747h3v1h-3zM765 746h3v1h-3zM771 746h1v1h-1zM772 745h2v1h-2zM777 745h3v1h-3zM783 744h3v1h-3zM789 745h3v1h-3zM795 747h2v1h-2zM797 748h1v1h-1zM801 750h1v1h-1zM802 751h2v1h-2zM807 754h2v1h-2zM809 755h1v1h-1zM813 759h1v1h-1zM814 760h2v1h-2zM819 763h1v1h-1zM820 764h1v1h-1zM821 765h1v1h-1zM825 767h2v1h-2zM827 768h1v1h-1zM831 769h1v1h-1zM832 770h2v1h-2zM837 771h3v1h-3zM843 772h3v1h-3zM849 771h3v1h-3zM855 769h2v1h-2zM857 768h1v1h-1zM861 767h3v1h-3zM867 766h1v1h-1zM868 765h2v1h-2zM873 763h3v1h-3zM879 762h1v1h-1zM880 761h2v1h-2zM885 760h3v1h-3zM891 759h1v1h-1zM892 758h2v1h-2zM897 757h2v1h-2zM899 756h1v1h-1zM903 755h1v1h-1zM904 754h2v1h-2zM909 752h3v1h-3zM915 750h2v1h-2zM917 749h1v1h-1zM921 749h3v1h-3zM927 748h1v1h-1zM928 747h2v1h-2zM933 746h3v1h-3zM939 745h1v1h-1zM940 744h2v1h-2zM945 742h2v1h-2zM947 741h1v1h-1zM951 739h2v1h-2zM953 738h1v1h-1zM957 736h2v1h-2zM959 735h1v1h-1zM963 733h2v1h-2zM965 732h1v1h-1zM969 731h3v1h-3zM975 730h3v1h-3zM981 730h3v1h-3zM987 730h1v1h-1zM988 731h2v1h-2zM993 730h3v1h-3zM999 729h1v1h-1zM1000 728h2v1h-2zM1005 726h1v1h-1zM1006 725h2v1h-2zM1011 722h1v1h-1zM1012 721h1v1h-1zM1013 720h1v1h-1zM1017 717h1v1h-1zM1018 716h2v1h-2zM1023 713h2v1h-2zM1025 712h1v1h-1zM1029 710h2v1h-2zM1031 709h1v1h-1zM1035 708h1v1h-1zM1036 707h2v1h-2zM1041 707h3v1h-3zM1047 709h2v1h-2zM1049 710h1v1h-1zM1053 712h2v1h-2zM1055 713h1v1h-1zM1059 715h2v1h-2zM1061 716h1v1h-1zM1065 718h2v1h-2zM1067 719h1v1h-1zM1071 721h2v1h-2zM1073 722h1v1h-1zM1077 724h2v1h-2zM1079 725h1v1h-1zM1083 726h1v1h-1zM1084 727h2v1h-2zM1089 728h3v1h-3zM1095 729h1v1h-1zM1096 730h2v1h-2zM1101 731h3v1h-3zM1107 733h2v1h-2zM1109 734h1v1h-1zM1113 735h3v1h-3zM1119 736h1v1h-1zM1120 737h2v1h-2zM1125 738h3v1h-3zM1131 737h1v1h-1zM1132 736h2v1h-2zM1137 735h2v1h-2zM1139 734h1v1h-1zM1143 732h2v1h-2zM1145 731h1v1h-1zM1149 730h3v1h-3zM1155 729h3v1h-3zM1161 729h3v1h-3zM1167 729h3v1h-3zM1173 730h3v1h-3zM1179 730h3v1h-3zM1185 729h3v1h-3zM1191 728h1v1h-1zM1192 727h2v1h-2zM1197 726h3v1h-3zM1203 725h3v1h-3zM1209 725h3v1h-3zM1215 725h3v1h-3zM1221 725h3v1h-3zM1227 726h1v1h-1zM1228 727h2v1h-2zM1233 728h3v1h-3zM1239 729h1v1h-1zM1240 730h2v1h-2zM1245 733h2v1h-2zM1247 734h1v1h-1zM1251 736h1v1h-1zM1252 737h1v1h-1zM1253 738h1v1h-1zM1257 742h1v1h-1zM1258 743h2v1h-2zM1263 746h1v1h-1zM1264 747h1v1h-1zM1265 748h1v1h-1z" fill="#ff0000"/>
</g>
<rect x="1599" y="555" width="41" height="11" fill="#000"/>
<text x="1603" y="564" font-size="10.2" fill="#fff" textLength="33" lengthAdjust="spacingAndGlyphs" stroke="#fff" stroke-width="0.18" text-anchor="start" shape-rendering="auto">0.88924</text>
<rect x="5" y="288" width="1592" height="2" fill="#ff0000"/>
<rect x="1599" y="283" width="41" height="11" fill="#ff0000"/>
<text x="1603" y="292" font-size="10.2" fill="#fff" textLength="33" lengthAdjust="spacingAndGlyphs" stroke="#fff" stroke-width="0.18" text-anchor="start" shape-rendering="auto">0.94413</text>
<rect x="5" y="358" width="1592" height="2" fill="#ff0000"/>
<rect x="1599" y="353" width="41" height="11" fill="#ff0000"/>
<text x="1603" y="362" font-size="10.2" fill="#fff" textLength="33" lengthAdjust="spacingAndGlyphs" stroke="#fff" stroke-width="0.18" text-anchor="start" shape-rendering="auto">0.93001</text>
<rect x="5" y="422" width="1592" height="2" fill="#ff0000"/>
<rect x="4" y="420" width="6" height="6" fill="#ff0000"/>
<rect x="6" y="422" width="2" height="2" fill="#fff"/>
<rect x="1591" y="420" width="6" height="6" fill="#ff0000"/>
<rect x="1593" y="422" width="2" height="2" fill="#fff"/>
<rect x="1599" y="417" width="41" height="11" fill="#ff0000"/>
<text x="1603" y="426" font-size="10.2" fill="#fff" textLength="33" lengthAdjust="spacingAndGlyphs" stroke="#fff" stroke-width="0.18" text-anchor="start" shape-rendering="auto">0.91709</text>
<rect x="5" y="503" width="1592" height="2" fill="#00ff00"/>
<rect x="4" y="501" width="6" height="6" fill="#00ff00"/>
<rect x="6" y="503" width="2" height="2" fill="#fff"/>
<rect x="1591" y="501" width="6" height="6" fill="#00ff00"/>
<rect x="1593" y="503" width="2" height="2" fill="#fff"/>
<rect x="1599" y="498" width="41" height="11" fill="#00ff00"/>
<text x="1603" y="507" font-size="10.2" fill="#fff" textLength="33" lengthAdjust="spacingAndGlyphs" stroke="#fff" stroke-width="0.18" text-anchor="start" shape-rendering="auto">0.90055</text>
<rect x="5" y="554" width="1592" height="2" fill="#0000ff"/>
<rect x="4" y="552" width="6" height="6" fill="#0000ff"/>
<rect x="6" y="554" width="2" height="2" fill="#fff"/>
<rect x="1591" y="552" width="6" height="6" fill="#0000ff"/>
<rect x="1593" y="554" width="2" height="2" fill="#fff"/>
<rect x="1599" y="549" width="41" height="11" fill="#0000ff"/>
<text x="1603" y="558" font-size="10.2" fill="#fff" textLength="33" lengthAdjust="spacingAndGlyphs" stroke="#fff" stroke-width="0.18" text-anchor="start" shape-rendering="auto">0.89026</text>
<path d="M8 35 L15 35 L11.5 39 Z" fill="#000"/>
<text x="20.3" y="40" font-size="10.2" fill="#000" textLength="64.2" lengthAdjust="spacingAndGlyphs" stroke="#000" stroke-width="0.18" text-anchor="start" shape-rendering="auto">USDCHF,Daily</text>
<text x="91" y="40" font-size="10.2" fill="#000" textLength="141" lengthAdjust="spacingAndGlyphs" stroke="#000" stroke-width="0.18" text-anchor="start" shape-rendering="auto">0.88989 0.89136 0.88865 0.88924</text>
<path d="M1272 28 L1283 28 L1277.5 34 Z" fill="#c0c0c0" shape-rendering="auto"/>
<text x="9.2" y="598.6" font-size="10.2" fill="#000" textLength="68" lengthAdjust="spacingAndGlyphs" stroke="#000" stroke-width="0.18" text-anchor="start" shape-rendering="auto">RSI(14) 27.3720</text>
<line x1="6" y1="617.5" x2="1597" y2="617.5" stroke="#c0c0c0" stroke-width="1" stroke-dasharray="3,3"/>
<line x1="6" y1="657.5" x2="1597" y2="657.5" stroke="#c0c0c0" stroke-width="1" stroke-dasharray="3,3"/>
<text x="1601" y="597" font-size="10.2" fill="#000" textLength="15" lengthAdjust="spacingAndGlyphs" stroke="#000" stroke-width="0.18" text-anchor="start" shape-rendering="auto">100</text>
<text x="1600.3" y="621" font-size="10.2" fill="#000" textLength="10" lengthAdjust="spacingAndGlyphs" stroke="#000" stroke-width="0.18" text-anchor="start" shape-rendering="auto">70</text>
<text x="1600.3" y="661" font-size="10.2" fill="#000" textLength="10" lengthAdjust="spacingAndGlyphs" stroke="#000" stroke-width="0.18" text-anchor="start" shape-rendering="auto">30</text>
<text x="1601" y="685" font-size="10.2" fill="#000" textLength="5" lengthAdjust="spacingAndGlyphs" stroke="#000" stroke-width="0.18" text-anchor="start" shape-rendering="auto">0</text>
<rect x="1598" y="588" width="1" height="1" fill="#000"/>
<rect x="1598" y="687" width="1" height="1" fill="#000"/>
<text x="9.2" y="702.6" font-size="10.2" fill="#000" textLength="154" lengthAdjust="spacingAndGlyphs" stroke="#000" stroke-width="0.18" text-anchor="start" shape-rendering="auto">MACD(12,26,9) -0.005950 -0.004509</text>
<text x="1601" y="701" font-size="10.2" fill="#000" textLength="38" lengthAdjust="spacingAndGlyphs" stroke="#000" stroke-width="0.18" text-anchor="start" shape-rendering="auto">0.005818</text>
<text x="1601" y="729" font-size="10.2" fill="#000" textLength="18" lengthAdjust="spacingAndGlyphs" stroke="#000" stroke-width="0.18" text-anchor="start" shape-rendering="auto">0.00</text>
<text x="1601" y="788" font-size="10.2" fill="#000" textLength="42" lengthAdjust="spacingAndGlyphs" stroke="#000" stroke-width="0.18" text-anchor="start" shape-rendering="auto">-0.011514</text>
<rect x="1598" y="692" width="1" height="1" fill="#000"/>
<rect x="1598" y="725" width="1" height="1" fill="#000"/>
<rect x="1598" y="790" width="1" height="1" fill="#000"/>
<rect x="5" y="792" width="1" height="3" fill="#000"/>
<text x="4.4" y="804" font-size="10.2" fill="#000" textLength="46.6" lengthAdjust="spacingAndGlyphs" stroke="#000" stroke-width="0.18" text-anchor="start" shape-rendering="auto">7 Dec 2019</text>
<rect x="69" y="792" width="1" height="3" fill="#000"/>
<text x="68.4" y="804" font-size="10.2" fill="#000" textLength="51.7" lengthAdjust="spacingAndGlyphs" stroke="#000" stroke-width="0.18" text-anchor="start" shape-rendering="auto">26 Dec 2019</text>
<rect x="133" y="792" width="1" height="3" fill="#000"/>
<text x="132.4" y="804" font-size="10.2" fill="#000" textLength="50.2" lengthAdjust="spacingAndGlyphs" stroke="#000" stroke-width="0.18" text-anchor="start" shape-rendering="auto">14 Jan 2020</text>
<rect x="197" y="792" width="1" height="3" fill="#000"/>
<text x="196.4" y="804" font-size="10.2" fill="#000" textLength="46.1" lengthAdjust="spacingAndGlyphs" stroke="#000" stroke-width="0.18" text-anchor="start" shape-rendering="auto">1 Feb 2020</text>
<rect x="261" y="792" width="1" height="3" fill="#000"/>
<text x="260.4" y="804" font-size="10.2" fill="#000" textLength="51.2" lengthAdjust="spacingAndGlyphs" stroke="#000" stroke-width="0.18" text-anchor="start" shape-rendering="auto">20 Feb 2020</text>
<rect x="325" y="792" width="1" height="3" fill="#000"/>
<text x="324.4" y="804" font-size="10.2" fill="#000" textLength="51.2" lengthAdjust="spacingAndGlyphs" stroke="#000" stroke-width="0.18" text-anchor="start" shape-rendering="auto">10 Mar 2020</text>
<rect x="389" y="792" width="1" height="3" fill="#000"/>
<text x="388.4" y="804" font-size="10.2" fill="#000" textLength="51.2" lengthAdjust="spacingAndGlyphs" stroke="#000" stroke-width="0.18" text-anchor="start" shape-rendering="auto">28 Mar 2020</text>
<rect x="453" y="792" width="1" height="3" fill="#000"/>
<text x="452.4" y="804" font-size="10.2" fill="#000" textLength="49.2" lengthAdjust="spacingAndGlyphs" stroke="#000" stroke-width="0.18" text-anchor="start" shape-rendering="auto">16 Apr 2020</text>
<rect x="517" y="792" width="1" height="3" fill="#000"/>
<text x="516.4" y="804" font-size="10.2" fill="#000" textLength="47.7" lengthAdjust="spacingAndGlyphs" stroke="#000" stroke-width="0.18" text-anchor="start" shape-rendering="auto">5 May 2020</text>
<rect x="581" y="792" width="1" height="3" fill="#000"/>
<text x="580.4" y="804" font-size="10.2" fill="#000" textLength="52.7" lengthAdjust="spacingAndGlyphs" stroke="#000" stroke-width="0.18" text-anchor="start" shape-rendering="auto">23 May 2020</text>
<rect x="645" y="792" width="1" height="3" fill="#000"/>
<text x="644.4" y="804" font-size="10.2" fill="#000" textLength="49.5" lengthAdjust="spacingAndGlyphs" stroke="#000" stroke-width="0.18" text-anchor="start" shape-rendering="auto">11 Jun 2020</text>
<rect x="709" y="792" width="1" height="3" fill="#000"/>
<text x="708.4" y="804" font-size="10.2" fill="#000" textLength="50.2" lengthAdjust="spacingAndGlyphs" stroke="#000" stroke-width="0.18" text-anchor="start" shape-rendering="auto">30 Jun 2020</text>
<rect x="773" y="792" width="1" height="3" fill="#000"/>
<text x="772.4" y="804" font-size="10.2" fill="#000" textLength="47.2" lengthAdjust="spacingAndGlyphs" stroke="#000" stroke-width="0.18" text-anchor="start" shape-rendering="auto">18 Jul 2020</text>
<rect x="837" y="792" width="1" height="3" fill="#000"/>
<text x="836.4" y="804" font-size="10.2" fill="#000" textLength="46.1" lengthAdjust="spacingAndGlyphs" stroke="#000" stroke-width="0.18" text-anchor="start" shape-rendering="auto">6 Aug 2020</text>
<rect x="901" y="792" width="1" height="3" fill="#000"/>
<text x="900.4" y="804" font-size="10.2" fill="#000" textLength="51.2" lengthAdjust="spacingAndGlyphs" stroke="#000" stroke-width="0.18" text-anchor="start" shape-rendering="auto">25 Aug 2020</text>
<rect x="965" y="792" width="1" height="3" fill="#000"/>
<text x="964.4" y="804" font-size="10.2" fill="#000" textLength="51.7" lengthAdjust="spacingAndGlyphs" stroke="#000" stroke-width="0.18" text-anchor="start" shape-rendering="auto">12 Sep 2020</text>
<rect x="1029" y="792" width="1" height="3" fill="#000"/>
<text x="1028.4" y="804" font-size="10.2" fill="#000" textLength="44.6" lengthAdjust="spacingAndGlyphs" stroke="#000" stroke-width="0.18" text-anchor="start" shape-rendering="auto">1 Oct 2020</text>
<rect x="1093" y="792" width="1" height="3" fill="#000"/>
<text x="1092.4" y="804" font-size="10.2" fill="#000" textLength="49.7" lengthAdjust="spacingAndGlyphs" stroke="#000" stroke-width="0.18" text-anchor="start" shape-rendering="auto">20 Oct 2020</text>
<rect x="1157" y="792" width="1" height="3" fill="#000"/>
<text x="1156.4" y="804" font-size="10.2" fill="#000" textLength="46.6" lengthAdjust="spacingAndGlyphs" stroke="#000" stroke-width="0.18" text-anchor="start" shape-rendering="auto">7 Nov 2020</text>
<rect x="1221" y="792" width="1" height="3" fill="#000"/>
<text x="1220.4" y="804" font-size="10.2" fill="#000" textLength="51.7" lengthAdjust="spacingAndGlyphs" stroke="#000" stroke-width="0.18" text-anchor="start" shape-rendering="auto">26 Nov 2020</text>
<rect x="0" y="812" width="1641" height="1" fill="#e6e6e6"/>
<rect x="0" y="813" width="1641" height="1" fill="#dcdcdc"/>
<rect x="0" y="814" width="1641" height="1" fill="#000"/>
<rect x="0" y="815" width="1641" height="19" fill="#f0f0f0"/>
<rect x="0" y="834" width="1641" height="1" fill="#fcfcfc"/>
<rect x="0" y="835" width="1641" height="3" fill="#f0f0f0"/>
<rect x="1" y="815" width="1" height="18" fill="#696969"/>
<rect x="2" y="815" width="1" height="18" fill="#a0a0a0"/>
<rect x="111" y="813" width="98" height="19" fill="#fff"/>
<rect x="110" y="814" width="1" height="19" fill="#000"/>
<rect x="209" y="814" width="1" height="19" fill="#000"/>
<rect x="110" y="832" width="100" height="1" fill="#000"/>
<rect x="111" y="833" width="100" height="1" fill="#d0d0d0"/>
<text x="18" y="829" font-size="13" fill="#808080" textLength="80" lengthAdjust="spacingAndGlyphs" text-anchor="start" shape-rendering="auto">EURUSD,Daily</text>
<text x="120" y="829" font-size="13" fill="#000" textLength="79" lengthAdjust="spacingAndGlyphs" text-anchor="start" shape-rendering="auto">USDCHF,Daily</text>
<text x="221" y="829" font-size="13" fill="#808080" textLength="82" lengthAdjust="spacingAndGlyphs" text-anchor="start" shape-rendering="auto">AUDUSD,Daily</text>
<text x="325" y="829" font-size="13" fill="#808080" textLength="81" lengthAdjust="spacingAndGlyphs" text-anchor="start" shape-rendering="auto">USDCAD,Daily</text>
<text x="428.5" y="829" font-size="13" fill="#808080" textLength="82.5" lengthAdjust="spacingAndGlyphs" text-anchor="start" shape-rendering="auto">USDCNH,Daily</text>
<text x="534" y="829" font-size="13" fill="#808080" textLength="81" lengthAdjust="spacingAndGlyphs" text-anchor="start" shape-rendering="auto">EURUSD,Daily</text>
<text x="638" y="829" font-size="13" fill="#808080" textLength="69" lengthAdjust="spacingAndGlyphs" text-anchor="start" shape-rendering="auto">GBPUSD,H4</text>
<text x="729" y="829" font-size="13" fill="#808080" textLength="82" lengthAdjust="spacingAndGlyphs" text-anchor="start" shape-rendering="auto">XAUUSD,Daily</text>
<text x="833" y="829" font-size="13" fill="#808080" textLength="50" lengthAdjust="spacingAndGlyphs" text-anchor="start" shape-rendering="auto">HK50,H1</text>
<text x="905" y="829" font-size="13" fill="#808080" textLength="57" lengthAdjust="spacingAndGlyphs" text-anchor="start" shape-rendering="auto">UK100,H1</text>
<text x="985" y="829" font-size="13" fill="#808080" textLength="57" lengthAdjust="spacingAndGlyphs" text-anchor="start" shape-rendering="auto">UK100,H1</text>
<text x="1065" y="829" font-size="13" fill="#808080" textLength="57" lengthAdjust="spacingAndGlyphs" text-anchor="start" shape-rendering="auto">GER30,H1</text>
<text x="1144" y="829" font-size="13" fill="#808080" textLength="55" lengthAdjust="spacingAndGlyphs" text-anchor="start" shape-rendering="auto">FRA40,H1</text>
<text x="1220" y="829" font-size="13" fill="#808080" textLength="64" lengthAdjust="spacingAndGlyphs" text-anchor="start" shape-rendering="auto">USOil,Daily</text>
<text x="1304" y="829" font-size="13" fill="#808080" textLength="63" lengthAdjust="spacingAndGlyphs" text-anchor="start" shape-rendering="auto">USDJPY,H1</text>
<text x="1388" y="829" font-size="13" fill="#808080" textLength="59" lengthAdjust="spacingAndGlyphs" text-anchor="start" shape-rendering="auto">DJ30,Daily</text>
<text x="1468" y="829" font-size="13" fill="#808080" textLength="78.6" lengthAdjust="spacingAndGlyphs" text-anchor="start" shape-rendering="auto">CHINA300,H1</text>
<rect x="314" y="817" width="1" height="14" fill="#606060"/>
<rect x="418" y="817" width="1" height="14" fill="#606060"/>
<rect x="522" y="817" width="1" height="14" fill="#606060"/>
<rect x="626" y="817" width="1" height="14" fill="#606060"/>
<rect x="718" y="817" width="1" height="14" fill="#606060"/>
<rect x="822" y="817" width="1" height="14" fill="#606060"/>
<rect x="895" y="817" width="1" height="14" fill="#606060"/>
<rect x="974" y="817" width="1" height="14" fill="#606060"/>
<rect x="1055" y="817" width="1" height="14" fill="#606060"/>
<rect x="1135" y="817" width="1" height="14" fill="#606060"/>
<rect x="1211" y="817" width="1" height="14" fill="#606060"/>
<rect x="1294" y="817" width="1" height="14" fill="#606060"/>
<rect x="1378" y="817" width="1" height="14" fill="#606060"/>
<rect x="1458" y="817" width="1" height="14" fill="#606060"/>
<rect x="1558" y="817" width="1" height="14" fill="#606060"/>
<svg x="1568" y="814" width="38.8" height="20" viewBox="0 0 38.8 20"><text x="0.5" y="15" font-size="13" fill="#808080" textLength="49" lengthAdjust="spacingAndGlyphs" shape-rendering="auto">USOil,H1</text></svg>
<path d="M1616 820 L1616 826.4 L1612.8 823.2 Z" fill="#a0a0a0" shape-rendering="auto"/>
<path d="M1632 819.8 L1632 826.6 L1635.5 823.2 Z" fill="#000" shape-rendering="auto"/>
</svg>
</body></html>
